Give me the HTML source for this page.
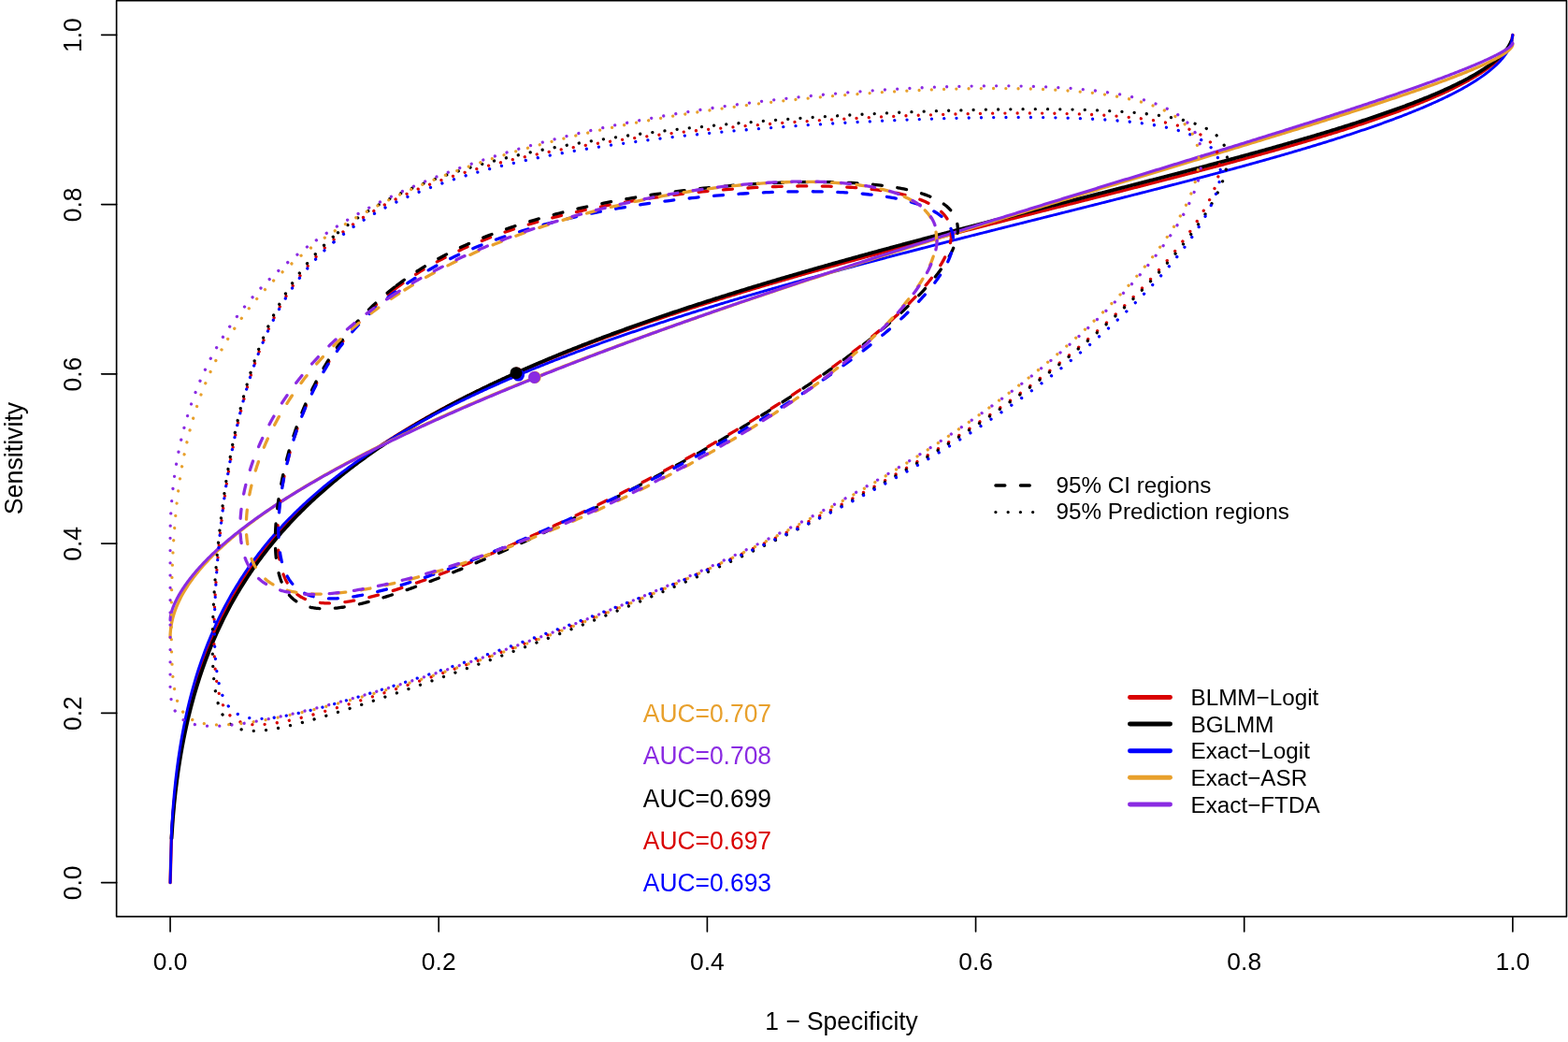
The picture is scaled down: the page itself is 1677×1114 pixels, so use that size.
<!DOCTYPE html>
<html lang="en"><head><meta charset="utf-8"><title>SROC curves</title>
<style>html,body{margin:0;padding:0;background:#fff;}body{width:1677px;height:1114px;overflow:hidden;}svg{display:block;}</style>
</head><body>
<svg width="1677" height="1114" viewBox="0 0 1677 1114" role="img" aria-label="SROC curves with 95% confidence and prediction regions">
<rect x="0" y="0" width="1677" height="1114" fill="#fff"/>
<g fill="none" stroke-linecap="round" stroke-linejoin="round">
<path d="M182.06,943.64 L183.50,893.42 L184.93,871.70 L186.37,855.28 L187.80,841.66 L189.24,829.85 L190.67,819.34 L192.11,809.82 L193.55,801.08 L194.98,792.98 L196.42,785.42 L197.85,778.32 L199.29,771.62 L200.73,765.26 L202.16,759.21 L203.60,753.44 L205.03,747.92 L206.47,742.62 L207.90,737.53 L209.34,732.62 L210.78,727.89 L212.21,723.31 L213.65,718.88 L215.08,714.59 L216.52,710.43 L217.96,706.38 L219.39,702.45 L220.83,698.63 L222.26,694.90 L223.70,691.27 L225.13,687.72 L226.57,684.26 L228.01,680.88 L229.44,677.58 L230.88,674.35 L232.31,671.18 L233.75,668.09 L235.19,665.05 L236.62,662.08 L238.06,659.16 L239.49,656.30 L240.93,653.49 L242.36,650.73 L243.80,648.02 L245.24,645.36 L246.67,642.74 L248.11,640.17 L249.54,637.64 L250.98,635.15 L252.42,632.70 L253.85,630.28 L255.29,627.91 L256.72,625.57 L258.16,623.26 L259.59,620.99 L261.03,618.75 L262.47,616.54 L263.90,614.36 L265.34,612.21 L266.77,610.09 L268.21,608.00 L269.65,605.93 L271.08,603.89 L272.52,601.88 L273.95,599.89 L275.39,597.93 L276.82,595.99 L278.26,594.07 L279.70,592.18 L281.13,590.30 L282.57,588.45 L284.00,586.62 L285.44,584.81 L286.87,583.02 L288.31,581.25 L289.75,579.50 L291.18,577.77 L292.62,576.05 L294.05,574.36 L295.49,572.68 L296.93,571.01 L298.36,569.37 L299.80,567.74 L301.23,566.13 L302.67,564.53 L304.10,562.95 L305.54,561.38 L306.98,559.83 L308.41,558.29 L309.85,556.76 L311.28,555.25 L312.72,553.76 L314.16,552.27 L315.59,550.80 L317.03,549.35 L318.46,547.90 L319.90,546.47 L321.33,545.05 L322.77,543.64 L324.21,542.24 L325.64,540.86 L327.08,539.48 L328.51,538.12 L329.95,536.77 L331.39,535.43 L332.82,534.10 L334.26,532.78 L335.69,531.47 L337.13,530.17 L338.56,528.88 L340.00,527.60 L341.44,526.33 L342.87,525.07 L344.31,523.82 L345.74,522.57 L347.18,521.34 L348.62,520.11 L350.05,518.90 L351.49,517.69 L352.92,516.49 L354.36,515.30 L355.79,514.12 L357.23,512.94 L358.67,511.78 L360.10,510.62 L361.54,509.47 L362.97,508.32 L364.41,507.19 L365.84,506.06 L367.28,504.94 L368.72,503.82 L370.15,502.72 L371.59,501.62 L373.02,500.52 L374.46,499.44 L375.90,498.36 L377.33,497.28 L378.77,496.22 L380.20,495.16 L381.64,494.11 L383.07,493.06 L384.51,492.02 L385.95,490.98 L387.38,489.95 L388.82,488.93 L390.25,487.91 L391.69,486.90 L393.13,485.90 L394.56,484.90 L396.00,483.90 L397.43,482.92 L398.87,481.93 L400.30,480.96 L401.74,479.98 L403.18,479.02 L404.61,478.06 L406.05,477.10 L407.48,476.15 L408.92,475.20 L410.36,474.26 L411.79,473.32 L413.23,472.39 L414.66,471.47 L416.10,470.54 L417.53,469.63 L418.97,468.71 L420.41,467.81 L421.84,466.90 L423.28,466.00 L424.71,465.11 L426.15,464.22 L427.59,463.33 L429.02,462.45 L430.46,461.57 L431.89,460.70 L433.33,459.83 L434.76,458.97 L436.20,458.11 L437.64,457.25 L439.07,456.40 L440.51,455.55 L441.94,454.71 L443.38,453.87 L444.82,453.03 L446.25,452.20 L447.69,451.37 L449.12,450.54 L450.56,449.72 L451.99,448.90 L453.43,448.09 L454.87,447.27 L456.30,446.47 L457.74,445.66 L459.17,444.86 L460.61,444.06 L462.04,443.27 L463.48,442.48 L464.92,441.69 L466.35,440.91 L467.79,440.13 L469.22,439.35 L470.66,438.58 L472.10,437.81 L473.53,437.04 L474.97,436.27 L476.40,435.51 L477.84,434.76 L479.27,434.00 L480.71,433.25 L482.15,432.50 L483.58,431.75 L485.02,431.01 L486.45,430.27 L487.89,429.53 L489.33,428.79 L490.76,428.06 L492.20,427.33 L493.63,426.61 L495.07,425.88 L496.50,425.16 L497.94,424.44 L499.38,423.73 L500.81,423.02 L502.25,422.31 L503.68,421.60 L505.12,420.89 L506.56,420.19 L507.99,419.49 L509.43,418.79 L510.86,418.10 L512.30,417.40 L513.73,416.71 L515.17,416.03 L516.61,415.34 L518.04,414.66 L519.48,413.98 L520.91,413.30 L522.35,412.62 L523.79,411.95 L525.22,411.28 L526.66,410.61 L528.09,409.94 L529.53,409.28 L530.96,408.62 L532.40,407.96 L533.84,407.30 L535.27,406.64 L536.71,405.99 L538.14,405.34 L539.58,404.69 L541.02,404.04 L542.45,403.40 L543.89,402.76 L545.32,402.11 L546.76,401.48 L548.19,400.84 L549.63,400.20 L551.07,399.57 L552.50,398.94 L553.94,398.31 L555.37,397.69 L556.81,397.06 L558.24,396.44 L559.68,395.82 L561.12,395.20 L562.55,394.58 L563.99,393.96 L565.42,393.35 L566.86,392.74 L568.30,392.13 L569.73,391.52 L571.17,390.91 L572.60,390.31 L574.04,389.71 L575.47,389.10 L576.91,388.51 L578.35,387.91 L579.78,387.31 L581.22,386.72 L582.65,386.13 L584.09,385.53 L585.53,384.94 L586.96,384.36 L588.40,383.77 L589.83,383.19 L591.27,382.60 L592.70,382.02 L594.14,381.44 L595.58,380.87 L597.01,380.29 L598.45,379.71 L599.88,379.14 L601.32,378.57 L602.76,378.00 L604.19,377.43 L605.63,376.86 L607.06,376.30 L608.50,375.73 L609.93,375.17 L611.37,374.61 L612.81,374.05 L614.24,373.49 L615.68,372.93 L617.11,372.38 L618.55,371.83 L619.99,371.27 L621.42,370.72 L622.86,370.17 L624.29,369.62 L625.73,369.08 L627.16,368.53 L628.60,367.99 L630.04,367.44 L631.47,366.90 L632.91,366.36 L634.34,365.82 L635.78,365.28 L637.21,364.75 L638.65,364.21 L640.09,363.68 L641.52,363.15 L642.96,362.61 L644.39,362.08 L645.83,361.55 L647.27,361.03 L648.70,360.50 L650.14,359.98 L651.57,359.45 L653.01,358.93 L654.44,358.41 L655.88,357.89 L657.32,357.37 L658.75,356.85 L660.19,356.33 L661.62,355.82 L663.06,355.30 L664.50,354.79 L665.93,354.28 L667.37,353.76 L668.80,353.25 L670.24,352.75 L671.67,352.24 L673.11,351.73 L674.55,351.23 L675.98,350.72 L677.42,350.22 L678.85,349.71 L680.29,349.21 L681.73,348.71 L683.16,348.21 L684.60,347.72 L686.03,347.22 L687.47,346.72 L688.90,346.23 L690.34,345.73 L691.78,345.24 L693.21,344.75 L694.65,344.26 L696.08,343.77 L697.52,343.28 L698.96,342.79 L700.39,342.30 L701.83,341.82 L703.26,341.33 L704.70,340.85 L706.13,340.36 L707.57,339.88 L709.01,339.40 L710.44,338.92 L711.88,338.44 L713.31,337.96 L714.75,337.48 L716.19,337.01 L717.62,336.53 L719.06,336.06 L720.49,335.58 L721.93,335.11 L723.36,334.64 L724.80,334.16 L726.24,333.69 L727.67,333.22 L729.11,332.76 L730.54,332.29 L731.98,331.82 L733.41,331.35 L734.85,330.89 L736.29,330.42 L737.72,329.96 L739.16,329.50 L740.59,329.04 L742.03,328.57 L743.47,328.11 L744.90,327.65 L746.34,327.19 L747.77,326.74 L749.21,326.28 L750.64,325.82 L752.08,325.37 L753.52,324.91 L754.95,324.46 L756.39,324.00 L757.82,323.55 L759.26,323.10 L760.70,322.65 L762.13,322.20 L763.57,321.75 L765.00,321.30 L766.44,320.85 L767.87,320.40 L769.31,319.96 L770.75,319.51 L772.18,319.07 L773.62,318.62 L775.05,318.18 L776.49,317.73 L777.93,317.29 L779.36,316.85 L780.80,316.41 L782.23,315.97 L783.67,315.53 L785.10,315.09 L786.54,314.65 L787.98,314.21 L789.41,313.78 L790.85,313.34 L792.28,312.90 L793.72,312.47 L795.16,312.03 L796.59,311.60 L798.03,311.17 L799.46,310.74 L800.90,310.30 L802.33,309.87 L803.77,309.44 L805.21,309.01 L806.64,308.58 L808.08,308.15 L809.51,307.73 L810.95,307.30 L812.38,306.87 L813.82,306.44 L815.26,306.02 L816.69,305.59 L818.13,305.17 L819.56,304.75 L821.00,304.32 L822.44,303.90 L823.87,303.48 L825.31,303.06 L826.74,302.63 L828.18,302.21 L829.61,301.79 L831.05,301.37 L832.49,300.96 L833.92,300.54 L835.36,300.12 L836.79,299.70 L838.23,299.29 L839.67,298.87 L841.10,298.45 L842.54,298.04 L843.97,297.62 L845.41,297.21 L846.84,296.80 L848.28,296.38 L849.72,295.97 L851.15,295.56 L852.59,295.15 L854.02,294.74 L855.46,294.33 L856.90,293.92 L858.33,293.51 L859.77,293.10 L861.20,292.69 L862.64,292.28 L864.07,291.88 L865.51,291.47 L866.95,291.06 L868.38,290.66 L869.82,290.25 L871.25,289.84 L872.69,289.44 L874.13,289.04 L875.56,288.63 L877.00,288.23 L878.43,287.83 L879.87,287.42 L881.30,287.02 L882.74,286.62 L884.18,286.22 L885.61,285.82 L887.05,285.42 L888.48,285.02 L889.92,284.62 L891.36,284.22 L892.79,283.82 L894.23,283.42 L895.66,283.03 L897.10,282.63 L898.53,282.23 L899.97,281.84 L901.41,281.44 L902.84,281.04 L904.28,280.65 L905.71,280.25 L907.15,279.86 L908.58,279.47 L910.02,279.07 L911.46,278.68 L912.89,278.29 L914.33,277.89 L915.76,277.50 L917.20,277.11 L918.64,276.72 L920.07,276.33 L921.51,275.94 L922.94,275.55 L924.38,275.16 L925.81,274.77 L927.25,274.38 L928.69,273.99 L930.12,273.60 L931.56,273.21 L932.99,272.82 L934.43,272.44 L935.87,272.05 L937.30,271.66 L938.74,271.28 L940.17,270.89 L941.61,270.50 L943.04,270.12 L944.48,269.73 L945.92,269.35 L947.35,268.96 L948.79,268.58 L950.22,268.20 L951.66,267.81 L953.10,267.43 L954.53,267.05 L955.97,266.66 L957.40,266.28 L958.84,265.90 L960.27,265.52 L961.71,265.14 L963.15,264.76 L964.58,264.37 L966.02,263.99 L967.45,263.61 L968.89,263.23 L970.33,262.85 L971.76,262.47 L973.20,262.10 L974.63,261.72 L976.07,261.34 L977.50,260.96 L978.94,260.58 L980.38,260.20 L981.81,259.83 L983.25,259.45 L984.68,259.07 L986.12,258.70 L987.56,258.32 L988.99,257.94 L990.43,257.57 L991.86,257.19 L993.30,256.81 L994.73,256.44 L996.17,256.06 L997.61,255.69 L999.04,255.31 L1000.48,254.94 L1001.91,254.57 L1003.35,254.19 L1004.78,253.82 L1006.22,253.45 L1007.66,253.07 L1009.09,252.70 L1010.53,252.33 L1011.96,251.95 L1013.40,251.58 L1014.84,251.21 L1016.27,250.84 L1017.71,250.46 L1019.14,250.09 L1020.58,249.72 L1022.01,249.35 L1023.45,248.98 L1024.89,248.61 L1026.32,248.24 L1027.76,247.87 L1029.19,247.50 L1030.63,247.13 L1032.07,246.76 L1033.50,246.39 L1034.94,246.02 L1036.37,245.65 L1037.81,245.28 L1039.24,244.91 L1040.68,244.54 L1042.12,244.17 L1043.55,243.80 L1044.99,243.43 L1046.42,243.07 L1047.86,242.70 L1049.30,242.33 L1050.73,241.96 L1052.17,241.59 L1053.60,241.23 L1055.04,240.86 L1056.47,240.49 L1057.91,240.12 L1059.35,239.76 L1060.78,239.39 L1062.22,239.02 L1063.65,238.66 L1065.09,238.29 L1066.53,237.92 L1067.96,237.56 L1069.40,237.19 L1070.83,236.83 L1072.27,236.46 L1073.70,236.09 L1075.14,235.73 L1076.58,235.36 L1078.01,235.00 L1079.45,234.63 L1080.88,234.27 L1082.32,233.90 L1083.75,233.54 L1085.19,233.17 L1086.63,232.81 L1088.06,232.44 L1089.50,232.08 L1090.93,231.71 L1092.37,231.35 L1093.81,230.98 L1095.24,230.62 L1096.68,230.25 L1098.11,229.89 L1099.55,229.53 L1100.98,229.16 L1102.42,228.80 L1103.86,228.43 L1105.29,228.07 L1106.73,227.71 L1108.16,227.34 L1109.60,226.98 L1111.04,226.61 L1112.47,226.25 L1113.91,225.89 L1115.34,225.52 L1116.78,225.16 L1118.21,224.80 L1119.65,224.43 L1121.09,224.07 L1122.52,223.70 L1123.96,223.34 L1125.39,222.98 L1126.83,222.61 L1128.27,222.25 L1129.70,221.89 L1131.14,221.52 L1132.57,221.16 L1134.01,220.80 L1135.44,220.43 L1136.88,220.07 L1138.32,219.71 L1139.75,219.34 L1141.19,218.98 L1142.62,218.62 L1144.06,218.25 L1145.50,217.89 L1146.93,217.53 L1148.37,217.16 L1149.80,216.80 L1151.24,216.44 L1152.67,216.07 L1154.11,215.71 L1155.55,215.35 L1156.98,214.98 L1158.42,214.62 L1159.85,214.26 L1161.29,213.89 L1162.73,213.53 L1164.16,213.16 L1165.60,212.80 L1167.03,212.44 L1168.47,212.07 L1169.90,211.71 L1171.34,211.35 L1172.78,210.98 L1174.21,210.62 L1175.65,210.25 L1177.08,209.89 L1178.52,209.52 L1179.95,209.16 L1181.39,208.80 L1182.83,208.43 L1184.26,208.07 L1185.70,207.70 L1187.13,207.34 L1188.57,206.97 L1190.01,206.61 L1191.44,206.24 L1192.88,205.88 L1194.31,205.51 L1195.75,205.15 L1197.18,204.78 L1198.62,204.41 L1200.06,204.05 L1201.49,203.68 L1202.93,203.32 L1204.36,202.95 L1205.80,202.58 L1207.24,202.22 L1208.67,201.85 L1210.11,201.48 L1211.54,201.12 L1212.98,200.75 L1214.41,200.38 L1215.85,200.02 L1217.29,199.65 L1218.72,199.28 L1220.16,198.91 L1221.59,198.55 L1223.03,198.18 L1224.47,197.81 L1225.90,197.44 L1227.34,197.07 L1228.77,196.70 L1230.21,196.33 L1231.64,195.97 L1233.08,195.60 L1234.52,195.23 L1235.95,194.86 L1237.39,194.49 L1238.82,194.12 L1240.26,193.75 L1241.70,193.38 L1243.13,193.01 L1244.57,192.63 L1246.00,192.26 L1247.44,191.89 L1248.87,191.52 L1250.31,191.15 L1251.75,190.78 L1253.18,190.40 L1254.62,190.03 L1256.05,189.66 L1257.49,189.29 L1258.93,188.91 L1260.36,188.54 L1261.80,188.16 L1263.23,187.79 L1264.67,187.42 L1266.10,187.04 L1267.54,186.67 L1268.98,186.29 L1270.41,185.91 L1271.85,185.54 L1273.28,185.16 L1274.72,184.79 L1276.15,184.41 L1277.59,184.03 L1279.03,183.66 L1280.46,183.28 L1281.90,182.90 L1283.33,182.52 L1284.77,182.14 L1286.21,181.76 L1287.64,181.38 L1289.08,181.00 L1290.51,180.62 L1291.95,180.24 L1293.38,179.86 L1294.82,179.48 L1296.26,179.10 L1297.69,178.72 L1299.13,178.34 L1300.56,177.95 L1302.00,177.57 L1303.44,177.19 L1304.87,176.80 L1306.31,176.42 L1307.74,176.03 L1309.18,175.65 L1310.61,175.26 L1312.05,174.88 L1313.49,174.49 L1314.92,174.10 L1316.36,173.72 L1317.79,173.33 L1319.23,172.94 L1320.67,172.55 L1322.10,172.16 L1323.54,171.77 L1324.97,171.38 L1326.41,170.99 L1327.84,170.60 L1329.28,170.21 L1330.72,169.82 L1332.15,169.43 L1333.59,169.03 L1335.02,168.64 L1336.46,168.25 L1337.90,167.85 L1339.33,167.46 L1340.77,167.06 L1342.20,166.66 L1343.64,166.27 L1345.07,165.87 L1346.51,165.47 L1347.95,165.07 L1349.38,164.67 L1350.82,164.27 L1352.25,163.87 L1353.69,163.47 L1355.12,163.07 L1356.56,162.67 L1358.00,162.27 L1359.43,161.86 L1360.87,161.46 L1362.30,161.05 L1363.74,160.65 L1365.18,160.24 L1366.61,159.84 L1368.05,159.43 L1369.48,159.02 L1370.92,158.61 L1372.35,158.20 L1373.79,157.79 L1375.23,157.38 L1376.66,156.97 L1378.10,156.56 L1379.53,156.14 L1380.97,155.73 L1382.41,155.31 L1383.84,154.90 L1385.28,154.48 L1386.71,154.06 L1388.15,153.65 L1389.58,153.23 L1391.02,152.81 L1392.46,152.39 L1393.89,151.97 L1395.33,151.54 L1396.76,151.12 L1398.20,150.70 L1399.64,150.27 L1401.07,149.84 L1402.51,149.42 L1403.94,148.99 L1405.38,148.56 L1406.81,148.13 L1408.25,147.70 L1409.69,147.27 L1411.12,146.84 L1412.56,146.40 L1413.99,145.97 L1415.43,145.53 L1416.87,145.09 L1418.30,144.66 L1419.74,144.22 L1421.17,143.78 L1422.61,143.33 L1424.04,142.89 L1425.48,142.45 L1426.92,142.00 L1428.35,141.56 L1429.79,141.11 L1431.22,140.66 L1432.66,140.21 L1434.10,139.76 L1435.53,139.31 L1436.97,138.86 L1438.40,138.40 L1439.84,137.94 L1441.27,137.49 L1442.71,137.03 L1444.15,136.57 L1445.58,136.11 L1447.02,135.64 L1448.45,135.18 L1449.89,134.71 L1451.32,134.24 L1452.76,133.78 L1454.20,133.30 L1455.63,132.83 L1457.07,132.36 L1458.50,131.88 L1459.94,131.41 L1461.38,130.93 L1462.81,130.45 L1464.25,129.97 L1465.68,129.48 L1467.12,129.00 L1468.55,128.51 L1469.99,128.02 L1471.43,127.53 L1472.86,127.04 L1474.30,126.54 L1475.73,126.04 L1477.17,125.55 L1478.61,125.04 L1480.04,124.54 L1481.48,124.04 L1482.91,123.53 L1484.35,123.02 L1485.78,122.51 L1487.22,122.00 L1488.66,121.48 L1490.09,120.96 L1491.53,120.44 L1492.96,119.92 L1494.40,119.39 L1495.84,118.86 L1497.27,118.33 L1498.71,117.80 L1500.14,117.26 L1501.58,116.73 L1503.01,116.18 L1504.45,115.64 L1505.89,115.09 L1507.32,114.54 L1508.76,113.99 L1510.19,113.43 L1511.63,112.87 L1513.07,112.31 L1514.50,111.75 L1515.94,111.18 L1517.37,110.61 L1518.81,110.03 L1520.24,109.45 L1521.68,108.87 L1523.12,108.28 L1524.55,107.69 L1525.99,107.10 L1527.42,106.50 L1528.86,105.89 L1530.29,105.29 L1531.73,104.68 L1533.17,104.06 L1534.60,103.44 L1536.04,102.82 L1537.47,102.19 L1538.91,101.55 L1540.35,100.91 L1541.78,100.27 L1543.22,99.62 L1544.65,98.96 L1546.09,98.30 L1547.52,97.63 L1548.96,96.96 L1550.40,96.28 L1551.83,95.59 L1553.27,94.90 L1554.70,94.20 L1556.14,93.50 L1557.58,92.78 L1559.01,92.06 L1560.45,91.33 L1561.88,90.59 L1563.32,89.85 L1564.75,89.09 L1566.19,88.33 L1567.63,87.55 L1569.06,86.77 L1570.50,85.97 L1571.93,85.17 L1573.37,84.35 L1574.81,83.52 L1576.24,82.68 L1577.68,81.82 L1579.11,80.95 L1580.55,80.07 L1581.98,79.17 L1583.42,78.25 L1584.86,77.31 L1586.29,76.36 L1587.73,75.39 L1589.16,74.39 L1590.60,73.37 L1592.04,72.33 L1593.47,71.26 L1594.91,70.16 L1596.34,69.03 L1597.78,67.86 L1599.21,66.66 L1600.65,65.41 L1602.09,64.11 L1603.52,62.75 L1604.96,61.33 L1606.39,59.84 L1607.83,58.26 L1609.27,56.57 L1610.70,54.74 L1612.14,52.74 L1613.57,50.49 L1615.01,47.86 L1616.44,44.52 L1617.88,37.32" stroke="#D90000" stroke-width="3.31"/>
<path d="M183.50,896.45 L184.93,875.43 L186.37,859.42 L187.80,846.07 L189.24,834.45 L190.67,824.08 L192.11,814.66 L193.55,806.00 L194.98,797.96 L196.42,790.45 L197.85,783.38 L199.29,776.69 L200.73,770.35 L202.16,764.31 L203.60,758.54 L205.03,753.01 L206.47,747.70 L207.90,742.59 L209.34,737.67 L210.78,732.91 L212.21,728.32 L213.65,723.87 L215.08,719.55 L216.52,715.36 L217.96,711.29 L219.39,707.33 L220.83,703.47 L222.26,699.71 L223.70,696.05 L225.13,692.47 L226.57,688.98 L228.01,685.57 L229.44,682.23 L230.88,678.96 L232.31,675.77 L233.75,672.63 L235.19,669.57 L236.62,666.56 L238.06,663.60 L239.49,660.71 L240.93,657.86 L242.36,655.07 L243.80,652.32 L245.24,649.63 L246.67,646.97 L248.11,644.37 L249.54,641.80 L250.98,639.27 L252.42,636.79 L253.85,634.34 L255.29,631.93 L256.72,629.55 L258.16,627.21 L259.59,624.91 L261.03,622.63 L262.47,620.39 L263.90,618.17 L265.34,615.99 L266.77,613.84 L268.21,611.71 L269.65,609.61 L271.08,607.54 L272.52,605.49 L273.95,603.47 L275.39,601.47 L276.82,599.50 L278.26,597.55 L279.70,595.62 L281.13,593.72 L282.57,591.84 L284.00,589.97 L285.44,588.13 L286.87,586.31 L288.31,584.51 L289.75,582.73 L291.18,580.96 L292.62,579.22 L294.05,577.49 L295.49,575.78 L296.93,574.09 L298.36,572.41 L299.80,570.75 L301.23,569.11 L302.67,567.48 L304.10,565.87 L305.54,564.27 L306.98,562.69 L308.41,561.12 L309.85,559.57 L311.28,558.03 L312.72,556.51 L314.16,554.99 L315.59,553.50 L317.03,552.01 L318.46,550.54 L319.90,549.08 L321.33,547.63 L322.77,546.19 L324.21,544.77 L325.64,543.36 L327.08,541.96 L328.51,540.57 L329.95,539.19 L331.39,537.82 L332.82,536.46 L334.26,535.12 L335.69,533.78 L337.13,532.46 L338.56,531.14 L340.00,529.84 L341.44,528.54 L342.87,527.25 L344.31,525.98 L345.74,524.71 L347.18,523.45 L348.62,522.20 L350.05,520.96 L351.49,519.73 L352.92,518.50 L354.36,517.29 L355.79,516.08 L357.23,514.88 L358.67,513.69 L360.10,512.51 L361.54,511.33 L362.97,510.17 L364.41,509.01 L365.84,507.86 L367.28,506.71 L368.72,505.58 L370.15,504.45 L371.59,503.32 L373.02,502.21 L374.46,501.10 L375.90,500.00 L377.33,498.90 L378.77,497.81 L380.20,496.73 L381.64,495.66 L383.07,494.59 L384.51,493.52 L385.95,492.47 L387.38,491.42 L388.82,490.37 L390.25,489.34 L391.69,488.30 L393.13,487.28 L394.56,486.26 L396.00,485.24 L397.43,484.23 L398.87,483.23 L400.30,482.23 L401.74,481.24 L403.18,480.25 L404.61,479.27 L406.05,478.29 L407.48,477.32 L408.92,476.36 L410.36,475.39 L411.79,474.44 L413.23,473.49 L414.66,472.54 L416.10,471.60 L417.53,470.66 L418.97,469.73 L420.41,468.80 L421.84,467.88 L423.28,466.96 L424.71,466.05 L426.15,465.14 L427.59,464.24 L429.02,463.34 L430.46,462.44 L431.89,461.55 L433.33,460.66 L434.76,459.78 L436.20,458.90 L437.64,458.03 L439.07,457.16 L440.51,456.29 L441.94,455.43 L443.38,454.57 L444.82,453.71 L446.25,452.86 L447.69,452.02 L449.12,451.17 L450.56,450.33 L451.99,449.50 L453.43,448.67 L454.87,447.84 L456.30,447.01 L457.74,446.19 L459.17,445.37 L460.61,444.56 L462.04,443.75 L463.48,442.94 L464.92,442.14 L466.35,441.34 L467.79,440.54 L469.22,439.75 L470.66,438.96 L472.10,438.17 L473.53,437.39 L474.97,436.61 L476.40,435.83 L477.84,435.05 L479.27,434.28 L480.71,433.51 L482.15,432.75 L483.58,431.99 L485.02,431.23 L486.45,430.47 L487.89,429.72 L489.33,428.97 L490.76,428.22 L492.20,427.48 L493.63,426.73 L495.07,426.00 L496.50,425.26 L497.94,424.53 L499.38,423.80 L500.81,423.07 L502.25,422.34 L503.68,421.62 L505.12,420.90 L506.56,420.18 L507.99,419.47 L509.43,418.76 L510.86,418.05 L512.30,417.34 L513.73,416.64 L515.17,415.93 L516.61,415.23 L518.04,414.54 L519.48,413.84 L520.91,413.15 L522.35,412.46 L523.79,411.77 L525.22,411.09 L526.66,410.40 L528.09,409.72 L529.53,409.05 L530.96,408.37 L532.40,407.70 L533.84,407.03 L535.27,406.36 L536.71,405.69 L538.14,405.02 L539.58,404.36 L541.02,403.70 L542.45,403.04 L543.89,402.39 L545.32,401.73 L546.76,401.08 L548.19,400.43 L549.63,399.78 L551.07,399.14 L552.50,398.49 L553.94,397.85 L555.37,397.21 L556.81,396.58 L558.24,395.94 L559.68,395.31 L561.12,394.67 L562.55,394.04 L563.99,393.42 L565.42,392.79 L566.86,392.17 L568.30,391.54 L569.73,390.92 L571.17,390.30 L572.60,389.69 L574.04,389.07 L575.47,388.46 L576.91,387.85 L578.35,387.24 L579.78,386.63 L581.22,386.02 L582.65,385.42 L584.09,384.82 L585.53,384.21 L586.96,383.61 L588.40,383.02 L589.83,382.42 L591.27,381.83 L592.70,381.23 L594.14,380.64 L595.58,380.05 L597.01,379.47 L598.45,378.88 L599.88,378.29 L601.32,377.71 L602.76,377.13 L604.19,376.55 L605.63,375.97 L607.06,375.39 L608.50,374.82 L609.93,374.25 L611.37,373.67 L612.81,373.10 L614.24,372.53 L615.68,371.97 L617.11,371.40 L618.55,370.83 L619.99,370.27 L621.42,369.71 L622.86,369.15 L624.29,368.59 L625.73,368.03 L627.16,367.47 L628.60,366.92 L630.04,366.37 L631.47,365.81 L632.91,365.26 L634.34,364.71 L635.78,364.16 L637.21,363.62 L638.65,363.07 L640.09,362.53 L641.52,361.98 L642.96,361.44 L644.39,360.90 L645.83,360.36 L647.27,359.83 L648.70,359.29 L650.14,358.75 L651.57,358.22 L653.01,357.69 L654.44,357.16 L655.88,356.62 L657.32,356.10 L658.75,355.57 L660.19,355.04 L661.62,354.52 L663.06,353.99 L664.50,353.47 L665.93,352.95 L667.37,352.42 L668.80,351.91 L670.24,351.39 L671.67,350.87 L673.11,350.35 L674.55,349.84 L675.98,349.32 L677.42,348.81 L678.85,348.30 L680.29,347.79 L681.73,347.28 L683.16,346.77 L684.60,346.26 L686.03,345.76 L687.47,345.25 L688.90,344.75 L690.34,344.24 L691.78,343.74 L693.21,343.24 L694.65,342.74 L696.08,342.24 L697.52,341.74 L698.96,341.25 L700.39,340.75 L701.83,340.25 L703.26,339.76 L704.70,339.27 L706.13,338.77 L707.57,338.28 L709.01,337.79 L710.44,337.30 L711.88,336.82 L713.31,336.33 L714.75,335.84 L716.19,335.36 L717.62,334.87 L719.06,334.39 L720.49,333.91 L721.93,333.42 L723.36,332.94 L724.80,332.46 L726.24,331.98 L727.67,331.51 L729.11,331.03 L730.54,330.55 L731.98,330.08 L733.41,329.60 L734.85,329.13 L736.29,328.66 L737.72,328.18 L739.16,327.71 L740.59,327.24 L742.03,326.77 L743.47,326.31 L744.90,325.84 L746.34,325.37 L747.77,324.90 L749.21,324.44 L750.64,323.97 L752.08,323.51 L753.52,323.05 L754.95,322.59 L756.39,322.12 L757.82,321.66 L759.26,321.20 L760.70,320.75 L762.13,320.29 L763.57,319.83 L765.00,319.37 L766.44,318.92 L767.87,318.46 L769.31,318.01 L770.75,317.55 L772.18,317.10 L773.62,316.65 L775.05,316.20 L776.49,315.75 L777.93,315.30 L779.36,314.85 L780.80,314.40 L782.23,313.95 L783.67,313.50 L785.10,313.06 L786.54,312.61 L787.98,312.17 L789.41,311.72 L790.85,311.28 L792.28,310.84 L793.72,310.39 L795.16,309.95 L796.59,309.51 L798.03,309.07 L799.46,308.63 L800.90,308.19 L802.33,307.75 L803.77,307.32 L805.21,306.88 L806.64,306.44 L808.08,306.01 L809.51,305.57 L810.95,305.14 L812.38,304.70 L813.82,304.27 L815.26,303.84 L816.69,303.41 L818.13,302.98 L819.56,302.55 L821.00,302.11 L822.44,301.69 L823.87,301.26 L825.31,300.83 L826.74,300.40 L828.18,299.97 L829.61,299.55 L831.05,299.12 L832.49,298.70 L833.92,298.27 L835.36,297.85 L836.79,297.42 L838.23,297.00 L839.67,296.58 L841.10,296.15 L842.54,295.73 L843.97,295.31 L845.41,294.89 L846.84,294.47 L848.28,294.05 L849.72,293.63 L851.15,293.22 L852.59,292.80 L854.02,292.38 L855.46,291.96 L856.90,291.55 L858.33,291.13 L859.77,290.72 L861.20,290.30 L862.64,289.89 L864.07,289.47 L865.51,289.06 L866.95,288.65 L868.38,288.24 L869.82,287.83 L871.25,287.41 L872.69,287.00 L874.13,286.59 L875.56,286.18 L877.00,285.77 L878.43,285.37 L879.87,284.96 L881.30,284.55 L882.74,284.14 L884.18,283.74 L885.61,283.33 L887.05,282.92 L888.48,282.52 L889.92,282.11 L891.36,281.71 L892.79,281.30 L894.23,280.90 L895.66,280.50 L897.10,280.09 L898.53,279.69 L899.97,279.29 L901.41,278.89 L902.84,278.49 L904.28,278.09 L905.71,277.69 L907.15,277.29 L908.58,276.89 L910.02,276.49 L911.46,276.09 L912.89,275.69 L914.33,275.29 L915.76,274.89 L917.20,274.50 L918.64,274.10 L920.07,273.70 L921.51,273.31 L922.94,272.91 L924.38,272.52 L925.81,272.12 L927.25,271.73 L928.69,271.33 L930.12,270.94 L931.56,270.55 L932.99,270.15 L934.43,269.76 L935.87,269.37 L937.30,268.98 L938.74,268.59 L940.17,268.19 L941.61,267.80 L943.04,267.41 L944.48,267.02 L945.92,266.63 L947.35,266.24 L948.79,265.85 L950.22,265.47 L951.66,265.08 L953.10,264.69 L954.53,264.30 L955.97,263.91 L957.40,263.53 L958.84,263.14 L960.27,262.75 L961.71,262.37 L963.15,261.98 L964.58,261.59 L966.02,261.21 L967.45,260.82 L968.89,260.44 L970.33,260.06 L971.76,259.67 L973.20,259.29 L974.63,258.90 L976.07,258.52 L977.50,258.14 L978.94,257.75 L980.38,257.37 L981.81,256.99 L983.25,256.61 L984.68,256.23 L986.12,255.85 L987.56,255.46 L988.99,255.08 L990.43,254.70 L991.86,254.32 L993.30,253.94 L994.73,253.56 L996.17,253.18 L997.61,252.80 L999.04,252.43 L1000.48,252.05 L1001.91,251.67 L1003.35,251.29 L1004.78,250.91 L1006.22,250.53 L1007.66,250.16 L1009.09,249.78 L1010.53,249.40 L1011.96,249.03 L1013.40,248.65 L1014.84,248.27 L1016.27,247.90 L1017.71,247.52 L1019.14,247.14 L1020.58,246.77 L1022.01,246.39 L1023.45,246.02 L1024.89,245.64 L1026.32,245.27 L1027.76,244.89 L1029.19,244.52 L1030.63,244.15 L1032.07,243.77 L1033.50,243.40 L1034.94,243.02 L1036.37,242.65 L1037.81,242.28 L1039.24,241.90 L1040.68,241.53 L1042.12,241.16 L1043.55,240.79 L1044.99,240.41 L1046.42,240.04 L1047.86,239.67 L1049.30,239.30 L1050.73,238.93 L1052.17,238.56 L1053.60,238.18 L1055.04,237.81 L1056.47,237.44 L1057.91,237.07 L1059.35,236.70 L1060.78,236.33 L1062.22,235.96 L1063.65,235.59 L1065.09,235.22 L1066.53,234.85 L1067.96,234.48 L1069.40,234.11 L1070.83,233.74 L1072.27,233.37 L1073.70,233.00 L1075.14,232.63 L1076.58,232.26 L1078.01,231.90 L1079.45,231.53 L1080.88,231.16 L1082.32,230.79 L1083.75,230.42 L1085.19,230.05 L1086.63,229.68 L1088.06,229.32 L1089.50,228.95 L1090.93,228.58 L1092.37,228.21 L1093.81,227.84 L1095.24,227.48 L1096.68,227.11 L1098.11,226.74 L1099.55,226.37 L1100.98,226.01 L1102.42,225.64 L1103.86,225.27 L1105.29,224.91 L1106.73,224.54 L1108.16,224.17 L1109.60,223.80 L1111.04,223.44 L1112.47,223.07 L1113.91,222.70 L1115.34,222.34 L1116.78,221.97 L1118.21,221.60 L1119.65,221.24 L1121.09,220.87 L1122.52,220.51 L1123.96,220.14 L1125.39,219.77 L1126.83,219.41 L1128.27,219.04 L1129.70,218.67 L1131.14,218.31 L1132.57,217.94 L1134.01,217.58 L1135.44,217.21 L1136.88,216.84 L1138.32,216.48 L1139.75,216.11 L1141.19,215.75 L1142.62,215.38 L1144.06,215.01 L1145.50,214.65 L1146.93,214.28 L1148.37,213.92 L1149.80,213.55 L1151.24,213.18 L1152.67,212.82 L1154.11,212.45 L1155.55,212.09 L1156.98,211.72 L1158.42,211.35 L1159.85,210.99 L1161.29,210.62 L1162.73,210.26 L1164.16,209.89 L1165.60,209.52 L1167.03,209.16 L1168.47,208.79 L1169.90,208.43 L1171.34,208.06 L1172.78,207.69 L1174.21,207.33 L1175.65,206.96 L1177.08,206.59 L1178.52,206.23 L1179.95,205.86 L1181.39,205.49 L1182.83,205.13 L1184.26,204.76 L1185.70,204.39 L1187.13,204.03 L1188.57,203.66 L1190.01,203.29 L1191.44,202.93 L1192.88,202.56 L1194.31,202.19 L1195.75,201.82 L1197.18,201.46 L1198.62,201.09 L1200.06,200.72 L1201.49,200.35 L1202.93,199.99 L1204.36,199.62 L1205.80,199.25 L1207.24,198.88 L1208.67,198.51 L1210.11,198.15 L1211.54,197.78 L1212.98,197.41 L1214.41,197.04 L1215.85,196.67 L1217.29,196.30 L1218.72,195.93 L1220.16,195.56 L1221.59,195.19 L1223.03,194.82 L1224.47,194.45 L1225.90,194.08 L1227.34,193.71 L1228.77,193.34 L1230.21,192.97 L1231.64,192.60 L1233.08,192.23 L1234.52,191.86 L1235.95,191.49 L1237.39,191.12 L1238.82,190.75 L1240.26,190.38 L1241.70,190.00 L1243.13,189.63 L1244.57,189.26 L1246.00,188.89 L1247.44,188.52 L1248.87,188.14 L1250.31,187.77 L1251.75,187.40 L1253.18,187.02 L1254.62,186.65 L1256.05,186.28 L1257.49,185.90 L1258.93,185.53 L1260.36,185.15 L1261.80,184.78 L1263.23,184.40 L1264.67,184.03 L1266.10,183.65 L1267.54,183.28 L1268.98,182.90 L1270.41,182.52 L1271.85,182.15 L1273.28,181.77 L1274.72,181.39 L1276.15,181.02 L1277.59,180.64 L1279.03,180.26 L1280.46,179.88 L1281.90,179.50 L1283.33,179.12 L1284.77,178.74 L1286.21,178.36 L1287.64,177.98 L1289.08,177.60 L1290.51,177.22 L1291.95,176.84 L1293.38,176.46 L1294.82,176.08 L1296.26,175.70 L1297.69,175.32 L1299.13,174.93 L1300.56,174.55 L1302.00,174.17 L1303.44,173.78 L1304.87,173.40 L1306.31,173.02 L1307.74,172.63 L1309.18,172.25 L1310.61,171.86 L1312.05,171.47 L1313.49,171.09 L1314.92,170.70 L1316.36,170.31 L1317.79,169.93 L1319.23,169.54 L1320.67,169.15 L1322.10,168.76 L1323.54,168.37 L1324.97,167.98 L1326.41,167.59 L1327.84,167.20 L1329.28,166.81 L1330.72,166.42 L1332.15,166.03 L1333.59,165.63 L1335.02,165.24 L1336.46,164.85 L1337.90,164.45 L1339.33,164.06 L1340.77,163.66 L1342.20,163.27 L1343.64,162.87 L1345.07,162.47 L1346.51,162.08 L1347.95,161.68 L1349.38,161.28 L1350.82,160.88 L1352.25,160.48 L1353.69,160.08 L1355.12,159.68 L1356.56,159.28 L1358.00,158.88 L1359.43,158.48 L1360.87,158.07 L1362.30,157.67 L1363.74,157.26 L1365.18,156.86 L1366.61,156.45 L1368.05,156.05 L1369.48,155.64 L1370.92,155.23 L1372.35,154.83 L1373.79,154.42 L1375.23,154.01 L1376.66,153.60 L1378.10,153.19 L1379.53,152.77 L1380.97,152.36 L1382.41,151.95 L1383.84,151.53 L1385.28,151.12 L1386.71,150.70 L1388.15,150.29 L1389.58,149.87 L1391.02,149.45 L1392.46,149.03 L1393.89,148.61 L1395.33,148.19 L1396.76,147.77 L1398.20,147.35 L1399.64,146.93 L1401.07,146.50 L1402.51,146.08 L1403.94,145.65 L1405.38,145.23 L1406.81,144.80 L1408.25,144.37 L1409.69,143.94 L1411.12,143.51 L1412.56,143.08 L1413.99,142.65 L1415.43,142.21 L1416.87,141.78 L1418.30,141.35 L1419.74,140.91 L1421.17,140.47 L1422.61,140.03 L1424.04,139.59 L1425.48,139.15 L1426.92,138.71 L1428.35,138.27 L1429.79,137.82 L1431.22,137.38 L1432.66,136.93 L1434.10,136.49 L1435.53,136.04 L1436.97,135.59 L1438.40,135.14 L1439.84,134.68 L1441.27,134.23 L1442.71,133.77 L1444.15,133.32 L1445.58,132.86 L1447.02,132.40 L1448.45,131.94 L1449.89,131.48 L1451.32,131.02 L1452.76,130.55 L1454.20,130.08 L1455.63,129.62 L1457.07,129.15 L1458.50,128.68 L1459.94,128.20 L1461.38,127.73 L1462.81,127.26 L1464.25,126.78 L1465.68,126.30 L1467.12,125.82 L1468.55,125.34 L1469.99,124.85 L1471.43,124.37 L1472.86,123.88 L1474.30,123.39 L1475.73,122.90 L1477.17,122.41 L1478.61,121.91 L1480.04,121.41 L1481.48,120.92 L1482.91,120.41 L1484.35,119.91 L1485.78,119.41 L1487.22,118.90 L1488.66,118.39 L1490.09,117.88 L1491.53,117.36 L1492.96,116.85 L1494.40,116.33 L1495.84,115.81 L1497.27,115.29 L1498.71,114.76 L1500.14,114.23 L1501.58,113.70 L1503.01,113.17 L1504.45,112.63 L1505.89,112.09 L1507.32,111.55 L1508.76,111.01 L1510.19,110.46 L1511.63,109.91 L1513.07,109.35 L1514.50,108.80 L1515.94,108.24 L1517.37,107.68 L1518.81,107.11 L1520.24,106.54 L1521.68,105.97 L1523.12,105.39 L1524.55,104.81 L1525.99,104.23 L1527.42,103.64 L1528.86,103.05 L1530.29,102.45 L1531.73,101.85 L1533.17,101.25 L1534.60,100.64 L1536.04,100.03 L1537.47,99.41 L1538.91,98.79 L1540.35,98.16 L1541.78,97.53 L1543.22,96.89 L1544.65,96.25 L1546.09,95.60 L1547.52,94.95 L1548.96,94.29 L1550.40,93.62 L1551.83,92.95 L1553.27,92.28 L1554.70,91.59 L1556.14,90.90 L1557.58,90.21 L1559.01,89.50 L1560.45,88.79 L1561.88,88.07 L1563.32,87.34 L1564.75,86.60 L1566.19,85.86 L1567.63,85.10 L1569.06,84.34 L1570.50,83.57 L1571.93,82.78 L1573.37,81.99 L1574.81,81.18 L1576.24,80.36 L1577.68,79.53 L1579.11,78.69 L1580.55,77.83 L1581.98,76.96 L1583.42,76.07 L1584.86,75.16 L1586.29,74.24 L1587.73,73.30 L1589.16,72.34 L1590.60,71.35 L1592.04,70.34 L1593.47,69.31 L1594.91,68.25 L1596.34,67.16 L1597.78,66.04 L1599.21,64.88 L1600.65,63.68 L1602.09,62.43 L1603.52,61.13 L1604.96,59.78 L1606.39,58.35 L1607.83,56.84 L1609.27,55.23 L1610.70,53.49 L1612.14,51.60 L1613.57,49.47 L1615.01,47.00 L1616.44,43.88" stroke="#000000" stroke-width="3.81"/>
<path d="M182.06,943.64 L183.50,888.02 L184.93,865.23 L186.37,848.23 L187.80,834.24 L189.24,822.20 L190.67,811.53 L192.11,801.90 L193.55,793.10 L194.98,784.97 L196.42,777.40 L197.85,770.30 L199.29,763.61 L200.73,757.29 L202.16,751.28 L203.60,745.56 L205.03,740.08 L206.47,734.84 L207.90,729.81 L209.34,724.97 L210.78,720.30 L212.21,715.79 L213.65,711.43 L215.08,707.22 L216.52,703.13 L217.96,699.16 L219.39,695.30 L220.83,691.55 L222.26,687.90 L223.70,684.35 L225.13,680.88 L226.57,677.50 L228.01,674.20 L229.44,670.97 L230.88,667.82 L232.31,664.73 L233.75,661.71 L235.19,658.75 L236.62,655.85 L238.06,653.01 L239.49,650.23 L240.93,647.49 L242.36,644.81 L243.80,642.18 L245.24,639.59 L246.67,637.05 L248.11,634.55 L249.54,632.09 L250.98,629.67 L252.42,627.29 L253.85,624.95 L255.29,622.65 L256.72,620.38 L258.16,618.14 L259.59,615.94 L261.03,613.77 L262.47,611.63 L263.90,609.52 L265.34,607.44 L266.77,605.38 L268.21,603.36 L269.65,601.36 L271.08,599.39 L272.52,597.44 L273.95,595.52 L275.39,593.62 L276.82,591.74 L278.26,589.89 L279.70,588.06 L281.13,586.25 L282.57,584.46 L284.00,582.69 L285.44,580.94 L286.87,579.21 L288.31,577.50 L289.75,575.81 L291.18,574.14 L292.62,572.48 L294.05,570.84 L295.49,569.22 L296.93,567.62 L298.36,566.03 L299.80,564.46 L301.23,562.90 L302.67,561.36 L304.10,559.83 L305.54,558.32 L306.98,556.82 L308.41,555.34 L309.85,553.87 L311.28,552.41 L312.72,550.97 L314.16,549.54 L315.59,548.12 L317.03,546.72 L318.46,545.33 L319.90,543.95 L321.33,542.58 L322.77,541.22 L324.21,539.87 L325.64,538.54 L327.08,537.22 L328.51,535.90 L329.95,534.60 L331.39,533.31 L332.82,532.03 L334.26,530.76 L335.69,529.49 L337.13,528.24 L338.56,527.00 L340.00,525.77 L341.44,524.54 L342.87,523.33 L344.31,522.12 L345.74,520.93 L347.18,519.74 L348.62,518.56 L350.05,517.39 L351.49,516.22 L352.92,515.07 L354.36,513.92 L355.79,512.78 L357.23,511.65 L358.67,510.53 L360.10,509.41 L361.54,508.31 L362.97,507.21 L364.41,506.11 L365.84,505.03 L367.28,503.95 L368.72,502.87 L370.15,501.81 L371.59,500.75 L373.02,499.70 L374.46,498.65 L375.90,497.61 L377.33,496.58 L378.77,495.55 L380.20,494.53 L381.64,493.52 L383.07,492.51 L384.51,491.51 L385.95,490.52 L387.38,489.53 L388.82,488.54 L390.25,487.56 L391.69,486.59 L393.13,485.62 L394.56,484.66 L396.00,483.70 L397.43,482.75 L398.87,481.81 L400.30,480.86 L401.74,479.93 L403.18,479.00 L404.61,478.07 L406.05,477.15 L407.48,476.24 L408.92,475.33 L410.36,474.42 L411.79,473.52 L413.23,472.62 L414.66,471.73 L416.10,470.84 L417.53,469.96 L418.97,469.08 L420.41,468.21 L421.84,467.34 L423.28,466.47 L424.71,465.61 L426.15,464.75 L427.59,463.90 L429.02,463.05 L430.46,462.21 L431.89,461.37 L433.33,460.53 L434.76,459.70 L436.20,458.87 L437.64,458.05 L439.07,457.23 L440.51,456.41 L441.94,455.60 L443.38,454.79 L444.82,453.98 L446.25,453.18 L447.69,452.38 L449.12,451.59 L450.56,450.79 L451.99,450.01 L453.43,449.22 L454.87,448.44 L456.30,447.66 L457.74,446.89 L459.17,446.12 L460.61,445.35 L462.04,444.59 L463.48,443.82 L464.92,443.07 L466.35,442.31 L467.79,441.56 L469.22,440.81 L470.66,440.07 L472.10,439.32 L473.53,438.58 L474.97,437.85 L476.40,437.11 L477.84,436.38 L479.27,435.66 L480.71,434.93 L482.15,434.21 L483.58,433.49 L485.02,432.77 L486.45,432.06 L487.89,431.35 L489.33,430.64 L490.76,429.94 L492.20,429.23 L493.63,428.53 L495.07,427.84 L496.50,427.14 L497.94,426.45 L499.38,425.76 L500.81,425.07 L502.25,424.39 L503.68,423.70 L505.12,423.02 L506.56,422.35 L507.99,421.67 L509.43,421.00 L510.86,420.33 L512.30,419.66 L513.73,419.00 L515.17,418.33 L516.61,417.67 L518.04,417.02 L519.48,416.36 L520.91,415.71 L522.35,415.05 L523.79,414.40 L525.22,413.76 L526.66,413.11 L528.09,412.47 L529.53,411.83 L530.96,411.19 L532.40,410.55 L533.84,409.92 L535.27,409.29 L536.71,408.66 L538.14,408.03 L539.58,407.40 L541.02,406.78 L542.45,406.16 L543.89,405.54 L545.32,404.92 L546.76,404.30 L548.19,403.69 L549.63,403.07 L551.07,402.46 L552.50,401.85 L553.94,401.25 L555.37,400.64 L556.81,400.04 L558.24,399.44 L559.68,398.84 L561.12,398.24 L562.55,397.64 L563.99,397.05 L565.42,396.46 L566.86,395.87 L568.30,395.28 L569.73,394.69 L571.17,394.11 L572.60,393.52 L574.04,392.94 L575.47,392.36 L576.91,391.78 L578.35,391.20 L579.78,390.63 L581.22,390.05 L582.65,389.48 L584.09,388.91 L585.53,388.34 L586.96,387.77 L588.40,387.21 L589.83,386.64 L591.27,386.08 L592.70,385.52 L594.14,384.96 L595.58,384.40 L597.01,383.84 L598.45,383.29 L599.88,382.73 L601.32,382.18 L602.76,381.63 L604.19,381.08 L605.63,380.53 L607.06,379.99 L608.50,379.44 L609.93,378.90 L611.37,378.35 L612.81,377.81 L614.24,377.27 L615.68,376.73 L617.11,376.20 L618.55,375.66 L619.99,375.13 L621.42,374.59 L622.86,374.06 L624.29,373.53 L625.73,373.00 L627.16,372.47 L628.60,371.95 L630.04,371.42 L631.47,370.90 L632.91,370.38 L634.34,369.85 L635.78,369.33 L637.21,368.81 L638.65,368.30 L640.09,367.78 L641.52,367.26 L642.96,366.75 L644.39,366.24 L645.83,365.72 L647.27,365.21 L648.70,364.70 L650.14,364.20 L651.57,363.69 L653.01,363.18 L654.44,362.68 L655.88,362.17 L657.32,361.67 L658.75,361.17 L660.19,360.67 L661.62,360.17 L663.06,359.67 L664.50,359.17 L665.93,358.68 L667.37,358.18 L668.80,357.69 L670.24,357.20 L671.67,356.70 L673.11,356.21 L674.55,355.72 L675.98,355.23 L677.42,354.75 L678.85,354.26 L680.29,353.77 L681.73,353.29 L683.16,352.80 L684.60,352.32 L686.03,351.84 L687.47,351.36 L688.90,350.88 L690.34,350.40 L691.78,349.92 L693.21,349.44 L694.65,348.97 L696.08,348.49 L697.52,348.02 L698.96,347.55 L700.39,347.07 L701.83,346.60 L703.26,346.13 L704.70,345.66 L706.13,345.19 L707.57,344.72 L709.01,344.26 L710.44,343.79 L711.88,343.33 L713.31,342.86 L714.75,342.40 L716.19,341.94 L717.62,341.47 L719.06,341.01 L720.49,340.55 L721.93,340.09 L723.36,339.64 L724.80,339.18 L726.24,338.72 L727.67,338.26 L729.11,337.81 L730.54,337.36 L731.98,336.90 L733.41,336.45 L734.85,336.00 L736.29,335.55 L737.72,335.10 L739.16,334.65 L740.59,334.20 L742.03,333.75 L743.47,333.30 L744.90,332.85 L746.34,332.41 L747.77,331.96 L749.21,331.52 L750.64,331.08 L752.08,330.63 L753.52,330.19 L754.95,329.75 L756.39,329.31 L757.82,328.87 L759.26,328.43 L760.70,327.99 L762.13,327.55 L763.57,327.12 L765.00,326.68 L766.44,326.24 L767.87,325.81 L769.31,325.37 L770.75,324.94 L772.18,324.51 L773.62,324.08 L775.05,323.64 L776.49,323.21 L777.93,322.78 L779.36,322.35 L780.80,321.92 L782.23,321.49 L783.67,321.07 L785.10,320.64 L786.54,320.21 L787.98,319.79 L789.41,319.36 L790.85,318.94 L792.28,318.51 L793.72,318.09 L795.16,317.67 L796.59,317.24 L798.03,316.82 L799.46,316.40 L800.90,315.98 L802.33,315.56 L803.77,315.14 L805.21,314.72 L806.64,314.31 L808.08,313.89 L809.51,313.47 L810.95,313.05 L812.38,312.64 L813.82,312.22 L815.26,311.81 L816.69,311.39 L818.13,310.98 L819.56,310.57 L821.00,310.15 L822.44,309.74 L823.87,309.33 L825.31,308.92 L826.74,308.51 L828.18,308.10 L829.61,307.69 L831.05,307.28 L832.49,306.87 L833.92,306.47 L835.36,306.06 L836.79,305.65 L838.23,305.24 L839.67,304.84 L841.10,304.43 L842.54,304.03 L843.97,303.62 L845.41,303.22 L846.84,302.82 L848.28,302.41 L849.72,302.01 L851.15,301.61 L852.59,301.21 L854.02,300.81 L855.46,300.41 L856.90,300.01 L858.33,299.61 L859.77,299.21 L861.20,298.81 L862.64,298.41 L864.07,298.01 L865.51,297.62 L866.95,297.22 L868.38,296.82 L869.82,296.43 L871.25,296.03 L872.69,295.63 L874.13,295.24 L875.56,294.85 L877.00,294.45 L878.43,294.06 L879.87,293.66 L881.30,293.27 L882.74,292.88 L884.18,292.49 L885.61,292.10 L887.05,291.71 L888.48,291.31 L889.92,290.92 L891.36,290.53 L892.79,290.14 L894.23,289.76 L895.66,289.37 L897.10,288.98 L898.53,288.59 L899.97,288.20 L901.41,287.81 L902.84,287.43 L904.28,287.04 L905.71,286.66 L907.15,286.27 L908.58,285.88 L910.02,285.50 L911.46,285.11 L912.89,284.73 L914.33,284.35 L915.76,283.96 L917.20,283.58 L918.64,283.19 L920.07,282.81 L921.51,282.43 L922.94,282.05 L924.38,281.67 L925.81,281.28 L927.25,280.90 L928.69,280.52 L930.12,280.14 L931.56,279.76 L932.99,279.38 L934.43,279.00 L935.87,278.62 L937.30,278.24 L938.74,277.87 L940.17,277.49 L941.61,277.11 L943.04,276.73 L944.48,276.35 L945.92,275.98 L947.35,275.60 L948.79,275.22 L950.22,274.85 L951.66,274.47 L953.10,274.09 L954.53,273.72 L955.97,273.34 L957.40,272.97 L958.84,272.59 L960.27,272.22 L961.71,271.85 L963.15,271.47 L964.58,271.10 L966.02,270.72 L967.45,270.35 L968.89,269.98 L970.33,269.61 L971.76,269.23 L973.20,268.86 L974.63,268.49 L976.07,268.12 L977.50,267.75 L978.94,267.37 L980.38,267.00 L981.81,266.63 L983.25,266.26 L984.68,265.89 L986.12,265.52 L987.56,265.15 L988.99,264.78 L990.43,264.41 L991.86,264.04 L993.30,263.67 L994.73,263.31 L996.17,262.94 L997.61,262.57 L999.04,262.20 L1000.48,261.83 L1001.91,261.46 L1003.35,261.10 L1004.78,260.73 L1006.22,260.36 L1007.66,259.99 L1009.09,259.63 L1010.53,259.26 L1011.96,258.89 L1013.40,258.53 L1014.84,258.16 L1016.27,257.80 L1017.71,257.43 L1019.14,257.06 L1020.58,256.70 L1022.01,256.33 L1023.45,255.97 L1024.89,255.60 L1026.32,255.24 L1027.76,254.87 L1029.19,254.51 L1030.63,254.14 L1032.07,253.78 L1033.50,253.42 L1034.94,253.05 L1036.37,252.69 L1037.81,252.32 L1039.24,251.96 L1040.68,251.60 L1042.12,251.23 L1043.55,250.87 L1044.99,250.51 L1046.42,250.14 L1047.86,249.78 L1049.30,249.42 L1050.73,249.06 L1052.17,248.69 L1053.60,248.33 L1055.04,247.97 L1056.47,247.61 L1057.91,247.24 L1059.35,246.88 L1060.78,246.52 L1062.22,246.16 L1063.65,245.80 L1065.09,245.44 L1066.53,245.07 L1067.96,244.71 L1069.40,244.35 L1070.83,243.99 L1072.27,243.63 L1073.70,243.27 L1075.14,242.91 L1076.58,242.55 L1078.01,242.19 L1079.45,241.82 L1080.88,241.46 L1082.32,241.10 L1083.75,240.74 L1085.19,240.38 L1086.63,240.02 L1088.06,239.66 L1089.50,239.30 L1090.93,238.94 L1092.37,238.58 L1093.81,238.22 L1095.24,237.86 L1096.68,237.50 L1098.11,237.14 L1099.55,236.78 L1100.98,236.42 L1102.42,236.06 L1103.86,235.70 L1105.29,235.34 L1106.73,234.98 L1108.16,234.62 L1109.60,234.26 L1111.04,233.90 L1112.47,233.54 L1113.91,233.18 L1115.34,232.82 L1116.78,232.46 L1118.21,232.10 L1119.65,231.74 L1121.09,231.38 L1122.52,231.02 L1123.96,230.66 L1125.39,230.30 L1126.83,229.94 L1128.27,229.58 L1129.70,229.22 L1131.14,228.86 L1132.57,228.50 L1134.01,228.14 L1135.44,227.78 L1136.88,227.42 L1138.32,227.06 L1139.75,226.70 L1141.19,226.34 L1142.62,225.98 L1144.06,225.62 L1145.50,225.26 L1146.93,224.90 L1148.37,224.54 L1149.80,224.18 L1151.24,223.82 L1152.67,223.46 L1154.11,223.10 L1155.55,222.74 L1156.98,222.38 L1158.42,222.01 L1159.85,221.65 L1161.29,221.29 L1162.73,220.93 L1164.16,220.57 L1165.60,220.21 L1167.03,219.85 L1168.47,219.49 L1169.90,219.12 L1171.34,218.76 L1172.78,218.40 L1174.21,218.04 L1175.65,217.68 L1177.08,217.32 L1178.52,216.95 L1179.95,216.59 L1181.39,216.23 L1182.83,215.87 L1184.26,215.50 L1185.70,215.14 L1187.13,214.78 L1188.57,214.42 L1190.01,214.05 L1191.44,213.69 L1192.88,213.33 L1194.31,212.96 L1195.75,212.60 L1197.18,212.24 L1198.62,211.87 L1200.06,211.51 L1201.49,211.14 L1202.93,210.78 L1204.36,210.41 L1205.80,210.05 L1207.24,209.68 L1208.67,209.32 L1210.11,208.95 L1211.54,208.59 L1212.98,208.22 L1214.41,207.86 L1215.85,207.49 L1217.29,207.13 L1218.72,206.76 L1220.16,206.39 L1221.59,206.03 L1223.03,205.66 L1224.47,205.29 L1225.90,204.92 L1227.34,204.56 L1228.77,204.19 L1230.21,203.82 L1231.64,203.45 L1233.08,203.08 L1234.52,202.71 L1235.95,202.35 L1237.39,201.98 L1238.82,201.61 L1240.26,201.24 L1241.70,200.87 L1243.13,200.50 L1244.57,200.13 L1246.00,199.76 L1247.44,199.38 L1248.87,199.01 L1250.31,198.64 L1251.75,198.27 L1253.18,197.90 L1254.62,197.52 L1256.05,197.15 L1257.49,196.78 L1258.93,196.41 L1260.36,196.03 L1261.80,195.66 L1263.23,195.28 L1264.67,194.91 L1266.10,194.53 L1267.54,194.16 L1268.98,193.78 L1270.41,193.41 L1271.85,193.03 L1273.28,192.65 L1274.72,192.28 L1276.15,191.90 L1277.59,191.52 L1279.03,191.14 L1280.46,190.77 L1281.90,190.39 L1283.33,190.01 L1284.77,189.63 L1286.21,189.25 L1287.64,188.87 L1289.08,188.49 L1290.51,188.11 L1291.95,187.73 L1293.38,187.34 L1294.82,186.96 L1296.26,186.58 L1297.69,186.19 L1299.13,185.81 L1300.56,185.43 L1302.00,185.04 L1303.44,184.66 L1304.87,184.27 L1306.31,183.89 L1307.74,183.50 L1309.18,183.11 L1310.61,182.73 L1312.05,182.34 L1313.49,181.95 L1314.92,181.56 L1316.36,181.17 L1317.79,180.78 L1319.23,180.39 L1320.67,180.00 L1322.10,179.61 L1323.54,179.22 L1324.97,178.83 L1326.41,178.43 L1327.84,178.04 L1329.28,177.64 L1330.72,177.25 L1332.15,176.86 L1333.59,176.46 L1335.02,176.06 L1336.46,175.67 L1337.90,175.27 L1339.33,174.87 L1340.77,174.47 L1342.20,174.07 L1343.64,173.67 L1345.07,173.27 L1346.51,172.87 L1347.95,172.47 L1349.38,172.07 L1350.82,171.66 L1352.25,171.26 L1353.69,170.85 L1355.12,170.45 L1356.56,170.04 L1358.00,169.64 L1359.43,169.23 L1360.87,168.82 L1362.30,168.41 L1363.74,168.00 L1365.18,167.59 L1366.61,167.18 L1368.05,166.77 L1369.48,166.36 L1370.92,165.94 L1372.35,165.53 L1373.79,165.11 L1375.23,164.70 L1376.66,164.28 L1378.10,163.86 L1379.53,163.45 L1380.97,163.03 L1382.41,162.61 L1383.84,162.19 L1385.28,161.76 L1386.71,161.34 L1388.15,160.92 L1389.58,160.49 L1391.02,160.07 L1392.46,159.64 L1393.89,159.21 L1395.33,158.79 L1396.76,158.36 L1398.20,157.93 L1399.64,157.49 L1401.07,157.06 L1402.51,156.63 L1403.94,156.19 L1405.38,155.76 L1406.81,155.32 L1408.25,154.88 L1409.69,154.45 L1411.12,154.01 L1412.56,153.57 L1413.99,153.12 L1415.43,152.68 L1416.87,152.24 L1418.30,151.79 L1419.74,151.34 L1421.17,150.90 L1422.61,150.45 L1424.04,150.00 L1425.48,149.54 L1426.92,149.09 L1428.35,148.64 L1429.79,148.18 L1431.22,147.72 L1432.66,147.26 L1434.10,146.80 L1435.53,146.34 L1436.97,145.88 L1438.40,145.42 L1439.84,144.95 L1441.27,144.48 L1442.71,144.02 L1444.15,143.55 L1445.58,143.07 L1447.02,142.60 L1448.45,142.13 L1449.89,141.65 L1451.32,141.17 L1452.76,140.69 L1454.20,140.21 L1455.63,139.73 L1457.07,139.24 L1458.50,138.76 L1459.94,138.27 L1461.38,137.78 L1462.81,137.29 L1464.25,136.79 L1465.68,136.30 L1467.12,135.80 L1468.55,135.30 L1469.99,134.80 L1471.43,134.29 L1472.86,133.79 L1474.30,133.28 L1475.73,132.77 L1477.17,132.26 L1478.61,131.74 L1480.04,131.23 L1481.48,130.71 L1482.91,130.19 L1484.35,129.66 L1485.78,129.14 L1487.22,128.61 L1488.66,128.08 L1490.09,127.54 L1491.53,127.01 L1492.96,126.47 L1494.40,125.93 L1495.84,125.38 L1497.27,124.83 L1498.71,124.28 L1500.14,123.73 L1501.58,123.17 L1503.01,122.62 L1504.45,122.05 L1505.89,121.49 L1507.32,120.92 L1508.76,120.35 L1510.19,119.77 L1511.63,119.19 L1513.07,118.61 L1514.50,118.03 L1515.94,117.44 L1517.37,116.84 L1518.81,116.25 L1520.24,115.65 L1521.68,115.04 L1523.12,114.43 L1524.55,113.82 L1525.99,113.20 L1527.42,112.58 L1528.86,111.95 L1530.29,111.32 L1531.73,110.69 L1533.17,110.04 L1534.60,109.40 L1536.04,108.75 L1537.47,108.09 L1538.91,107.43 L1540.35,106.76 L1541.78,106.09 L1543.22,105.41 L1544.65,104.72 L1546.09,104.03 L1547.52,103.34 L1548.96,102.63 L1550.40,101.92 L1551.83,101.20 L1553.27,100.47 L1554.70,99.74 L1556.14,99.00 L1557.58,98.25 L1559.01,97.49 L1560.45,96.72 L1561.88,95.95 L1563.32,95.16 L1564.75,94.36 L1566.19,93.56 L1567.63,92.74 L1569.06,91.91 L1570.50,91.07 L1571.93,90.22 L1573.37,89.35 L1574.81,88.48 L1576.24,87.58 L1577.68,86.68 L1579.11,85.75 L1580.55,84.81 L1581.98,83.85 L1583.42,82.88 L1584.86,81.88 L1586.29,80.86 L1587.73,79.82 L1589.16,78.76 L1590.60,77.67 L1592.04,76.55 L1593.47,75.40 L1594.91,74.22 L1596.34,73.00 L1597.78,71.74 L1599.21,70.43 L1600.65,69.08 L1602.09,67.67 L1603.52,66.20 L1604.96,64.65 L1606.39,63.02 L1607.83,61.29 L1609.27,59.43 L1610.70,57.41 L1612.14,55.19 L1613.57,52.68 L1615.01,49.72 L1616.44,45.92 L1617.88,37.32" stroke="#0000FF" stroke-width="2.90"/>
<path d="M182.06,681.49 L182.07,680.25 L182.10,679.02 L182.15,677.78 L182.22,676.54 L182.31,675.30 L182.42,674.05 L182.54,672.81 L182.69,671.56 L182.86,670.31 L183.05,669.06 L183.25,667.81 L183.48,666.56 L183.73,665.31 L183.99,664.05 L184.28,662.79 L184.59,661.53 L184.91,660.27 L185.26,659.01 L185.62,657.75 L186.01,656.48 L186.41,655.22 L186.83,653.95 L187.28,652.68 L187.74,651.41 L188.22,650.13 L188.72,648.86 L189.25,647.58 L189.79,646.31 L190.35,645.03 L190.93,643.75 L191.53,642.47 L192.15,641.19 L192.79,639.90 L193.44,638.62 L194.12,637.33 L194.82,636.04 L195.53,634.75 L196.27,633.46 L197.03,632.17 L197.80,630.88 L198.59,629.59 L199.41,628.29 L200.24,626.99 L201.09,625.70 L201.96,624.40 L202.85,623.10 L203.76,621.79 L204.69,620.49 L205.64,619.19 L206.60,617.88 L207.59,616.58 L208.59,615.27 L209.62,613.96 L210.66,612.65 L211.72,611.34 L212.80,610.03 L213.90,608.72 L215.02,607.40 L216.16,606.09 L217.31,604.77 L218.49,603.45 L219.68,602.14 L220.89,600.82 L222.12,599.50 L223.37,598.18 L224.64,596.85 L225.93,595.53 L227.23,594.21 L228.56,592.88 L229.90,591.56 L231.26,590.23 L232.64,588.90 L234.04,587.57 L235.45,586.24 L236.89,584.91 L238.34,583.58 L239.81,582.25 L241.30,580.92 L242.81,579.58 L244.33,578.25 L245.87,576.92 L247.43,575.58 L249.01,574.24 L250.61,572.91 L252.22,571.57 L253.86,570.23 L255.51,568.89 L257.18,567.55 L258.86,566.21 L260.56,564.87 L262.28,563.52 L264.02,562.18 L265.78,560.84 L267.55,559.49 L269.34,558.15 L271.15,556.80 L272.98,555.46 L274.82,554.11 L276.68,552.76 L278.56,551.41 L280.45,550.07 L282.36,548.72 L284.29,547.37 L286.23,546.02 L288.20,544.67 L290.17,543.32 L292.17,541.96 L294.18,540.61 L296.21,539.26 L298.26,537.91 L300.32,536.55 L302.40,535.20 L304.49,533.85 L306.60,532.49 L308.73,531.14 L310.87,529.78 L313.03,528.43 L315.21,527.07 L317.40,525.71 L319.61,524.36 L321.84,523.00 L324.08,521.64 L326.33,520.29 L328.60,518.93 L330.89,517.57 L333.19,516.21 L335.51,514.85 L337.85,513.49 L340.20,512.14 L342.56,510.78 L344.94,509.42 L347.34,508.06 L349.75,506.70 L352.18,505.34 L354.62,503.98 L357.07,502.62 L359.54,501.26 L362.03,499.90 L364.53,498.54 L367.05,497.18 L369.58,495.82 L372.12,494.46 L374.68,493.10 L377.26,491.74 L379.84,490.38 L382.45,489.02 L385.06,487.66 L387.69,486.30 L390.34,484.93 L393.00,483.57 L395.67,482.21 L398.36,480.85 L401.06,479.49 L403.77,478.13 L406.50,476.77 L409.24,475.41 L412.00,474.05 L414.76,472.69 L417.55,471.34 L420.34,469.98 L423.15,468.62 L425.97,467.26 L428.81,465.90 L431.65,464.54 L434.51,463.18 L437.39,461.83 L440.27,460.47 L443.17,459.11 L446.08,457.75 L449.00,456.40 L451.94,455.04 L454.89,453.68 L457.85,452.33 L460.82,450.97 L463.81,449.62 L466.80,448.26 L469.81,446.91 L472.83,445.55 L475.86,444.20 L478.91,442.85 L481.96,441.49 L485.03,440.14 L488.11,438.79 L491.20,437.44 L494.30,436.09 L497.41,434.74 L500.53,433.39 L503.67,432.04 L506.81,430.69 L509.97,429.34 L513.14,427.99 L516.31,426.65 L519.50,425.30 L522.70,423.95 L525.91,422.61 L529.13,421.26 L532.35,419.92 L535.59,418.58 L538.84,417.23 L542.10,415.89 L545.37,414.55 L548.65,413.21 L551.94,411.87 L555.24,410.53 L558.54,409.19 L561.86,407.85 L565.19,406.51 L568.52,405.18 L571.87,403.84 L575.22,402.51 L578.58,401.17 L581.95,399.84 L585.33,398.51 L588.72,397.17 L592.12,395.84 L595.53,394.51 L598.94,393.18 L602.36,391.86 L605.79,390.53 L609.23,389.20 L612.68,387.88 L616.13,386.55 L619.60,385.23 L623.07,383.91 L626.54,382.58 L630.03,381.26 L633.52,379.94 L637.02,378.62 L640.53,377.31 L644.04,375.99 L647.56,374.67 L651.09,373.36 L654.63,372.04 L658.17,370.73 L661.72,369.42 L665.27,368.11 L668.83,366.80 L672.40,365.49 L675.98,364.18 L679.56,362.88 L683.14,361.57 L686.74,360.27 L690.33,358.97 L693.94,357.67 L697.55,356.37 L701.16,355.07 L704.78,353.77 L708.41,352.47 L712.04,351.18 L715.68,349.88 L719.32,348.59 L722.97,347.30 L726.62,346.01 L730.27,344.72 L733.93,343.43 L737.60,342.15 L741.27,340.86 L744.94,339.58 L748.62,338.30 L752.30,337.02 L755.99,335.74 L759.68,334.46 L763.38,333.18 L767.07,331.91 L770.78,330.63 L774.48,329.36 L778.19,328.09 L781.90,326.82 L785.62,325.55 L789.34,324.29 L793.06,323.02 L796.78,321.76 L800.51,320.50 L804.24,319.23 L807.98,317.98 L811.71,316.72 L815.45,315.46 L819.19,314.21 L822.93,312.96 L826.68,311.71 L830.42,310.46 L834.17,309.21 L837.92,307.96 L841.67,306.72 L845.43,305.47 L849.18,304.23 L852.94,302.99 L856.70,301.76 L860.45,300.52 L864.21,299.29 L867.98,298.05 L871.74,296.82 L875.50,295.59 L879.26,294.37 L883.03,293.14 L886.79,291.92 L890.56,290.69 L894.32,289.47 L898.09,288.26 L901.85,287.04 L905.62,285.82 L909.38,284.61 L913.15,283.40 L916.91,282.19 L920.68,280.98 L924.44,279.78 L928.20,278.58 L931.96,277.37 L935.73,276.17 L939.49,274.98 L943.24,273.78 L947.00,272.59 L950.76,271.39 L954.51,270.20 L958.27,269.02 L962.02,267.83 L965.77,266.65 L969.52,265.46 L973.26,264.28 L977.01,263.11 L980.75,261.93 L984.49,260.76 L988.23,259.59 L991.96,258.42 L995.70,257.25 L999.43,256.08 L1003.16,254.92 L1006.88,253.76 L1010.60,252.60 L1014.32,251.44 L1018.04,250.29 L1021.75,249.14 L1025.46,247.99 L1029.16,246.84 L1032.87,245.69 L1036.56,244.55 L1040.26,243.41 L1043.95,242.27 L1047.64,241.13 L1051.32,239.99 L1055.00,238.86 L1058.67,237.73 L1062.34,236.60 L1066.01,235.48 L1069.67,234.35 L1073.32,233.23 L1076.97,232.11 L1080.62,231.00 L1084.26,229.88 L1087.90,228.77 L1091.53,227.66 L1095.16,226.55 L1098.78,225.45 L1102.39,224.35 L1106.00,223.25 L1109.61,222.15 L1113.20,221.05 L1116.80,219.96 L1120.38,218.87 L1123.96,217.78 L1127.54,216.70 L1131.11,215.62 L1134.67,214.54 L1138.22,213.46 L1141.77,212.38 L1145.31,211.31 L1148.85,210.24 L1152.38,209.17 L1155.90,208.11 L1159.41,207.04 L1162.92,205.98 L1166.42,204.92 L1169.91,203.87 L1173.40,202.82 L1176.87,201.77 L1180.34,200.72 L1183.81,199.67 L1187.26,198.63 L1190.71,197.59 L1194.15,196.56 L1197.58,195.52 L1201.00,194.49 L1204.41,193.46 L1207.82,192.44 L1211.22,191.41 L1214.61,190.39 L1217.99,189.37 L1221.36,188.36 L1224.72,187.35 L1228.07,186.34 L1231.42,185.33 L1234.75,184.32 L1238.08,183.32 L1241.40,182.32 L1244.70,181.33 L1248.00,180.33 L1251.29,179.34 L1254.57,178.36 L1257.84,177.37 L1261.10,176.39 L1264.35,175.41 L1267.59,174.43 L1270.81,173.46 L1274.03,172.49 L1277.24,171.52 L1280.44,170.56 L1283.63,169.59 L1286.80,168.63 L1289.97,167.68 L1293.13,166.72 L1296.27,165.77 L1299.41,164.83 L1302.53,163.88 L1305.64,162.94 L1308.74,162.00 L1311.83,161.07 L1314.91,160.13 L1317.98,159.20 L1321.03,158.28 L1324.08,157.35 L1327.11,156.43 L1330.13,155.51 L1333.14,154.60 L1336.13,153.69 L1339.12,152.78 L1342.09,151.87 L1345.05,150.97 L1348.00,150.07 L1350.94,149.17 L1353.86,148.28 L1356.77,147.39 L1359.67,146.50 L1362.55,145.62 L1365.43,144.74 L1368.29,143.86 L1371.13,142.99 L1373.97,142.11 L1376.79,141.25 L1379.60,140.38 L1382.39,139.52 L1385.18,138.66 L1387.94,137.80 L1390.70,136.95 L1393.44,136.10 L1396.17,135.25 L1398.88,134.41 L1401.58,133.57 L1404.27,132.73 L1406.94,131.90 L1409.60,131.07 L1412.25,130.24 L1414.88,129.42 L1417.49,128.60 L1420.10,127.78 L1422.68,126.97 L1425.26,126.16 L1427.82,125.35 L1430.36,124.55 L1432.89,123.74 L1435.41,122.95 L1437.91,122.15 L1440.40,121.36 L1442.87,120.57 L1445.32,119.79 L1447.76,119.01 L1450.19,118.23 L1452.60,117.46 L1455.00,116.69 L1457.38,115.92 L1459.74,115.16 L1462.09,114.39 L1464.43,113.64 L1466.75,112.88 L1469.05,112.13 L1471.34,111.39 L1473.61,110.64 L1475.86,109.90 L1478.10,109.17 L1480.33,108.43 L1482.54,107.70 L1484.73,106.98 L1486.91,106.25 L1489.07,105.53 L1491.21,104.82 L1493.34,104.10 L1495.45,103.39 L1497.54,102.69 L1499.62,101.99 L1501.68,101.29 L1503.73,100.59 L1505.76,99.90 L1507.77,99.21 L1509.77,98.53 L1511.74,97.85 L1513.71,97.17 L1515.65,96.50 L1517.58,95.83 L1519.49,95.16 L1521.38,94.50 L1523.26,93.84 L1525.12,93.18 L1526.96,92.53 L1528.79,91.88 L1530.60,91.23 L1532.39,90.59 L1534.16,89.95 L1535.92,89.32 L1537.66,88.69 L1539.38,88.06 L1541.08,87.44 L1542.76,86.82 L1544.43,86.20 L1546.08,85.59 L1547.72,84.98 L1549.33,84.37 L1550.93,83.77 L1552.51,83.17 L1554.07,82.58 L1555.61,81.99 L1557.13,81.40 L1558.64,80.82 L1560.13,80.24 L1561.60,79.66 L1563.05,79.09 L1564.49,78.52 L1565.90,77.95 L1567.30,77.39 L1568.68,76.84 L1570.04,76.28 L1571.38,75.73 L1572.71,75.19 L1574.01,74.64 L1575.30,74.10 L1576.57,73.57 L1577.82,73.04 L1579.05,72.51 L1580.26,71.99 L1581.45,71.47 L1582.63,70.95 L1583.78,70.44 L1584.92,69.93 L1586.04,69.42 L1587.14,68.92 L1588.22,68.43 L1589.28,67.93 L1590.32,67.44 L1591.35,66.96 L1592.35,66.48 L1593.34,66.00 L1594.30,65.52 L1595.25,65.05 L1596.18,64.59 L1597.09,64.12 L1597.98,63.66 L1598.85,63.21 L1599.70,62.76 L1600.53,62.31 L1601.35,61.87 L1602.14,61.43 L1602.91,60.99 L1603.67,60.56 L1604.41,60.13 L1605.12,59.71 L1605.82,59.29 L1606.50,58.87 L1607.15,58.46 L1607.79,58.05 L1608.41,57.64 L1609.01,57.24 L1609.59,56.84 L1610.15,56.45 L1610.69,56.06 L1611.22,55.68 L1611.72,55.30 L1612.20,54.92 L1612.66,54.55 L1613.11,54.18 L1613.53,53.81 L1613.93,53.45 L1614.32,53.09 L1614.68,52.74 L1615.03,52.39 L1615.35,52.04 L1615.66,51.70 L1615.95,51.36 L1616.21,51.03 L1616.46,50.70 L1616.69,50.37 L1616.89,50.05 L1617.08,49.73 L1617.25,49.42 L1617.40,49.11 L1617.52,48.80 L1617.63,48.50 L1617.72,48.20 L1617.79,47.90 L1617.84,47.61 L1617.87,47.33 L1617.88,47.05" stroke="#E8A02C" stroke-width="3.31"/>
<path d="M182.06,662.97 L182.08,662.07 L182.13,661.17 L182.22,660.26 L182.34,659.36 L182.48,658.46 L182.65,657.55 L182.84,656.65 L183.05,655.74 L183.28,654.84 L183.53,653.93 L183.80,653.02 L184.09,652.12 L184.40,651.21 L184.72,650.30 L185.05,649.39 L185.40,648.48 L185.77,647.56 L186.15,646.65 L186.54,645.74 L186.95,644.82 L187.37,643.91 L187.80,642.99 L188.24,642.08 L188.70,641.16 L189.17,640.25 L189.65,639.33 L190.14,638.41 L190.64,637.49 L191.16,636.57 L191.69,635.65 L192.22,634.73 L192.77,633.81 L193.33,632.89 L193.90,631.96 L194.48,631.04 L195.08,630.12 L195.68,629.19 L196.29,628.27 L196.92,627.34 L197.55,626.41 L198.19,625.49 L198.85,624.56 L199.51,623.63 L200.19,622.70 L200.87,621.77 L201.57,620.84 L202.27,619.91 L202.99,618.98 L203.71,618.05 L204.45,617.12 L205.19,616.18 L205.95,615.25 L206.71,614.32 L207.49,613.38 L208.27,612.45 L209.06,611.51 L209.87,610.58 L210.68,609.64 L211.50,608.70 L212.34,607.76 L213.18,606.83 L214.03,605.89 L214.89,604.95 L215.76,604.01 L216.64,603.07 L217.53,602.13 L218.43,601.19 L219.34,600.25 L220.26,599.30 L221.18,598.36 L222.12,597.42 L223.07,596.48 L224.02,595.53 L224.99,594.59 L225.96,593.64 L226.94,592.70 L227.93,591.75 L228.94,590.81 L229.95,589.86 L230.97,588.91 L232.00,587.96 L233.03,587.02 L234.08,586.07 L235.14,585.12 L236.20,584.17 L237.28,583.22 L238.36,582.27 L239.46,581.32 L240.56,580.37 L241.67,579.42 L242.79,578.47 L243.92,577.52 L245.06,576.56 L246.20,575.61 L247.36,574.66 L248.52,573.70 L249.70,572.75 L250.88,571.80 L252.07,570.84 L253.27,569.89 L254.48,568.93 L255.70,567.98 L256.92,567.02 L258.16,566.07 L259.40,565.11 L260.65,564.15 L261.92,563.19 L263.19,562.24 L264.46,561.28 L265.75,560.32 L267.05,559.36 L268.35,558.40 L269.67,557.45 L270.99,556.49 L272.32,555.53 L273.66,554.57 L275.00,553.61 L276.36,552.65 L277.72,551.69 L279.10,550.72 L280.48,549.76 L281.87,548.80 L283.26,547.84 L284.67,546.88 L286.08,545.92 L287.51,544.95 L288.94,543.99 L290.38,543.03 L291.83,542.07 L293.28,541.10 L294.75,540.14 L296.22,539.17 L297.70,538.21 L299.19,537.25 L300.69,536.28 L302.19,535.32 L303.70,534.35 L305.23,533.39 L306.75,532.42 L308.29,531.46 L309.84,530.49 L311.39,529.53 L312.95,528.56 L314.52,527.59 L316.10,526.63 L317.68,525.66 L319.28,524.69 L320.88,523.73 L322.49,522.76 L324.10,521.79 L325.73,520.83 L327.36,519.86 L329.00,518.89 L330.65,517.93 L332.30,516.96 L333.97,515.99 L335.64,515.02 L337.32,514.05 L339.00,513.09 L340.69,512.12 L342.40,511.15 L344.10,510.18 L345.82,509.21 L347.54,508.24 L349.28,507.28 L351.01,506.31 L352.76,505.34 L354.51,504.37 L356.28,503.40 L358.04,502.43 L359.82,501.46 L361.60,500.49 L363.39,499.53 L365.19,498.56 L366.99,497.59 L368.81,496.62 L370.63,495.65 L372.45,494.68 L374.29,493.71 L376.13,492.74 L377.97,491.77 L379.83,490.80 L381.69,489.83 L383.56,488.86 L385.43,487.90 L387.32,486.93 L389.21,485.96 L391.10,484.99 L393.01,484.02 L394.92,483.05 L396.83,482.08 L398.76,481.11 L400.69,480.14 L402.63,479.17 L404.57,478.20 L406.52,477.24 L408.48,476.27 L410.44,475.30 L412.41,474.33 L414.39,473.36 L416.38,472.39 L418.37,471.42 L420.36,470.46 L422.37,469.49 L424.38,468.52 L426.39,467.55 L428.42,466.58 L430.45,465.61 L432.48,464.65 L434.52,463.68 L436.57,462.71 L438.63,461.74 L440.69,460.78 L442.75,459.81 L444.83,458.84 L446.91,457.88 L448.99,456.91 L451.08,455.94 L453.18,454.98 L455.28,454.01 L457.39,453.04 L459.51,452.08 L461.63,451.11 L463.76,450.15 L465.89,449.18 L468.03,448.22 L470.18,447.25 L472.33,446.29 L474.48,445.32 L476.65,444.36 L478.81,443.39 L480.99,442.43 L483.17,441.46 L485.35,440.50 L487.54,439.54 L489.74,438.57 L491.94,437.61 L494.15,436.65 L496.36,435.68 L498.58,434.72 L500.81,433.76 L503.03,432.80 L505.27,431.84 L507.51,430.88 L509.75,429.91 L512.00,428.95 L514.26,427.99 L516.52,427.03 L518.79,426.07 L521.06,425.11 L523.34,424.15 L525.62,423.19 L527.90,422.24 L530.20,421.28 L532.49,420.32 L534.79,419.36 L537.10,418.40 L539.41,417.45 L541.73,416.49 L544.05,415.53 L546.38,414.58 L548.71,413.62 L551.04,412.66 L553.38,411.71 L555.73,410.75 L558.08,409.80 L560.43,408.84 L562.79,407.89 L565.15,406.94 L567.52,405.98 L569.89,405.03 L572.27,404.08 L574.65,403.13 L577.04,402.17 L579.43,401.22 L581.82,400.27 L584.22,399.32 L586.62,398.37 L589.03,397.42 L591.44,396.47 L593.86,395.52 L596.28,394.58 L598.70,393.63 L601.13,392.68 L603.56,391.73 L606.00,390.79 L608.44,389.84 L610.88,388.89 L613.33,387.95 L615.78,387.00 L618.23,386.06 L620.69,385.11 L623.16,384.17 L625.62,383.23 L628.09,382.28 L630.57,381.34 L633.05,380.40 L635.53,379.46 L638.01,378.52 L640.50,377.58 L642.99,376.64 L645.49,375.70 L647.99,374.76 L650.49,373.82 L653.00,372.88 L655.51,371.95 L658.02,371.01 L660.53,370.07 L663.05,369.14 L665.57,368.20 L668.10,367.27 L670.63,366.33 L673.16,365.40 L675.69,364.47 L678.23,363.53 L680.77,362.60 L683.32,361.67 L685.86,360.74 L688.41,359.81 L690.96,358.88 L693.52,357.95 L696.08,357.02 L698.64,356.09 L701.20,355.16 L703.77,354.24 L706.34,353.31 L708.91,352.39 L711.48,351.46 L714.06,350.54 L716.64,349.61 L719.22,348.69 L721.80,347.77 L724.39,346.84 L726.98,345.92 L729.57,345.00 L732.16,344.08 L734.76,343.16 L737.35,342.24 L739.95,341.33 L742.56,340.41 L745.16,339.49 L747.77,338.58 L750.38,337.66 L752.99,336.74 L755.60,335.83 L758.21,334.92 L760.83,334.00 L763.45,333.09 L766.07,332.18 L768.69,331.27 L771.31,330.36 L773.94,329.45 L776.57,328.54 L779.20,327.63 L781.83,326.73 L784.46,325.82 L787.09,324.91 L789.73,324.01 L792.36,323.10 L795.00,322.20 L797.64,321.30 L800.28,320.40 L802.92,319.49 L805.57,318.59 L808.21,317.69 L810.86,316.79 L813.50,315.90 L816.15,315.00 L818.80,314.10 L821.45,313.20 L824.10,312.31 L826.76,311.41 L829.41,310.52 L832.07,309.63 L834.72,308.74 L837.38,307.84 L840.04,306.95 L842.69,306.06 L845.35,305.17 L848.01,304.29 L850.67,303.40 L853.33,302.51 L855.99,301.63 L858.66,300.74 L861.32,299.86 L863.98,298.97 L866.65,298.09 L869.31,297.21 L871.98,296.33 L874.64,295.45 L877.31,294.57 L879.97,293.69 L882.64,292.81 L885.30,291.94 L887.97,291.06 L890.64,290.19 L893.30,289.31 L895.97,288.44 L898.64,287.57 L901.30,286.70 L903.97,285.83 L906.64,284.96 L909.30,284.09 L911.97,283.22 L914.64,282.35 L917.30,281.49 L919.97,280.62 L922.63,279.76 L925.30,278.89 L927.96,278.03 L930.63,277.17 L933.29,276.31 L935.96,275.45 L938.62,274.59 L941.28,273.74 L943.95,272.88 L946.61,272.02 L949.27,271.17 L951.93,270.31 L954.59,269.46 L957.25,268.61 L959.90,267.76 L962.56,266.91 L965.22,266.06 L967.87,265.21 L970.53,264.37 L973.18,263.52 L975.84,262.67 L978.49,261.83 L981.14,260.99 L983.79,260.15 L986.44,259.30 L989.08,258.46 L991.73,257.63 L994.37,256.79 L997.02,255.95 L999.66,255.11 L1002.30,254.28 L1004.94,253.45 L1007.58,252.61 L1010.21,251.78 L1012.85,250.95 L1015.48,250.12 L1018.11,249.29 L1020.74,248.46 L1023.37,247.64 L1026.00,246.81 L1028.63,245.99 L1031.25,245.16 L1033.87,244.34 L1036.49,243.52 L1039.11,242.70 L1041.73,241.88 L1044.34,241.06 L1046.95,240.25 L1049.56,239.43 L1052.17,238.62 L1054.78,237.80 L1057.38,236.99 L1059.99,236.18 L1062.59,235.37 L1065.18,234.56 L1067.78,233.75 L1070.37,232.94 L1072.96,232.14 L1075.55,231.33 L1078.14,230.53 L1080.72,229.73 L1083.30,228.93 L1085.88,228.13 L1088.46,227.33 L1091.03,226.53 L1093.60,225.73 L1096.17,224.94 L1098.74,224.14 L1101.30,223.35 L1103.86,222.56 L1106.42,221.77 L1108.98,220.98 L1111.53,220.19 L1114.08,219.40 L1116.62,218.62 L1119.17,217.83 L1121.71,217.05 L1124.25,216.26 L1126.78,215.48 L1129.31,214.70 L1131.84,213.92 L1134.37,213.15 L1136.89,212.37 L1139.41,211.59 L1141.92,210.82 L1144.43,210.05 L1146.94,209.28 L1149.45,208.51 L1151.95,207.74 L1154.45,206.97 L1156.95,206.20 L1159.44,205.44 L1161.93,204.67 L1164.41,203.91 L1166.89,203.15 L1169.37,202.39 L1171.85,201.63 L1174.32,200.87 L1176.78,200.11 L1179.25,199.36 L1181.71,198.60 L1184.16,197.85 L1186.61,197.10 L1189.06,196.35 L1191.50,195.60 L1193.94,194.85 L1196.38,194.11 L1198.81,193.36 L1201.24,192.62 L1203.66,191.87 L1206.08,191.13 L1208.50,190.39 L1210.91,189.65 L1213.32,188.92 L1215.72,188.18 L1218.12,187.45 L1220.51,186.71 L1222.90,185.98 L1225.29,185.25 L1227.67,184.52 L1230.05,183.79 L1232.42,183.07 L1234.79,182.34 L1237.15,181.62 L1239.51,180.89 L1241.86,180.17 L1244.21,179.45 L1246.56,178.73 L1248.90,178.02 L1251.23,177.30 L1253.56,176.59 L1255.89,175.87 L1258.21,175.16 L1260.53,174.45 L1262.84,173.74 L1265.15,173.04 L1267.45,172.33 L1269.74,171.62 L1272.04,170.92 L1274.32,170.22 L1276.60,169.52 L1278.88,168.82 L1281.15,168.12 L1283.42,167.43 L1285.68,166.73 L1287.94,166.04 L1290.19,165.34 L1292.43,164.65 L1294.67,163.96 L1296.91,163.28 L1299.13,162.59 L1301.36,161.91 L1303.58,161.22 L1305.79,160.54 L1308.00,159.86 L1310.20,159.18 L1312.40,158.50 L1314.59,157.83 L1316.77,157.15 L1318.95,156.48 L1321.13,155.81 L1323.29,155.14 L1325.46,154.47 L1327.61,153.80 L1329.76,153.13 L1331.91,152.47 L1334.05,151.81 L1336.18,151.14 L1338.31,150.48 L1340.43,149.83 L1342.55,149.17 L1344.66,148.51 L1346.76,147.86 L1348.86,147.21 L1350.95,146.56 L1353.03,145.91 L1355.11,145.26 L1357.19,144.61 L1359.25,143.97 L1361.31,143.32 L1363.37,142.68 L1365.42,142.04 L1367.46,141.40 L1369.49,140.76 L1371.52,140.13 L1373.55,139.49 L1375.56,138.86 L1377.57,138.23 L1379.58,137.60 L1381.57,136.97 L1383.56,136.35 L1385.55,135.72 L1387.53,135.10 L1389.50,134.48 L1391.46,133.86 L1393.42,133.24 L1395.37,132.62 L1397.31,132.00 L1399.25,131.39 L1401.18,130.78 L1403.11,130.17 L1405.02,129.56 L1406.93,128.95 L1408.84,128.34 L1410.73,127.74 L1412.62,127.14 L1414.51,126.54 L1416.38,125.94 L1418.25,125.34 L1420.11,124.74 L1421.97,124.15 L1423.81,123.55 L1425.65,122.96 L1427.49,122.37 L1429.31,121.78 L1431.13,121.20 L1432.95,120.61 L1434.75,120.03 L1436.55,119.45 L1438.34,118.87 L1440.12,118.29 L1441.90,117.71 L1443.66,117.14 L1445.43,116.56 L1447.18,115.99 L1448.93,115.42 L1450.66,114.85 L1452.40,114.28 L1454.12,113.72 L1455.84,113.15 L1457.54,112.59 L1459.25,112.03 L1460.94,111.47 L1462.62,110.92 L1464.30,110.36 L1465.97,109.81 L1467.64,109.26 L1469.29,108.71 L1470.94,108.16 L1472.58,107.61 L1474.21,107.06 L1475.84,106.52 L1477.45,105.98 L1479.06,105.44 L1480.66,104.90 L1482.26,104.36 L1483.84,103.83 L1485.42,103.30 L1486.99,102.76 L1488.55,102.23 L1490.10,101.71 L1491.65,101.18 L1493.19,100.66 L1494.71,100.13 L1496.24,99.61 L1497.75,99.09 L1499.25,98.57 L1500.75,98.06 L1502.24,97.54 L1503.72,97.03 L1505.19,96.52 L1506.66,96.01 L1508.11,95.51 L1509.56,95.00 L1511.00,94.50 L1512.43,93.99 L1513.86,93.49 L1515.27,93.00 L1516.68,92.50 L1518.07,92.00 L1519.46,91.51 L1520.84,91.02 L1522.22,90.53 L1523.58,90.04 L1524.94,89.56 L1526.28,89.07 L1527.62,88.59 L1528.95,88.11 L1530.27,87.63 L1531.59,87.16 L1532.89,86.68 L1534.19,86.21 L1535.48,85.74 L1536.75,85.27 L1538.02,84.80 L1539.29,84.33 L1540.54,83.87 L1541.78,83.41 L1543.02,82.95 L1544.24,82.49 L1545.46,82.03 L1546.67,81.58 L1547.87,81.12 L1549.06,80.67 L1550.24,80.22 L1551.42,79.77 L1552.58,79.33 L1553.74,78.89 L1554.88,78.44 L1556.02,78.00 L1557.15,77.57 L1558.27,77.13 L1559.38,76.69 L1560.48,76.26 L1561.58,75.83 L1562.66,75.40 L1563.74,74.98 L1564.80,74.55 L1565.86,74.13 L1566.91,73.71 L1567.94,73.29 L1568.97,72.87 L1569.99,72.45 L1571.00,72.04 L1572.01,71.63 L1573.00,71.22 L1573.98,70.81 L1574.95,70.41 L1575.92,70.00 L1576.87,69.60 L1577.82,69.20 L1578.76,68.80 L1579.68,68.41 L1580.60,68.01 L1581.51,67.62 L1582.41,67.23 L1583.30,66.84 L1584.18,66.45 L1585.05,66.07 L1585.91,65.69 L1586.76,65.31 L1587.60,64.93 L1588.44,64.55 L1589.26,64.18 L1590.07,63.81 L1590.88,63.44 L1591.67,63.07 L1592.45,62.70 L1593.23,62.34 L1593.99,61.97 L1594.75,61.61 L1595.49,61.26 L1596.23,60.90 L1596.95,60.55 L1597.67,60.19 L1598.37,59.84 L1599.07,59.49 L1599.75,59.15 L1600.43,58.81 L1601.09,58.46 L1601.75,58.12 L1602.39,57.79 L1603.02,57.45 L1603.65,57.12 L1604.26,56.79 L1604.86,56.46 L1605.46,56.13 L1606.04,55.80 L1606.61,55.48 L1607.17,55.16 L1607.72,54.84 L1608.25,54.53 L1608.78,54.21 L1609.30,53.90 L1609.80,53.59 L1610.29,53.28 L1610.77,52.98 L1611.24,52.67 L1611.70,52.37 L1612.14,52.08 L1612.57,51.78 L1612.99,51.48 L1613.40,51.19 L1613.79,50.90 L1614.17,50.62 L1614.54,50.33 L1614.89,50.05 L1615.22,49.77 L1615.54,49.49 L1615.85,49.21 L1616.14,48.94 L1616.41,48.67 L1616.66,48.40 L1616.89,48.13 L1617.10,47.87 L1617.29,47.61 L1617.46,47.35 L1617.60,47.09 L1617.72,46.84 L1617.81,46.59 L1617.86,46.34 L1617.88,46.09" stroke="#8A2BE2" stroke-width="3.14"/>
<path d="M422.81,308.70 L420.60,310.41 L418.41,312.14 L416.24,313.88 L414.10,315.63 L411.98,317.39 L409.89,319.16 L407.82,320.95 L405.78,322.74 L403.76,324.55 L401.76,326.37 L399.79,328.20 L397.84,330.05 L395.92,331.90 L394.02,333.77 L392.14,335.64 L390.29,337.53 L388.46,339.43 L386.65,341.33 L384.86,343.25 L383.10,345.18 L381.36,347.12 L379.65,349.06 L377.95,351.02 L376.28,352.98 L374.63,354.96 L373.01,356.94 L371.40,358.94 L369.82,360.94 L368.26,362.95 L366.72,364.96 L365.20,366.99 L363.70,369.02 L362.22,371.07 L360.77,373.11 L359.33,375.17 L357.92,377.23 L356.52,379.30 L355.15,381.38 L353.80,383.46 L352.46,385.54 L351.15,387.64 L349.85,389.74 L348.58,391.84 L347.32,393.95 L346.08,396.06 L344.87,398.18 L343.67,400.30 L342.49,402.43 L341.32,404.56 L340.18,406.70 L339.06,408.83 L337.95,410.97 L336.86,413.12 L335.79,415.26 L334.73,417.41 L333.70,419.56 L332.68,421.71 L331.68,423.86 L330.69,426.02 L329.72,428.17 L328.77,430.33 L327.84,432.49 L326.92,434.64 L326.01,436.80 L325.13,438.95 L324.26,441.11 L323.40,443.26 L322.57,445.41 L321.74,447.56 L320.94,449.71 L320.14,451.86 L319.37,454.01 L318.61,456.15 L317.86,458.29 L317.13,460.42 L316.41,462.56 L315.71,464.68 L315.02,466.81 L314.35,468.93 L313.69,471.05 L313.04,473.16 L312.41,475.27 L311.80,477.37 L311.19,479.46 L310.60,481.55 L310.03,483.64 L309.47,485.72 L308.92,487.79 L308.38,489.85 L307.86,491.91 L307.35,493.96 L306.85,496.00 L306.37,498.04 L305.90,500.07 L305.44,502.09 L305.00,504.10 L304.57,506.10 L304.15,508.09 L303.74,510.08 L303.35,512.05 L302.97,514.02 L302.60,515.97 L302.24,517.92 L301.89,519.86 L301.56,521.78 L301.24,523.70 L300.93,525.60 L300.63,527.49 L300.35,529.38 L300.07,531.25 L299.81,533.11 L299.56,534.95 L299.32,536.79 L299.10,538.61 L298.88,540.43 L298.68,542.23 L298.48,544.01 L298.30,545.79 L298.13,547.55 L297.98,549.30 L297.83,551.03 L297.69,552.75 L297.57,554.46 L297.46,556.16 L297.35,557.84 L297.26,559.51 L297.18,561.16 L297.12,562.80 L297.06,564.42 L297.01,566.03 L296.98,567.63 L296.96,569.21 L296.94,570.78 L296.94,572.33 L296.95,573.87 L296.97,575.39 L297.01,576.90 L297.05,578.39 L297.11,579.87 L297.17,581.33 L297.25,582.78 L297.34,584.21 L297.44,585.62 L297.55,587.02 L297.67,588.40 L297.80,589.77 L297.95,591.12 L298.10,592.46 L298.27,593.78 L298.45,595.08 L298.64,596.37 L298.84,597.64 L299.06,598.90 L299.28,600.13 L299.52,601.36 L299.77,602.56 L300.03,603.75 L300.30,604.92 L300.58,606.08 L300.88,607.22 L301.18,608.34 L301.50,609.45 L301.83,610.54 L302.18,611.61 L302.53,612.67 L302.90,613.71 L303.28,614.73 L303.67,615.73 L304.08,616.72 L304.49,617.69 L304.92,618.65 L305.37,619.59 L305.82,620.51 L306.29,621.41 L306.77,622.30 L307.26,623.17 L307.77,624.02 L308.29,624.86 L308.82,625.68 L309.37,626.48 L309.93,627.26 L310.50,628.03 L311.09,628.78 L311.69,629.51 L312.30,630.23 L312.93,630.93 L313.57,631.61 L314.23,632.28 L314.90,632.93 L315.59,633.56 L316.29,634.17 L317.00,634.77 L317.73,635.35 L318.47,635.91 L319.23,636.45 L320.01,636.98 L320.80,637.49 L321.60,637.99 L322.42,638.46 L323.26,638.92 L324.11,639.37 L324.98,639.79 L325.86,640.20 L326.76,640.59 L327.67,640.97 L328.61,641.32 L329.55,641.66 L330.52,641.99 L331.50,642.29 L332.50,642.58 L333.52,642.85 L334.55,643.11 L335.60,643.34 L336.67,643.57 L337.76,643.77 L338.86,643.95 L339.98,644.12 L341.12,644.28 L342.28,644.41 L343.46,644.53 L344.65,644.63 L345.87,644.71 L347.10,644.78 L348.36,644.83 L349.63,644.86 L350.92,644.88 L352.23,644.88 L353.56,644.86 L354.91,644.82 L356.28,644.77 L357.67,644.70 L359.08,644.61 L360.52,644.51 L361.97,644.39 L363.44,644.25 L364.93,644.10 L366.45,643.92 L367.99,643.73 L369.54,643.53 L371.12,643.30 L372.73,643.06 L374.35,642.81 L375.99,642.53 L377.66,642.24 L379.35,641.93 L381.06,641.61 L382.80,641.26 L384.55,640.90 L386.34,640.52 L388.14,640.13 L389.96,639.72 L391.81,639.29 L393.69,638.84 L395.58,638.38 L397.50,637.90 L399.45,637.41 L401.42,636.89 L403.41,636.36 L405.42,635.81 L407.46,635.25 L409.53,634.66 L411.61,634.06 L413.73,633.45 L415.87,632.81 L418.03,632.16 L420.21,631.49 L422.42,630.81 L424.66,630.11 L426.92,629.39 L429.21,628.65 L431.52,627.90 L433.85,627.13 L436.21,626.34 L438.60,625.53 L441.01,624.71 L443.45,623.87 L445.91,623.02 L448.39,622.14 L450.91,621.25 L453.44,620.35 L456.00,619.42 L458.59,618.48 L461.20,617.53 L463.84,616.55 L466.50,615.56 L469.19,614.55 L471.90,613.53 L474.63,612.48 L477.39,611.42 L480.18,610.35 L482.99,609.26 L485.82,608.15 L488.68,607.02 L491.56,605.88 L494.47,604.72 L497.40,603.54 L500.35,602.35 L503.33,601.14 L506.33,599.92 L509.35,598.68 L512.40,597.42 L515.47,596.15 L518.56,594.86 L521.68,593.55 L524.81,592.23 L527.97,590.89 L531.15,589.53 L534.36,588.16 L537.58,586.78 L540.82,585.37 L544.09,583.96 L547.37,582.52 L550.67,581.08 L554.00,579.61 L557.34,578.13 L560.71,576.64 L564.09,575.13 L567.49,573.60 L570.90,572.06 L574.34,570.51 L577.79,568.94 L581.26,567.35 L584.74,565.75 L588.25,564.14 L591.76,562.51 L595.29,560.87 L598.84,559.22 L602.40,557.55 L605.98,555.86 L609.57,554.16 L613.17,552.45 L616.78,550.73 L620.40,548.99 L624.04,547.24 L627.69,545.48 L631.35,543.70 L635.02,541.91 L638.69,540.11 L642.38,538.30 L646.07,536.47 L649.78,534.63 L653.49,532.78 L657.20,530.92 L660.93,529.05 L664.66,527.16 L668.39,525.27 L672.13,523.36 L675.87,521.45 L679.61,519.52 L683.36,517.58 L687.11,515.63 L690.87,513.68 L694.62,511.71 L698.37,509.73 L702.13,507.75 L705.88,505.75 L709.63,503.75 L713.38,501.73 L717.13,499.71 L720.87,497.68 L724.61,495.65 L728.35,493.60 L732.08,491.55 L735.81,489.49 L739.53,487.43 L743.24,485.35 L746.95,483.27 L750.65,481.19 L754.34,479.10 L758.02,477.00 L761.69,474.90 L765.35,472.79 L769.01,470.68 L772.65,468.56 L776.28,466.44 L779.89,464.31 L783.50,462.18 L787.09,460.05 L790.66,457.91 L794.22,455.77 L797.77,453.63 L801.30,451.49 L804.82,449.34 L808.32,447.19 L811.80,445.04 L815.26,442.88 L818.71,440.73 L822.14,438.58 L825.54,436.42 L828.93,434.26 L832.30,432.11 L835.65,429.95 L838.98,427.80 L842.28,425.64 L845.57,423.49 L848.83,421.34 L852.07,419.18 L855.28,417.03 L858.47,414.89 L861.64,412.74 L864.79,410.60 L867.91,408.46 L871.00,406.32 L874.07,404.19 L877.11,402.06 L880.13,399.93 L883.12,397.81 L886.08,395.69 L889.01,393.58 L891.92,391.47 L894.80,389.37 L897.65,387.27 L900.48,385.18 L903.27,383.09 L906.03,381.01 L908.77,378.94 L911.47,376.87 L914.15,374.81 L916.79,372.75 L919.41,370.71 L921.99,368.67 L924.54,366.64 L927.07,364.61 L929.55,362.60 L932.01,360.59 L934.44,358.59 L936.83,356.60 L939.19,354.61 L941.52,352.64 L943.82,350.68 L946.08,348.72 L948.31,346.78 L950.51,344.84 L952.67,342.91 L954.80,341.00 L956.89,339.09 L958.95,337.20 L960.98,335.31 L962.97,333.44 L964.93,331.58 L966.86,329.72 L968.75,327.88 L970.60,326.05 L972.42,324.24 L974.21,322.43 L975.96,320.63 L977.67,318.85 L979.35,317.08 L980.99,315.32 L982.60,313.57 L984.18,311.84 L985.71,310.11 L987.22,308.40 L988.68,306.71 L990.11,305.02 L991.51,303.35 L992.86,301.69 L994.19,300.04 L995.47,298.41 L996.72,296.79 L997.94,295.18 L999.11,293.59 L1000.25,292.01 L1001.36,290.44 L1002.43,288.88 L1003.46,287.34 L1004.46,285.82 L1005.41,284.30 L1006.34,282.80 L1007.22,281.31 L1008.07,279.84 L1008.89,278.38 L1009.66,276.94 L1010.40,275.51 L1011.10,274.09 L1011.77,272.68 L1012.40,271.29 L1012.99,269.92 L1013.55,268.55 L1014.07,267.21 L1014.55,265.87 L1014.99,264.55 L1015.40,263.24 L1015.78,261.95 L1016.11,260.67 L1016.41,259.41 L1016.67,258.16 L1016.89,256.92 L1017.08,255.70 L1017.23,254.49 L1017.35,253.29 L1017.42,252.11 L1017.46,250.94 L1017.47,249.79 L1017.43,248.65 L1017.36,247.52 L1017.26,246.41 L1017.11,245.31 L1016.93,244.23 L1016.71,243.16 L1016.46,242.10 L1016.17,241.06 L1015.84,240.03 L1015.47,239.02 L1015.07,238.01 L1014.63,237.03 L1014.15,236.05 L1013.64,235.09 L1013.09,234.14 L1012.51,233.21 L1011.88,232.29 L1011.22,231.38 L1010.53,230.49 L1009.79,229.61 L1009.02,228.74 L1008.22,227.89 L1007.37,227.05 L1006.49,226.22 L1005.58,225.40 L1004.63,224.60 L1003.64,223.81 L1002.61,223.04 L1001.55,222.28 L1000.45,221.53 L999.32,220.79 L998.14,220.07 L996.94,219.36 L995.69,218.66 L994.41,217.98 L993.10,217.30 L991.75,216.65 L990.36,216.00 L988.93,215.36 L987.47,214.74 L985.98,214.13 L984.45,213.54 L982.88,212.95 L981.28,212.38 L979.64,211.82 L977.97,211.28 L976.26,210.74 L974.52,210.22 L972.74,209.71 L970.92,209.21 L969.07,208.72 L967.19,208.25 L965.27,207.79 L963.32,207.34 L961.33,206.90 L959.31,206.48 L957.26,206.06 L955.17,205.66 L953.04,205.27 L950.89,204.89 L948.70,204.53 L946.47,204.17 L944.21,203.83 L941.92,203.50 L939.60,203.18 L937.25,202.87 L934.86,202.57 L932.44,202.29 L929.99,202.02 L927.50,201.76 L924.99,201.51 L922.44,201.27 L919.86,201.04 L917.25,200.83 L914.61,200.62 L911.94,200.43 L909.24,200.25 L906.51,200.08 L903.75,199.92 L900.97,199.78 L898.15,199.64 L895.30,199.52 L892.43,199.40 L889.52,199.30 L886.59,199.21 L883.64,199.14 L880.65,199.07 L877.64,199.01 L874.60,198.97 L871.54,198.94 L868.45,198.91 L865.33,198.90 L862.19,198.91 L859.03,198.92 L855.84,198.94 L852.63,198.98 L849.40,199.02 L846.14,199.08 L842.86,199.15 L839.56,199.23 L836.23,199.32 L832.89,199.42 L829.52,199.54 L826.14,199.66 L822.73,199.80 L819.31,199.95 L815.87,200.11 L812.40,200.28 L808.93,200.46 L805.43,200.66 L801.92,200.86 L798.39,201.08 L794.84,201.31 L791.29,201.55 L787.71,201.80 L784.12,202.06 L780.52,202.34 L776.91,202.62 L773.28,202.92 L769.64,203.23 L765.99,203.55 L762.33,203.89 L758.66,204.23 L754.98,204.59 L751.29,204.96 L747.60,205.34 L743.89,205.73 L740.18,206.13 L736.46,206.55 L732.73,206.98 L729.00,207.42 L725.27,207.87 L721.53,208.33 L717.78,208.81 L714.04,209.30 L710.29,209.80 L706.53,210.31 L702.78,210.83 L699.03,211.37 L695.27,211.92 L691.52,212.48 L687.77,213.05 L684.02,213.64 L680.27,214.24 L676.52,214.85 L672.78,215.47 L669.04,216.11 L665.31,216.76 L661.58,217.42 L657.85,218.10 L654.14,218.78 L650.42,219.48 L646.72,220.19 L643.02,220.92 L639.34,221.66 L635.66,222.41 L631.99,223.17 L628.33,223.95 L624.68,224.74 L621.04,225.54 L617.41,226.36 L613.80,227.19 L610.19,228.03 L606.60,228.89 L603.03,229.76 L599.46,230.64 L595.91,231.54 L592.38,232.45 L588.86,233.37 L585.36,234.31 L581.87,235.26 L578.40,236.22 L574.94,237.20 L571.50,238.19 L568.08,239.19 L564.68,240.21 L561.29,241.24 L557.93,242.29 L554.58,243.35 L551.25,244.42 L547.95,245.51 L544.66,246.61 L541.39,247.72 L538.14,248.85 L534.92,249.99 L531.71,251.15 L528.53,252.32 L525.36,253.50 L522.22,254.70 L519.11,255.91 L516.01,257.13 L512.94,258.37 L509.89,259.63 L506.86,260.89 L503.85,262.18 L500.87,263.47 L497.91,264.78 L494.98,266.10 L492.07,267.44 L489.18,268.79 L486.32,270.16 L483.48,271.53 L480.67,272.93 L477.88,274.33 L475.11,275.75 L472.37,277.19 L469.66,278.64 L466.97,280.10 L464.30,281.57 L461.66,283.06 L459.05,284.57 L456.45,286.08 L453.89,287.61 L451.35,289.15 L448.83,290.71 L446.34,292.28 L443.88,293.86 L441.44,295.46 L439.02,297.07 L436.63,298.69 L434.26,300.33 L431.92,301.98 L429.61,303.64 L427.32,305.31 L425.05,307.00 L422.81,308.70" stroke="#D90000" stroke-width="3.31" stroke-dasharray="9.9300 16.5500" stroke-dashoffset="0.00"/>
<path d="M357.07,256.11 L354.22,258.62 L351.42,261.17 L348.67,263.75 L345.97,266.35 L343.32,268.98 L340.71,271.65 L338.16,274.34 L335.65,277.05 L333.19,279.80 L330.77,282.57 L328.40,285.38 L326.08,288.21 L323.80,291.07 L321.56,293.95 L319.36,296.86 L317.21,299.80 L315.10,302.77 L313.02,305.76 L310.99,308.78 L309.00,311.82 L307.05,314.89 L305.13,317.99 L303.26,321.11 L301.42,324.25 L299.61,327.42 L297.84,330.61 L296.11,333.83 L294.41,337.07 L292.75,340.33 L291.12,343.61 L289.52,346.91 L287.96,350.24 L286.43,353.58 L284.93,356.95 L283.46,360.33 L282.01,363.73 L280.60,367.16 L279.22,370.60 L277.87,374.05 L276.54,377.52 L275.25,381.01 L273.98,384.52 L272.73,388.04 L271.52,391.57 L270.32,395.11 L269.16,398.67 L268.02,402.24 L266.90,405.83 L265.81,409.42 L264.74,413.02 L263.69,416.63 L262.67,420.25 L261.66,423.88 L260.68,427.51 L259.72,431.15 L258.79,434.80 L257.87,438.45 L256.97,442.10 L256.10,445.76 L255.24,449.42 L254.40,453.08 L253.58,456.74 L252.78,460.40 L252.00,464.06 L251.23,467.72 L250.48,471.38 L249.75,475.03 L249.04,478.68 L248.34,482.33 L247.66,485.97 L247.00,489.60 L246.35,493.23 L245.71,496.85 L245.10,500.46 L244.49,504.07 L243.90,507.66 L243.33,511.24 L242.77,514.81 L242.22,518.37 L241.69,521.92 L241.17,525.45 L240.67,528.97 L240.18,532.48 L239.70,535.97 L239.23,539.44 L238.77,542.90 L238.33,546.34 L237.90,549.76 L237.48,553.17 L237.08,556.55 L236.68,559.92 L236.30,563.27 L235.92,566.59 L235.56,569.90 L235.21,573.19 L234.87,576.45 L234.54,579.69 L234.22,582.91 L233.92,586.10 L233.62,589.27 L233.33,592.42 L233.05,595.54 L232.78,598.64 L232.52,601.71 L232.27,604.76 L232.03,607.78 L231.80,610.77 L231.58,613.74 L231.37,616.68 L231.17,619.60 L230.97,622.48 L230.79,625.34 L230.61,628.18 L230.45,630.98 L230.29,633.76 L230.14,636.50 L230.00,639.22 L229.86,641.91 L229.74,644.58 L229.62,647.21 L229.52,649.81 L229.42,652.39 L229.33,654.93 L229.24,657.45 L229.17,659.94 L229.10,662.40 L229.04,664.82 L228.99,667.22 L228.95,669.59 L228.92,671.93 L228.89,674.24 L228.87,676.52 L228.87,678.77 L228.86,680.99 L228.87,683.19 L228.88,685.35 L228.91,687.48 L228.94,689.59 L228.98,691.66 L229.02,693.71 L229.08,695.72 L229.14,697.71 L229.21,699.67 L229.29,701.60 L229.38,703.50 L229.47,705.37 L229.58,707.21 L229.69,709.03 L229.81,710.81 L229.94,712.57 L230.08,714.30 L230.23,716.01 L230.38,717.68 L230.54,719.33 L230.72,720.95 L230.90,722.54 L231.09,724.11 L231.29,725.64 L231.50,727.16 L231.71,728.64 L231.94,730.10 L232.18,731.53 L232.42,732.93 L232.68,734.31 L232.94,735.67 L233.21,736.99 L233.50,738.30 L233.79,739.57 L234.10,740.82 L234.41,742.05 L234.74,743.25 L235.07,744.42 L235.42,745.58 L235.78,746.70 L236.14,747.80 L236.52,748.88 L236.91,749.94 L237.32,750.97 L237.73,751.97 L238.15,752.96 L238.59,753.91 L239.04,754.85 L239.50,755.76 L239.98,756.65 L240.47,757.52 L240.97,758.36 L241.48,759.19 L242.01,759.99 L242.55,760.76 L243.10,761.52 L243.67,762.25 L244.25,762.96 L244.85,763.65 L245.46,764.32 L246.09,764.96 L246.73,765.59 L247.39,766.19 L248.06,766.77 L248.75,767.33 L249.46,767.87 L250.18,768.39 L250.92,768.89 L251.68,769.36 L252.46,769.82 L253.25,770.25 L254.06,770.67 L254.89,771.06 L255.74,771.44 L256.61,771.79 L257.50,772.12 L258.41,772.44 L259.34,772.73 L260.29,773.00 L261.26,773.26 L262.25,773.49 L263.27,773.70 L264.31,773.90 L265.37,774.07 L266.45,774.22 L267.56,774.36 L268.69,774.47 L269.85,774.57 L271.03,774.64 L272.23,774.69 L273.47,774.73 L274.73,774.75 L276.01,774.74 L277.33,774.72 L278.67,774.67 L280.04,774.61 L281.44,774.53 L282.86,774.43 L284.32,774.30 L285.81,774.16 L287.33,774.00 L288.88,773.82 L290.47,773.62 L292.08,773.40 L293.73,773.16 L295.42,772.89 L297.13,772.61 L298.89,772.31 L300.68,771.99 L302.50,771.65 L304.36,771.29 L306.26,770.90 L308.20,770.50 L310.18,770.08 L312.19,769.63 L314.25,769.17 L316.34,768.69 L318.48,768.18 L320.66,767.65 L322.88,767.10 L325.14,766.54 L327.45,765.95 L329.80,765.33 L332.20,764.70 L334.64,764.05 L337.13,763.37 L339.67,762.67 L342.25,761.95 L344.88,761.21 L347.56,760.45 L350.29,759.66 L353.07,758.85 L355.90,758.02 L358.78,757.17 L361.71,756.29 L364.70,755.39 L367.74,754.47 L370.83,753.53 L373.98,752.56 L377.18,751.57 L380.43,750.55 L383.75,749.51 L387.11,748.45 L390.54,747.36 L394.02,746.25 L397.56,745.11 L401.16,743.95 L404.81,742.76 L408.53,741.55 L412.30,740.32 L416.14,739.05 L420.03,737.77 L423.98,736.46 L428.00,735.12 L432.07,733.75 L436.21,732.36 L440.41,730.95 L444.67,729.51 L448.99,728.04 L453.37,726.54 L457.82,725.02 L462.32,723.47 L466.89,721.90 L471.52,720.29 L476.21,718.66 L480.96,717.00 L485.78,715.32 L490.65,713.60 L495.59,711.86 L500.59,710.09 L505.65,708.29 L510.76,706.47 L515.94,704.61 L521.18,702.73 L526.47,700.81 L531.83,698.87 L537.24,696.90 L542.71,694.90 L548.23,692.88 L553.81,690.82 L559.45,688.73 L565.14,686.62 L570.88,684.47 L576.68,682.30 L582.53,680.09 L588.42,677.86 L594.37,675.60 L600.36,673.30 L606.41,670.98 L612.49,668.63 L618.63,666.25 L624.80,663.84 L631.02,661.40 L637.28,658.93 L643.58,656.43 L649.92,653.90 L656.29,651.34 L662.70,648.76 L669.15,646.14 L675.62,643.49 L682.13,640.82 L688.66,638.12 L695.22,635.39 L701.81,632.63 L708.42,629.84 L715.05,627.02 L721.71,624.18 L728.38,621.31 L735.07,618.41 L741.77,615.49 L748.49,612.53 L755.22,609.55 L761.96,606.55 L768.70,603.52 L775.45,600.46 L782.21,597.38 L788.97,594.27 L795.72,591.14 L802.48,587.98 L809.23,584.80 L815.98,581.60 L822.72,578.37 L829.45,575.12 L836.17,571.85 L842.88,568.56 L849.58,565.24 L856.25,561.91 L862.91,558.55 L869.55,555.18 L876.17,551.78 L882.77,548.37 L889.34,544.94 L895.88,541.49 L902.40,538.03 L908.89,534.55 L915.34,531.05 L921.77,527.54 L928.16,524.01 L934.51,520.47 L940.83,516.92 L947.11,513.36 L953.34,509.78 L959.54,506.19 L965.70,502.60 L971.81,498.99 L977.88,495.38 L983.90,491.75 L989.88,488.12 L995.81,484.49 L1001.69,480.84 L1007.52,477.20 L1013.30,473.54 L1019.03,469.89 L1024.70,466.23 L1030.32,462.57 L1035.89,458.91 L1041.40,455.25 L1046.86,451.59 L1052.26,447.92 L1057.61,444.27 L1062.90,440.61 L1068.13,436.96 L1073.30,433.31 L1078.41,429.67 L1083.46,426.03 L1088.46,422.40 L1093.39,418.77 L1098.26,415.16 L1103.08,411.55 L1107.83,407.95 L1112.52,404.36 L1117.15,400.79 L1121.72,397.22 L1126.22,393.67 L1130.67,390.13 L1135.05,386.60 L1139.38,383.09 L1143.64,379.59 L1147.83,376.11 L1151.97,372.64 L1156.04,369.19 L1160.06,365.76 L1164.01,362.35 L1167.90,358.95 L1171.73,355.57 L1175.50,352.22 L1179.20,348.88 L1182.85,345.56 L1186.43,342.27 L1189.96,338.99 L1193.42,335.74 L1196.83,332.51 L1200.17,329.31 L1203.46,326.13 L1206.68,322.97 L1209.85,319.83 L1212.96,316.72 L1216.01,313.64 L1219.00,310.58 L1221.93,307.55 L1224.81,304.54 L1227.63,301.56 L1230.39,298.60 L1233.10,295.67 L1235.75,292.77 L1238.35,289.90 L1240.89,287.05 L1243.37,284.23 L1245.80,281.44 L1248.18,278.68 L1250.50,275.94 L1252.77,273.24 L1254.98,270.56 L1257.14,267.91 L1259.25,265.29 L1261.31,262.69 L1263.31,260.13 L1265.27,257.59 L1267.17,255.09 L1269.02,252.61 L1270.82,250.16 L1272.57,247.74 L1274.27,245.35 L1275.92,242.99 L1277.52,240.66 L1279.08,238.35 L1280.58,236.08 L1282.03,233.83 L1283.44,231.61 L1284.80,229.42 L1286.11,227.26 L1287.37,225.13 L1288.59,223.02 L1289.76,220.95 L1290.88,218.90 L1291.96,216.88 L1292.99,214.89 L1293.97,212.92 L1294.91,210.99 L1295.81,209.07 L1296.65,207.19 L1297.45,205.34 L1298.21,203.51 L1298.92,201.70 L1299.59,199.93 L1300.22,198.18 L1300.79,196.45 L1301.33,194.76 L1301.82,193.08 L1302.26,191.44 L1302.67,189.82 L1303.02,188.22 L1303.34,186.65 L1303.61,185.10 L1303.84,183.58 L1304.02,182.08 L1304.16,180.60 L1304.25,179.15 L1304.31,177.73 L1304.32,176.32 L1304.28,174.94 L1304.20,173.58 L1304.08,172.25 L1303.92,170.94 L1303.71,169.65 L1303.45,168.38 L1303.16,167.13 L1302.82,165.90 L1302.43,164.70 L1302.01,163.52 L1301.53,162.36 L1301.02,161.21 L1300.46,160.09 L1299.85,158.99 L1299.20,157.91 L1298.51,156.85 L1297.77,155.81 L1296.99,154.78 L1296.16,153.78 L1295.28,152.80 L1294.36,151.83 L1293.40,150.88 L1292.38,149.95 L1291.33,149.04 L1290.22,148.15 L1289.07,147.28 L1287.88,146.42 L1286.63,145.58 L1285.34,144.75 L1284.00,143.95 L1282.61,143.16 L1281.18,142.38 L1279.69,141.63 L1278.16,140.88 L1276.58,140.16 L1274.95,139.45 L1273.27,138.76 L1271.54,138.08 L1269.76,137.42 L1267.93,136.77 L1266.05,136.14 L1264.12,135.52 L1262.13,134.91 L1260.10,134.33 L1258.01,133.75 L1255.87,133.19 L1253.68,132.65 L1251.43,132.11 L1249.13,131.60 L1246.78,131.09 L1244.37,130.60 L1241.91,130.12 L1239.39,129.66 L1236.82,129.21 L1234.19,128.77 L1231.50,128.35 L1228.76,127.93 L1225.97,127.53 L1223.11,127.15 L1220.20,126.77 L1217.23,126.41 L1214.21,126.06 L1211.12,125.73 L1207.98,125.40 L1204.78,125.09 L1201.52,124.79 L1198.20,124.50 L1194.82,124.22 L1191.38,123.96 L1187.88,123.70 L1184.32,123.46 L1180.70,123.23 L1177.01,123.01 L1173.27,122.80 L1169.47,122.61 L1165.60,122.42 L1161.68,122.25 L1157.69,122.09 L1153.64,121.93 L1149.53,121.79 L1145.35,121.67 L1141.12,121.55 L1136.82,121.44 L1132.46,121.34 L1128.04,121.26 L1123.56,121.19 L1119.02,121.12 L1114.41,121.07 L1109.75,121.03 L1105.02,121.00 L1100.23,120.98 L1095.38,120.97 L1090.47,120.97 L1085.50,120.99 L1080.48,121.01 L1075.39,121.04 L1070.24,121.09 L1065.03,121.15 L1059.77,121.21 L1054.45,121.29 L1049.07,121.38 L1043.63,121.48 L1038.14,121.59 L1032.60,121.72 L1027.00,121.85 L1021.35,121.99 L1015.64,122.15 L1009.88,122.32 L1004.07,122.50 L998.21,122.69 L992.30,122.89 L986.35,123.10 L980.34,123.32 L974.29,123.56 L968.20,123.80 L962.06,124.06 L955.88,124.33 L949.65,124.61 L943.39,124.91 L937.09,125.21 L930.75,125.53 L924.37,125.86 L917.96,126.20 L911.52,126.56 L905.05,126.93 L898.54,127.30 L892.01,127.70 L885.45,128.10 L878.86,128.52 L872.25,128.95 L865.62,129.39 L858.97,129.85 L852.30,130.32 L845.61,130.80 L838.91,131.30 L832.19,131.81 L825.47,132.33 L818.73,132.87 L811.98,133.42 L805.23,133.98 L798.48,134.56 L791.72,135.16 L784.96,135.77 L778.21,136.39 L771.45,137.03 L764.70,137.68 L757.96,138.35 L751.23,139.04 L744.51,139.74 L737.80,140.45 L731.10,141.18 L724.42,141.93 L717.76,142.70 L711.12,143.48 L704.50,144.27 L697.90,145.09 L691.33,145.92 L684.79,146.76 L678.27,147.63 L671.78,148.51 L665.32,149.41 L658.90,150.33 L652.51,151.27 L646.16,152.22 L639.85,153.20 L633.57,154.19 L627.33,155.20 L621.14,156.23 L614.99,157.28 L608.88,158.35 L602.82,159.44 L596.81,160.55 L590.84,161.68 L584.92,162.83 L579.06,164.00 L573.24,165.19 L567.47,166.40 L561.76,167.64 L556.10,168.89 L550.50,170.17 L544.95,171.47 L539.46,172.79 L534.03,174.13 L528.65,175.50 L523.33,176.89 L518.07,178.31 L512.87,179.74 L507.72,181.20 L502.64,182.69 L497.62,184.20 L492.66,185.73 L487.76,187.28 L482.92,188.87 L478.14,190.47 L473.42,192.10 L468.77,193.76 L464.18,195.44 L459.64,197.15 L455.18,198.89 L450.77,200.65 L446.42,202.44 L442.14,204.25 L437.91,206.09 L433.75,207.96 L429.65,209.85 L425.61,211.77 L421.63,213.72 L417.72,215.70 L413.86,217.70 L410.06,219.73 L406.32,221.79 L402.64,223.88 L399.02,226.00 L395.46,228.14 L391.95,230.31 L388.50,232.51 L385.11,234.74 L381.78,237.00 L378.50,239.29 L375.28,241.60 L372.11,243.95 L368.99,246.32 L365.93,248.72 L362.93,251.16 L359.97,253.62 L357.07,256.11" stroke="#D90000" stroke-width="3.31" stroke-dasharray="0.01 13.2343" stroke-dashoffset="0.00"/>
<path d="M421.90,307.00 L419.66,308.76 L417.43,310.53 L415.24,312.31 L413.06,314.11 L410.92,315.92 L408.79,317.74 L406.70,319.57 L404.62,321.42 L402.57,323.28 L400.55,325.15 L398.55,327.03 L396.58,328.92 L394.63,330.83 L392.70,332.74 L390.80,334.67 L388.92,336.61 L387.07,338.56 L385.24,340.52 L383.43,342.49 L381.64,344.47 L379.88,346.46 L378.15,348.46 L376.43,350.48 L374.74,352.50 L373.07,354.53 L371.42,356.57 L369.80,358.62 L368.19,360.67 L366.61,362.74 L365.06,364.82 L363.52,366.90 L362.00,368.99 L360.51,371.09 L359.04,373.20 L357.59,375.31 L356.15,377.43 L354.74,379.56 L353.36,381.70 L351.99,383.84 L350.64,385.98 L349.31,388.14 L348.00,390.30 L346.71,392.46 L345.44,394.63 L344.19,396.81 L342.96,398.99 L341.75,401.17 L340.56,403.36 L339.38,405.55 L338.23,407.74 L337.09,409.94 L335.97,412.14 L334.87,414.35 L333.79,416.56 L332.73,418.76 L331.68,420.98 L330.65,423.19 L329.64,425.40 L328.64,427.62 L327.66,429.83 L326.70,432.05 L325.76,434.27 L324.83,436.49 L323.92,438.70 L323.03,440.92 L322.15,443.13 L321.29,445.35 L320.44,447.56 L319.61,449.77 L318.79,451.98 L318.00,454.19 L317.21,456.39 L316.44,458.59 L315.69,460.79 L314.95,462.99 L314.23,465.18 L313.52,467.36 L312.82,469.55 L312.14,471.73 L311.48,473.90 L310.82,476.07 L310.19,478.23 L309.56,480.39 L308.96,482.54 L308.36,484.69 L307.78,486.82 L307.21,488.96 L306.66,491.08 L306.11,493.20 L305.59,495.31 L305.07,497.42 L304.57,499.51 L304.08,501.60 L303.61,503.68 L303.14,505.75 L302.69,507.81 L302.26,509.86 L301.83,511.91 L301.42,513.94 L301.02,515.96 L300.63,517.98 L300.26,519.98 L299.89,521.97 L299.54,523.96 L299.20,525.93 L298.88,527.89 L298.56,529.84 L298.26,531.77 L297.97,533.70 L297.69,535.61 L297.42,537.52 L297.17,539.41 L296.92,541.28 L296.69,543.15 L296.47,545.00 L296.26,546.84 L296.06,548.66 L295.88,550.48 L295.70,552.28 L295.54,554.06 L295.38,555.83 L295.24,557.59 L295.11,559.34 L294.99,561.07 L294.89,562.78 L294.79,564.48 L294.71,566.17 L294.63,567.84 L294.57,569.50 L294.52,571.14 L294.48,572.77 L294.45,574.38 L294.43,575.98 L294.42,577.56 L294.43,579.12 L294.44,580.67 L294.47,582.21 L294.51,583.73 L294.55,585.23 L294.61,586.72 L294.68,588.19 L294.77,589.64 L294.86,591.08 L294.96,592.51 L295.08,593.91 L295.21,595.30 L295.34,596.68 L295.49,598.03 L295.65,599.37 L295.82,600.70 L296.01,602.00 L296.20,603.29 L296.41,604.57 L296.63,605.82 L296.86,607.06 L297.10,608.28 L297.35,609.49 L297.61,610.68 L297.89,611.85 L298.18,613.01 L298.48,614.14 L298.79,615.26 L299.11,616.37 L299.45,617.45 L299.79,618.52 L300.15,619.57 L300.52,620.61 L300.91,621.62 L301.30,622.62 L301.71,623.60 L302.13,624.57 L302.57,625.51 L303.01,626.44 L303.47,627.36 L303.94,628.25 L304.43,629.13 L304.93,629.99 L305.44,630.83 L305.96,631.66 L306.50,632.47 L307.05,633.26 L307.62,634.03 L308.19,634.78 L308.78,635.52 L309.39,636.24 L310.01,636.95 L310.64,637.63 L311.29,638.30 L311.95,638.95 L312.63,639.58 L313.32,640.20 L314.02,640.80 L314.74,641.38 L315.48,641.94 L316.23,642.49 L316.99,643.01 L317.77,643.52 L318.57,644.02 L319.38,644.49 L320.20,644.95 L321.04,645.39 L321.90,645.82 L322.78,646.22 L323.67,646.61 L324.57,646.98 L325.49,647.34 L326.43,647.67 L327.39,647.99 L328.36,648.29 L329.35,648.58 L330.36,648.84 L331.38,649.09 L332.43,649.33 L333.49,649.54 L334.56,649.74 L335.66,649.92 L336.77,650.08 L337.90,650.23 L339.05,650.35 L340.22,650.46 L341.41,650.56 L342.61,650.63 L343.84,650.69 L345.08,650.73 L346.35,650.76 L347.63,650.76 L348.94,650.75 L350.26,650.72 L351.60,650.68 L352.96,650.61 L354.35,650.53 L355.75,650.43 L357.18,650.32 L358.62,650.19 L360.09,650.04 L361.58,649.87 L363.09,649.68 L364.62,649.48 L366.17,649.26 L367.74,649.03 L369.34,648.77 L370.96,648.50 L372.60,648.21 L374.26,647.90 L375.95,647.58 L377.66,647.24 L379.39,646.88 L381.14,646.50 L382.92,646.11 L384.72,645.70 L386.54,645.27 L388.39,644.82 L390.26,644.36 L392.16,643.88 L394.08,643.38 L396.02,642.87 L397.99,642.33 L399.98,641.78 L402.00,641.21 L404.04,640.63 L406.10,640.02 L408.19,639.40 L410.31,638.77 L412.45,638.11 L414.62,637.44 L416.81,636.75 L419.02,636.04 L421.26,635.31 L423.53,634.57 L425.82,633.81 L428.14,633.03 L430.48,632.24 L432.85,631.42 L435.24,630.59 L437.66,629.75 L440.11,628.88 L442.58,628.00 L445.08,627.10 L447.60,626.18 L450.15,625.25 L452.72,624.30 L455.32,623.33 L457.95,622.34 L460.60,621.33 L463.28,620.31 L465.98,619.27 L468.71,618.22 L471.46,617.14 L474.24,616.05 L477.04,614.95 L479.87,613.82 L482.72,612.68 L485.60,611.52 L488.51,610.34 L491.44,609.15 L494.39,607.94 L497.37,606.71 L500.37,605.47 L503.40,604.21 L506.45,602.93 L509.52,601.63 L512.62,600.32 L515.74,598.99 L518.88,597.65 L522.05,596.29 L525.24,594.91 L528.45,593.51 L531.69,592.10 L534.94,590.68 L538.22,589.23 L541.52,587.77 L544.84,586.30 L548.18,584.81 L551.54,583.30 L554.93,581.77 L558.33,580.24 L561.75,578.68 L565.19,577.11 L568.65,575.52 L572.13,573.92 L575.62,572.31 L579.13,570.68 L582.66,569.03 L586.21,567.37 L589.78,565.69 L593.35,564.00 L596.95,562.30 L600.56,560.58 L604.18,558.84 L607.82,557.09 L611.47,555.33 L615.14,553.56 L618.82,551.77 L622.51,549.96 L626.21,548.15 L629.92,546.32 L633.64,544.47 L637.38,542.62 L641.12,540.75 L644.87,538.87 L648.63,536.98 L652.40,535.07 L656.18,533.15 L659.96,531.22 L663.75,529.28 L667.54,527.33 L671.34,525.37 L675.15,523.39 L678.95,521.41 L682.77,519.41 L686.58,517.41 L690.40,515.39 L694.21,513.36 L698.03,511.33 L701.85,509.28 L705.67,507.23 L709.49,505.16 L713.30,503.09 L717.12,501.01 L720.93,498.92 L724.74,496.82 L728.54,494.71 L732.34,492.60 L736.13,490.48 L739.92,488.35 L743.70,486.22 L747.48,484.08 L751.25,481.93 L755.01,479.78 L758.76,477.62 L762.50,475.45 L766.23,473.28 L769.95,471.11 L773.66,468.93 L777.36,466.74 L781.05,464.55 L784.72,462.36 L788.38,460.17 L792.03,457.97 L795.66,455.77 L799.28,453.56 L802.88,451.35 L806.46,449.14 L810.03,446.93 L813.58,444.72 L817.11,442.50 L820.63,440.29 L824.13,438.07 L827.60,435.86 L831.06,433.64 L834.50,431.42 L837.91,429.20 L841.31,426.99 L844.68,424.77 L848.03,422.56 L851.36,420.35 L854.67,418.14 L857.95,415.93 L861.21,413.72 L864.44,411.52 L867.65,409.32 L870.84,407.12 L873.99,404.93 L877.13,402.73 L880.23,400.55 L883.31,398.37 L886.37,396.19 L889.39,394.01 L892.39,391.85 L895.36,389.68 L898.30,387.53 L901.21,385.37 L904.10,383.23 L906.95,381.09 L909.77,378.96 L912.57,376.83 L915.33,374.71 L918.07,372.60 L920.77,370.49 L923.44,368.40 L926.08,366.31 L928.69,364.23 L931.27,362.15 L933.81,360.09 L936.32,358.03 L938.80,355.99 L941.25,353.95 L943.67,351.92 L946.05,349.90 L948.40,347.89 L950.71,345.90 L952.99,343.91 L955.24,341.93 L957.45,339.96 L959.63,338.00 L961.78,336.06 L963.89,334.12 L965.96,332.20 L968.00,330.28 L970.01,328.38 L971.98,326.49 L973.91,324.61 L975.81,322.75 L977.68,320.89 L979.51,319.05 L981.30,317.22 L983.06,315.40 L984.78,313.60 L986.47,311.80 L988.12,310.03 L989.73,308.26 L991.31,306.50 L992.85,304.76 L994.36,303.04 L995.83,301.32 L997.26,299.62 L998.66,297.93 L1000.02,296.26 L1001.34,294.60 L1002.63,292.95 L1003.88,291.32 L1005.09,289.70 L1006.27,288.09 L1007.41,286.50 L1008.51,284.92 L1009.58,283.36 L1010.61,281.81 L1011.60,280.27 L1012.55,278.75 L1013.47,277.24 L1014.35,275.75 L1015.20,274.27 L1016.00,272.80 L1016.77,271.35 L1017.50,269.92 L1018.20,268.50 L1018.86,267.09 L1019.48,265.69 L1020.06,264.32 L1020.61,262.95 L1021.12,261.60 L1021.59,260.27 L1022.02,258.95 L1022.42,257.64 L1022.78,256.35 L1023.10,255.07 L1023.39,253.80 L1023.64,252.56 L1023.85,251.32 L1024.02,250.10 L1024.16,248.89 L1024.26,247.70 L1024.32,246.53 L1024.34,245.36 L1024.33,244.21 L1024.28,243.08 L1024.19,241.96 L1024.06,240.85 L1023.90,239.76 L1023.70,238.68 L1023.46,237.62 L1023.19,236.57 L1022.88,235.53 L1022.53,234.51 L1022.14,233.51 L1021.72,232.51 L1021.26,231.53 L1020.76,230.57 L1020.22,229.61 L1019.65,228.68 L1019.04,227.75 L1018.39,226.84 L1017.71,225.94 L1016.98,225.06 L1016.23,224.19 L1015.43,223.33 L1014.60,222.49 L1013.73,221.66 L1012.82,220.85 L1011.87,220.04 L1010.89,219.25 L1009.87,218.48 L1008.82,217.71 L1007.73,216.96 L1006.60,216.23 L1005.43,215.50 L1004.23,214.79 L1002.99,214.10 L1001.71,213.41 L1000.40,212.74 L999.05,212.08 L997.66,211.44 L996.24,210.80 L994.78,210.18 L993.29,209.58 L991.75,208.98 L990.19,208.40 L988.58,207.83 L986.94,207.27 L985.27,206.73 L983.55,206.19 L981.81,205.67 L980.02,205.17 L978.20,204.67 L976.35,204.19 L974.46,203.72 L972.53,203.26 L970.57,202.81 L968.58,202.38 L966.54,201.95 L964.48,201.54 L962.38,201.15 L960.24,200.76 L958.07,200.39 L955.87,200.02 L953.63,199.67 L951.36,199.33 L949.06,199.01 L946.72,198.69 L944.35,198.39 L941.94,198.10 L939.50,197.82 L937.03,197.55 L934.53,197.29 L931.99,197.05 L929.43,196.81 L926.83,196.59 L924.19,196.38 L921.53,196.18 L918.84,196.00 L916.11,195.82 L913.36,195.66 L910.57,195.51 L907.76,195.36 L904.91,195.23 L902.03,195.12 L899.13,195.01 L896.20,194.91 L893.24,194.83 L890.25,194.76 L887.23,194.70 L884.18,194.65 L881.11,194.61 L878.01,194.58 L874.89,194.57 L871.74,194.56 L868.56,194.57 L865.36,194.59 L862.13,194.62 L858.88,194.66 L855.60,194.71 L852.30,194.78 L848.98,194.85 L845.64,194.94 L842.27,195.04 L838.88,195.15 L835.47,195.27 L832.04,195.40 L828.59,195.55 L825.12,195.70 L821.62,195.87 L818.11,196.05 L814.59,196.24 L811.04,196.44 L807.48,196.65 L803.90,196.88 L800.30,197.12 L796.69,197.36 L793.06,197.62 L789.42,197.90 L785.76,198.18 L782.09,198.47 L778.41,198.78 L774.72,199.10 L771.01,199.43 L767.29,199.77 L763.56,200.12 L759.82,200.49 L756.07,200.87 L752.32,201.26 L748.55,201.66 L744.78,202.07 L741.00,202.50 L737.21,202.94 L733.42,203.39 L729.62,203.85 L725.82,204.32 L722.01,204.81 L718.20,205.31 L714.39,205.82 L710.57,206.34 L706.75,206.88 L702.93,207.43 L699.12,207.99 L695.30,208.56 L691.48,209.15 L687.66,209.75 L683.85,210.36 L680.04,210.98 L676.23,211.62 L672.42,212.27 L668.62,212.93 L664.83,213.61 L661.04,214.29 L657.25,214.99 L653.47,215.71 L649.70,216.44 L645.94,217.18 L642.19,217.93 L638.44,218.70 L634.70,219.48 L630.98,220.27 L627.26,221.08 L623.56,221.90 L619.86,222.73 L616.18,223.58 L612.51,224.44 L608.86,225.31 L605.22,226.20 L601.59,227.10 L597.97,228.01 L594.37,228.94 L590.79,229.88 L587.22,230.84 L583.67,231.81 L580.14,232.79 L576.62,233.79 L573.12,234.80 L569.63,235.83 L566.17,236.87 L562.72,237.92 L559.30,238.99 L555.89,240.07 L552.50,241.17 L549.14,242.28 L545.79,243.40 L542.46,244.54 L539.16,245.69 L535.87,246.86 L532.61,248.04 L529.37,249.24 L526.15,250.45 L522.95,251.67 L519.78,252.91 L516.63,254.16 L513.50,255.43 L510.40,256.71 L507.32,258.01 L504.26,259.32 L501.23,260.64 L498.22,261.98 L495.23,263.34 L492.27,264.71 L489.34,266.09 L486.43,267.49 L483.54,268.90 L480.68,270.32 L477.84,271.76 L475.03,273.22 L472.25,274.69 L469.49,276.17 L466.75,277.67 L464.04,279.18 L461.36,280.71 L458.70,282.25 L456.07,283.80 L453.46,285.37 L450.88,286.95 L448.32,288.55 L445.79,290.16 L443.29,291.78 L440.81,293.42 L438.36,295.07 L435.93,296.73 L433.53,298.41 L431.15,300.10 L428.80,301.81 L426.48,303.52 L424.18,305.26 L421.90,307.00" stroke="#000000" stroke-width="3.31" stroke-dasharray="9.9300 16.5500" stroke-dashoffset="0.00"/>
<path d="M356.27,253.24 L353.39,255.81 L350.55,258.41 L347.77,261.05 L345.03,263.71 L342.35,266.40 L339.72,269.12 L337.13,271.88 L334.60,274.66 L332.11,277.47 L329.67,280.31 L327.27,283.18 L324.92,286.08 L322.61,289.01 L320.35,291.97 L318.14,294.95 L315.96,297.97 L313.83,301.01 L311.74,304.08 L309.69,307.18 L307.68,310.30 L305.71,313.45 L303.78,316.63 L301.89,319.83 L300.04,323.06 L298.22,326.31 L296.44,329.59 L294.69,332.90 L292.99,336.23 L291.31,339.58 L289.67,342.95 L288.06,346.35 L286.49,349.77 L284.95,353.21 L283.44,356.67 L281.96,360.15 L280.51,363.65 L279.10,367.17 L277.71,370.71 L276.35,374.27 L275.02,377.84 L273.72,381.43 L272.44,385.04 L271.19,388.66 L269.97,392.30 L268.78,395.95 L267.61,399.61 L266.46,403.28 L265.34,406.97 L264.25,410.67 L263.17,414.38 L262.13,418.09 L261.10,421.82 L260.10,425.55 L259.11,429.29 L258.15,433.04 L257.22,436.79 L256.30,440.55 L255.40,444.31 L254.52,448.07 L253.66,451.84 L252.83,455.60 L252.01,459.37 L251.20,463.14 L250.42,466.90 L249.66,470.67 L248.91,474.43 L248.18,478.19 L247.47,481.94 L246.77,485.69 L246.09,489.43 L245.43,493.16 L244.78,496.89 L244.14,500.61 L243.53,504.31 L242.92,508.01 L242.34,511.70 L241.76,515.38 L241.20,519.04 L240.66,522.70 L240.13,526.33 L239.61,529.96 L239.10,533.57 L238.61,537.16 L238.13,540.74 L237.67,544.29 L237.21,547.84 L236.77,551.36 L236.34,554.86 L235.93,558.35 L235.52,561.81 L235.12,565.26 L234.74,568.68 L234.37,572.08 L234.01,575.46 L233.66,578.81 L233.32,582.14 L232.99,585.45 L232.67,588.74 L232.36,591.99 L232.06,595.23 L231.77,598.44 L231.50,601.62 L231.23,604.78 L230.97,607.90 L230.72,611.01 L230.48,614.08 L230.25,617.13 L230.02,620.15 L229.81,623.14 L229.61,626.10 L229.41,629.04 L229.23,631.94 L229.05,634.82 L228.88,637.66 L228.72,640.48 L228.57,643.26 L228.43,646.02 L228.29,648.75 L228.16,651.44 L228.05,654.11 L227.94,656.75 L227.84,659.35 L227.74,661.93 L227.66,664.47 L227.58,666.99 L227.51,669.47 L227.45,671.92 L227.40,674.34 L227.35,676.73 L227.31,679.09 L227.28,681.42 L227.26,683.72 L227.25,685.99 L227.24,688.23 L227.24,690.43 L227.25,692.61 L227.27,694.76 L227.30,696.87 L227.33,698.96 L227.37,701.01 L227.42,703.04 L227.48,705.03 L227.55,707.00 L227.62,708.93 L227.70,710.84 L227.79,712.72 L227.89,714.56 L228.00,716.38 L228.11,718.17 L228.23,719.93 L228.36,721.66 L228.50,723.37 L228.65,725.04 L228.81,726.69 L228.97,728.30 L229.14,729.90 L229.33,731.46 L229.52,732.99 L229.72,734.50 L229.93,735.98 L230.14,737.43 L230.37,738.86 L230.61,740.26 L230.85,741.63 L231.11,742.98 L231.37,744.30 L231.65,745.59 L231.93,746.86 L232.22,748.10 L232.53,749.32 L232.84,750.51 L233.17,751.68 L233.50,752.82 L233.85,753.94 L234.20,755.03 L234.57,756.10 L234.95,757.14 L235.34,758.16 L235.74,759.16 L236.15,760.13 L236.57,761.08 L237.01,762.01 L237.46,762.91 L237.92,763.79 L238.39,764.64 L238.88,765.48 L239.38,766.29 L239.89,767.07 L240.41,767.84 L240.95,768.58 L241.51,769.30 L242.07,770.00 L242.65,770.68 L243.25,771.33 L243.86,771.97 L244.49,772.58 L245.13,773.17 L245.78,773.74 L246.46,774.29 L247.15,774.82 L247.85,775.32 L248.57,775.81 L249.31,776.27 L250.07,776.72 L250.84,777.14 L251.64,777.54 L252.45,777.93 L253.28,778.29 L254.13,778.63 L255.00,778.95 L255.88,779.26 L256.79,779.54 L257.72,779.80 L258.67,780.04 L259.64,780.26 L260.64,780.47 L261.65,780.65 L262.69,780.81 L263.75,780.95 L264.84,781.08 L265.95,781.18 L267.08,781.26 L268.24,781.33 L269.42,781.37 L270.63,781.40 L271.87,781.40 L273.13,781.39 L274.42,781.36 L275.74,781.30 L277.08,781.23 L278.46,781.14 L279.86,781.02 L281.30,780.89 L282.76,780.74 L284.26,780.57 L285.78,780.38 L287.34,780.16 L288.93,779.93 L290.56,779.68 L292.22,779.41 L293.91,779.12 L295.64,778.81 L297.40,778.48 L299.20,778.13 L301.04,777.76 L302.91,777.36 L304.83,776.95 L306.78,776.52 L308.77,776.06 L310.80,775.59 L312.87,775.09 L314.98,774.58 L317.14,774.04 L319.34,773.48 L321.58,772.90 L323.86,772.30 L326.19,771.68 L328.57,771.04 L330.99,770.37 L333.45,769.69 L335.97,768.98 L338.53,768.25 L341.14,767.49 L343.80,766.72 L346.51,765.92 L349.27,765.10 L352.09,764.25 L354.95,763.39 L357.87,762.50 L360.83,761.59 L363.86,760.65 L366.94,759.69 L370.07,758.71 L373.26,757.70 L376.50,756.67 L379.80,755.62 L383.16,754.54 L386.57,753.43 L390.05,752.30 L393.58,751.15 L397.17,749.97 L400.82,748.77 L404.53,747.54 L408.30,746.29 L412.14,745.00 L416.03,743.70 L419.98,742.37 L424.00,741.01 L428.08,739.62 L432.22,738.21 L436.43,736.77 L440.70,735.31 L445.03,733.81 L449.42,732.29 L453.88,730.75 L458.40,729.17 L462.98,727.57 L467.63,725.94 L472.34,724.28 L477.12,722.59 L481.96,720.88 L486.86,719.13 L491.82,717.36 L496.85,715.56 L501.94,713.72 L507.09,711.86 L512.30,709.97 L517.58,708.05 L522.91,706.10 L528.31,704.13 L533.76,702.12 L539.28,700.08 L544.85,698.01 L550.48,695.91 L556.17,693.78 L561.91,691.62 L567.71,689.43 L573.57,687.21 L579.47,684.96 L585.43,682.68 L591.45,680.36 L597.51,678.02 L603.62,675.65 L609.78,673.24 L615.98,670.80 L622.23,668.34 L628.53,665.84 L634.87,663.31 L641.25,660.76 L647.67,658.17 L654.13,655.55 L660.62,652.90 L667.15,650.22 L673.72,647.51 L680.31,644.77 L686.94,642.00 L693.60,639.20 L700.28,636.37 L706.99,633.51 L713.72,630.62 L720.48,627.70 L727.25,624.75 L734.04,621.78 L740.85,618.77 L747.68,615.74 L754.51,612.68 L761.36,609.59 L768.21,606.48 L775.07,603.34 L781.94,600.17 L788.81,596.97 L795.68,593.75 L802.55,590.51 L809.41,587.24 L816.27,583.94 L823.13,580.63 L829.97,577.28 L836.81,573.92 L843.63,570.53 L850.44,567.12 L857.23,563.69 L864.01,560.23 L870.76,556.76 L877.49,553.27 L884.20,549.75 L890.89,546.22 L897.55,542.67 L904.18,539.10 L910.78,535.52 L917.34,531.92 L923.88,528.30 L930.38,524.67 L936.84,521.03 L943.27,517.37 L949.66,513.70 L956.01,510.02 L962.31,506.33 L968.57,502.62 L974.79,498.91 L980.96,495.19 L987.09,491.46 L993.17,487.72 L999.20,483.97 L1005.17,480.22 L1011.10,476.47 L1016.98,472.71 L1022.80,468.95 L1028.57,465.18 L1034.28,461.42 L1039.94,457.65 L1045.55,453.88 L1051.09,450.12 L1056.58,446.35 L1062.01,442.59 L1067.38,438.83 L1072.70,435.08 L1077.95,431.33 L1083.14,427.58 L1088.27,423.85 L1093.35,420.12 L1098.35,416.40 L1103.30,412.68 L1108.19,408.98 L1113.01,405.29 L1117.77,401.60 L1122.47,397.93 L1127.11,394.28 L1131.68,390.63 L1136.19,387.00 L1140.64,383.39 L1145.02,379.79 L1149.34,376.21 L1153.60,372.64 L1157.79,369.09 L1161.92,365.56 L1165.99,362.05 L1170.00,358.56 L1173.94,355.08 L1177.82,351.63 L1181.64,348.20 L1185.39,344.79 L1189.08,341.41 L1192.72,338.04 L1196.29,334.70 L1199.80,331.39 L1203.24,328.09 L1206.63,324.83 L1209.96,321.58 L1213.22,318.36 L1216.43,315.17 L1219.58,312.01 L1222.67,308.87 L1225.69,305.76 L1228.66,302.67 L1231.58,299.62 L1234.43,296.59 L1237.23,293.59 L1239.97,290.61 L1242.65,287.67 L1245.28,284.75 L1247.85,281.87 L1250.36,279.01 L1252.82,276.18 L1255.23,273.38 L1257.58,270.62 L1259.87,267.88 L1262.11,265.17 L1264.30,262.49 L1266.44,259.84 L1268.52,257.22 L1270.55,254.63 L1272.53,252.08 L1274.45,249.55 L1276.33,247.05 L1278.15,244.58 L1279.93,242.15 L1281.65,239.74 L1283.32,237.36 L1284.95,235.02 L1286.52,232.70 L1288.05,230.41 L1289.52,228.15 L1290.95,225.93 L1292.33,223.73 L1293.67,221.56 L1294.95,219.42 L1296.19,217.31 L1297.38,215.23 L1298.52,213.18 L1299.62,211.16 L1300.67,209.17 L1301.68,207.20 L1302.63,205.27 L1303.55,203.36 L1304.42,201.48 L1305.24,199.62 L1306.02,197.80 L1306.75,196.00 L1307.44,194.23 L1308.08,192.49 L1308.68,190.77 L1309.24,189.08 L1309.75,187.41 L1310.22,185.78 L1310.64,184.16 L1311.02,182.58 L1311.36,181.02 L1311.65,179.48 L1311.90,177.97 L1312.10,176.48 L1312.26,175.02 L1312.38,173.58 L1312.46,172.17 L1312.49,170.78 L1312.48,169.41 L1312.42,168.07 L1312.32,166.75 L1312.18,165.45 L1312.00,164.17 L1311.77,162.92 L1311.49,161.69 L1311.18,160.48 L1310.82,159.29 L1310.42,158.12 L1309.97,156.98 L1309.48,155.85 L1308.94,154.75 L1308.36,153.66 L1307.74,152.60 L1307.07,151.55 L1306.36,150.53 L1305.60,149.52 L1304.80,148.54 L1303.95,147.57 L1303.06,146.62 L1302.12,145.69 L1301.14,144.78 L1300.11,143.89 L1299.03,143.01 L1297.91,142.15 L1296.74,141.31 L1295.52,140.49 L1294.26,139.68 L1292.95,138.89 L1291.59,138.12 L1290.18,137.36 L1288.73,136.62 L1287.22,135.90 L1285.67,135.19 L1284.07,134.50 L1282.42,133.82 L1280.72,133.16 L1278.97,132.51 L1277.17,131.88 L1275.32,131.27 L1273.41,130.66 L1271.46,130.08 L1269.45,129.50 L1267.39,128.95 L1265.28,128.40 L1263.12,127.87 L1260.90,127.35 L1258.63,126.85 L1256.31,126.36 L1253.93,125.88 L1251.49,125.42 L1249.00,124.97 L1246.46,124.53 L1243.86,124.11 L1241.20,123.70 L1238.49,123.30 L1235.72,122.91 L1232.89,122.54 L1230.00,122.18 L1227.06,121.83 L1224.06,121.49 L1220.99,121.17 L1217.87,120.85 L1214.70,120.55 L1211.46,120.26 L1208.16,119.99 L1204.80,119.72 L1201.38,119.47 L1197.90,119.22 L1194.35,118.99 L1190.75,118.77 L1187.09,118.56 L1183.36,118.36 L1179.57,118.18 L1175.72,118.00 L1171.80,117.84 L1167.83,117.68 L1163.79,117.54 L1159.69,117.41 L1155.52,117.29 L1151.29,117.18 L1147.00,117.08 L1142.65,116.99 L1138.23,116.91 L1133.75,116.84 L1129.20,116.79 L1124.60,116.74 L1119.93,116.71 L1115.19,116.68 L1110.40,116.67 L1105.54,116.67 L1100.62,116.68 L1095.64,116.69 L1090.60,116.72 L1085.49,116.76 L1080.33,116.81 L1075.10,116.87 L1069.82,116.95 L1064.47,117.03 L1059.07,117.12 L1053.61,117.23 L1048.09,117.34 L1042.51,117.47 L1036.88,117.60 L1031.19,117.75 L1025.44,117.91 L1019.64,118.08 L1013.79,118.26 L1007.89,118.45 L1001.93,118.66 L995.93,118.87 L989.87,119.10 L983.77,119.33 L977.62,119.58 L971.42,119.84 L965.18,120.11 L958.89,120.39 L952.56,120.69 L946.19,121.00 L939.78,121.31 L933.34,121.65 L926.85,121.99 L920.33,122.34 L913.78,122.71 L907.19,123.09 L900.58,123.48 L893.93,123.88 L887.26,124.30 L880.56,124.73 L873.84,125.17 L867.09,125.63 L860.33,126.10 L853.54,126.58 L846.74,127.08 L839.93,127.59 L833.10,128.11 L826.26,128.65 L819.40,129.20 L812.55,129.76 L805.68,130.34 L798.81,130.94 L791.94,131.55 L785.08,132.17 L778.21,132.81 L771.34,133.46 L764.49,134.13 L757.64,134.81 L750.80,135.51 L743.97,136.23 L737.15,136.96 L730.35,137.71 L723.57,138.47 L716.81,139.25 L710.06,140.05 L703.34,140.86 L696.65,141.69 L689.98,142.54 L683.34,143.41 L676.73,144.29 L670.15,145.19 L663.60,146.11 L657.09,147.05 L650.61,148.01 L644.18,148.99 L637.78,149.98 L631.42,150.99 L625.10,152.03 L618.83,153.08 L612.61,154.15 L606.42,155.25 L600.29,156.36 L594.21,157.50 L588.17,158.65 L582.19,159.83 L576.26,161.03 L570.38,162.25 L564.56,163.49 L558.79,164.75 L553.07,166.04 L547.42,167.35 L541.82,168.68 L536.28,170.03 L530.79,171.41 L525.37,172.81 L520.01,174.24 L514.71,175.68 L509.46,177.16 L504.28,178.66 L499.17,180.18 L494.11,181.73 L489.12,183.30 L484.19,184.90 L479.32,186.52 L474.52,188.17 L469.78,189.85 L465.10,191.55 L460.49,193.28 L455.94,195.03 L451.45,196.82 L447.03,198.63 L442.67,200.47 L438.37,202.33 L434.14,204.23 L429.97,206.15 L425.86,208.10 L421.81,210.07 L417.83,212.08 L413.91,214.12 L410.05,216.18 L406.25,218.27 L402.51,220.40 L398.83,222.55 L395.21,224.73 L391.65,226.94 L388.15,229.18 L384.71,231.45 L381.33,233.75 L378.00,236.08 L374.73,238.44 L371.52,240.83 L368.36,243.26 L365.26,245.71 L362.21,248.19 L359.21,250.70 L356.27,253.24" stroke="#000000" stroke-width="3.31" stroke-dasharray="0.01 13.2306" stroke-dashoffset="0.00"/>
<path d="M422.81,311.97 L420.60,313.64 L418.42,315.32 L416.26,317.01 L414.12,318.71 L412.01,320.43 L409.93,322.15 L407.87,323.89 L405.83,325.64 L403.82,327.40 L401.83,329.17 L399.86,330.95 L397.92,332.74 L396.00,334.55 L394.11,336.36 L392.24,338.18 L390.39,340.02 L388.57,341.86 L386.77,343.72 L384.99,345.58 L383.24,347.45 L381.50,349.34 L379.80,351.23 L378.11,353.13 L376.44,355.04 L374.80,356.96 L373.18,358.88 L371.58,360.82 L370.01,362.76 L368.45,364.71 L366.92,366.67 L365.40,368.64 L363.91,370.61 L362.44,372.60 L360.99,374.58 L359.56,376.58 L358.16,378.58 L356.77,380.59 L355.40,382.60 L354.05,384.62 L352.72,386.65 L351.42,388.68 L350.13,390.72 L348.86,392.76 L347.61,394.81 L346.38,396.86 L345.17,398.91 L343.97,400.97 L342.80,403.04 L341.64,405.10 L340.50,407.17 L339.39,409.25 L338.28,411.32 L337.20,413.40 L336.13,415.48 L335.09,417.57 L334.06,419.65 L333.04,421.74 L332.05,423.83 L331.07,425.92 L330.10,428.01 L329.16,430.10 L328.23,432.19 L327.32,434.28 L326.42,436.38 L325.54,438.47 L324.68,440.56 L323.83,442.65 L322.99,444.74 L322.18,446.82 L321.38,448.91 L320.59,450.99 L319.82,453.07 L319.06,455.15 L318.32,457.23 L317.60,459.30 L316.88,461.37 L316.19,463.44 L315.50,465.50 L314.84,467.56 L314.18,469.62 L313.54,471.67 L312.92,473.71 L312.31,475.76 L311.71,477.79 L311.13,479.82 L310.56,481.85 L310.00,483.87 L309.46,485.88 L308.93,487.88 L308.41,489.88 L307.91,491.88 L307.42,493.86 L306.94,495.84 L306.48,497.81 L306.02,499.78 L305.59,501.73 L305.16,503.68 L304.75,505.62 L304.35,507.55 L303.96,509.47 L303.58,511.38 L303.22,513.28 L302.87,515.18 L302.53,517.06 L302.20,518.94 L301.88,520.80 L301.58,522.66 L301.29,524.50 L301.01,526.33 L300.74,528.16 L300.49,529.97 L300.24,531.77 L300.01,533.56 L299.79,535.33 L299.58,537.10 L299.38,538.85 L299.20,540.60 L299.02,542.33 L298.86,544.05 L298.71,545.75 L298.57,547.44 L298.44,549.13 L298.32,550.79 L298.21,552.45 L298.12,554.09 L298.04,555.72 L297.96,557.33 L297.90,558.93 L297.85,560.52 L297.81,562.10 L297.79,563.66 L297.77,565.20 L297.77,566.74 L297.77,568.25 L297.79,569.76 L297.82,571.25 L297.86,572.72 L297.91,574.18 L297.97,575.63 L298.05,577.06 L298.13,578.48 L298.23,579.88 L298.33,581.26 L298.45,582.63 L298.58,583.99 L298.73,585.33 L298.88,586.66 L299.04,587.97 L299.22,589.26 L299.41,590.54 L299.61,591.80 L299.82,593.05 L300.04,594.28 L300.27,595.50 L300.52,596.70 L300.77,597.88 L301.04,599.05 L301.32,600.21 L301.62,601.34 L301.92,602.46 L302.24,603.57 L302.57,604.66 L302.91,605.73 L303.26,606.78 L303.63,607.82 L304.01,608.85 L304.40,609.86 L304.80,610.85 L305.21,611.82 L305.64,612.78 L306.08,613.72 L306.53,614.65 L307.00,615.55 L307.48,616.45 L307.97,617.32 L308.48,618.18 L308.99,619.03 L309.52,619.85 L310.07,620.66 L310.63,621.46 L311.20,622.23 L311.79,622.99 L312.38,623.74 L313.00,624.46 L313.62,625.17 L314.27,625.87 L314.92,626.54 L315.59,627.20 L316.27,627.85 L316.97,628.47 L317.69,629.08 L318.41,629.68 L319.16,630.25 L319.91,630.81 L320.69,631.36 L321.48,631.88 L322.28,632.39 L323.10,632.89 L323.93,633.37 L324.78,633.83 L325.65,634.27 L326.53,634.70 L327.43,635.11 L328.35,635.50 L329.28,635.88 L330.22,636.23 L331.19,636.58 L332.17,636.90 L333.17,637.21 L334.19,637.51 L335.22,637.78 L336.27,638.04 L337.34,638.29 L338.42,638.51 L339.53,638.72 L340.65,638.92 L341.79,639.09 L342.95,639.25 L344.12,639.39 L345.32,639.52 L346.53,639.63 L347.77,639.72 L349.02,639.80 L350.29,639.86 L351.58,639.90 L352.89,639.93 L354.22,639.94 L355.57,639.93 L356.94,639.91 L358.33,639.86 L359.74,639.81 L361.18,639.73 L362.63,639.64 L364.10,639.54 L365.59,639.41 L367.11,639.27 L368.65,639.11 L370.20,638.94 L371.78,638.75 L373.39,638.54 L375.01,638.32 L376.65,638.08 L378.32,637.82 L380.01,637.54 L381.72,637.25 L383.46,636.94 L385.22,636.62 L387.00,636.28 L388.80,635.92 L390.63,635.55 L392.48,635.16 L394.35,634.75 L396.25,634.32 L398.17,633.88 L400.11,633.42 L402.08,632.95 L404.07,632.46 L406.09,631.95 L408.13,631.43 L410.19,630.88 L412.28,630.33 L414.39,629.75 L416.53,629.16 L418.69,628.55 L420.88,627.93 L423.09,627.29 L425.33,626.63 L427.59,625.95 L429.88,625.26 L432.19,624.55 L434.52,623.83 L436.88,623.09 L439.27,622.33 L441.68,621.55 L444.12,620.76 L446.58,619.96 L449.07,619.13 L451.58,618.29 L454.12,617.43 L456.68,616.56 L459.27,615.67 L461.88,614.76 L464.52,613.84 L467.18,612.90 L469.87,611.94 L472.58,610.97 L475.32,609.98 L478.08,608.98 L480.86,607.95 L483.67,606.92 L486.51,605.86 L489.37,604.79 L492.25,603.71 L495.16,602.60 L498.09,601.48 L501.05,600.35 L504.02,599.20 L507.03,598.03 L510.05,596.85 L513.10,595.65 L516.17,594.44 L519.26,593.21 L522.38,591.96 L525.52,590.70 L528.68,589.42 L531.86,588.13 L535.06,586.82 L538.29,585.50 L541.53,584.16 L544.80,582.81 L548.09,581.44 L551.39,580.05 L554.72,578.65 L558.07,577.24 L561.43,575.81 L564.81,574.37 L568.21,572.91 L571.63,571.43 L575.07,569.95 L578.53,568.44 L582.00,566.93 L585.49,565.40 L588.99,563.85 L592.51,562.29 L596.04,560.72 L599.59,559.14 L603.16,557.54 L606.73,555.92 L610.32,554.30 L613.93,552.66 L617.54,551.00 L621.17,549.34 L624.81,547.66 L628.46,545.97 L632.13,544.26 L635.80,542.55 L639.48,540.82 L643.17,539.08 L646.87,537.32 L650.57,535.56 L654.28,533.78 L658.01,531.99 L661.73,530.20 L665.46,528.39 L669.20,526.56 L672.94,524.73 L676.69,522.89 L680.44,521.04 L684.19,519.17 L687.95,517.30 L691.70,515.42 L695.46,513.53 L699.22,511.62 L702.98,509.71 L706.73,507.79 L710.49,505.86 L714.24,503.92 L718.00,501.98 L721.75,500.02 L725.49,498.06 L729.23,496.09 L732.97,494.11 L736.70,492.13 L740.43,490.14 L744.15,488.14 L747.86,486.13 L751.56,484.12 L755.26,482.10 L758.94,480.08 L762.62,478.05 L766.29,476.01 L769.95,473.97 L773.59,471.93 L777.23,469.88 L780.85,467.82 L784.46,465.76 L788.06,463.70 L791.64,461.64 L795.21,459.57 L798.76,457.49 L802.30,455.42 L805.82,453.34 L809.32,451.26 L812.81,449.17 L816.28,447.09 L819.74,445.00 L823.17,442.91 L826.58,440.82 L829.98,438.73 L833.36,436.64 L836.71,434.55 L840.05,432.46 L843.36,430.37 L846.65,428.27 L849.92,426.18 L853.16,424.09 L856.39,422.00 L859.59,419.92 L862.76,417.83 L865.91,415.75 L869.04,413.67 L872.14,411.59 L875.22,409.51 L878.27,407.44 L881.29,405.36 L884.29,403.30 L887.26,401.23 L890.20,399.17 L893.12,397.12 L896.01,395.07 L898.87,393.02 L901.70,390.98 L904.50,388.94 L907.27,386.91 L910.01,384.88 L912.73,382.86 L915.41,380.84 L918.07,378.83 L920.69,376.83 L923.28,374.84 L925.84,372.85 L928.37,370.86 L930.87,368.89 L933.34,366.92 L935.77,364.96 L938.17,363.01 L940.54,361.06 L942.88,359.13 L945.19,357.20 L947.46,355.28 L949.70,353.37 L951.90,351.47 L954.07,349.57 L956.21,347.69 L958.32,345.82 L960.39,343.95 L962.43,342.10 L964.43,340.25 L966.40,338.42 L968.33,336.59 L970.23,334.78 L972.09,332.97 L973.92,331.18 L975.72,329.39 L977.48,327.62 L979.20,325.86 L980.89,324.11 L982.55,322.37 L984.17,320.64 L985.75,318.93 L987.30,317.22 L988.81,315.53 L990.29,313.85 L991.73,312.18 L993.13,310.52 L994.50,308.88 L995.83,307.25 L997.13,305.63 L998.39,304.02 L999.61,302.42 L1000.80,300.84 L1001.95,299.27 L1003.07,297.71 L1004.15,296.16 L1005.19,294.63 L1006.20,293.11 L1007.17,291.60 L1008.10,290.11 L1009.00,288.63 L1009.86,287.16 L1010.69,285.71 L1011.47,284.26 L1012.23,282.84 L1012.94,281.42 L1013.62,280.02 L1014.26,278.63 L1014.86,277.26 L1015.43,275.89 L1015.96,274.54 L1016.46,273.21 L1016.91,271.89 L1017.34,270.58 L1017.72,269.28 L1018.07,268.00 L1018.38,266.73 L1018.65,265.48 L1018.89,264.24 L1019.09,263.01 L1019.25,261.80 L1019.38,260.60 L1019.47,259.41 L1019.52,258.24 L1019.54,257.08 L1019.52,255.93 L1019.46,254.80 L1019.36,253.68 L1019.23,252.57 L1019.07,251.48 L1018.86,250.40 L1018.62,249.33 L1018.34,248.28 L1018.03,247.24 L1017.67,246.22 L1017.28,245.20 L1016.86,244.20 L1016.40,243.22 L1015.90,242.25 L1015.36,241.29 L1014.79,240.34 L1014.18,239.41 L1013.53,238.49 L1012.85,237.58 L1012.13,236.69 L1011.38,235.81 L1010.58,234.94 L1009.76,234.09 L1008.89,233.25 L1007.99,232.42 L1007.05,231.60 L1006.07,230.80 L1005.06,230.01 L1004.02,229.23 L1002.93,228.47 L1001.81,227.72 L1000.65,226.98 L999.46,226.26 L998.23,225.54 L996.97,224.84 L995.67,224.15 L994.33,223.48 L992.95,222.82 L991.55,222.17 L990.10,221.53 L988.62,220.90 L987.10,220.29 L985.55,219.69 L983.96,219.10 L982.34,218.53 L980.68,217.96 L978.99,217.41 L977.26,216.87 L975.49,216.34 L973.69,215.83 L971.86,215.33 L969.99,214.83 L968.09,214.36 L966.15,213.89 L964.18,213.43 L962.17,212.99 L960.13,212.56 L958.05,212.14 L955.94,211.73 L953.80,211.34 L951.62,210.95 L949.41,210.58 L947.17,210.22 L944.90,209.87 L942.59,209.53 L940.24,209.21 L937.87,208.89 L935.46,208.59 L933.03,208.30 L930.55,208.02 L928.05,207.75 L925.52,207.50 L922.95,207.25 L920.36,207.02 L917.73,206.80 L915.07,206.59 L912.39,206.39 L909.67,206.20 L906.92,206.03 L904.15,205.86 L901.34,205.71 L898.51,205.57 L895.64,205.43 L892.75,205.32 L889.83,205.21 L886.89,205.11 L883.91,205.03 L880.91,204.95 L877.88,204.89 L874.83,204.84 L871.75,204.80 L868.65,204.77 L865.52,204.75 L862.36,204.74 L859.18,204.75 L855.98,204.76 L852.75,204.79 L849.51,204.83 L846.23,204.88 L842.94,204.94 L839.62,205.02 L836.29,205.10 L832.93,205.19 L829.55,205.30 L826.15,205.42 L822.74,205.55 L819.30,205.69 L815.84,205.84 L812.37,206.00 L808.88,206.18 L805.37,206.36 L801.85,206.56 L798.31,206.77 L794.76,206.99 L791.19,207.22 L787.60,207.47 L784.00,207.72 L780.39,207.99 L776.77,208.26 L773.13,208.55 L769.49,208.85 L765.83,209.17 L762.16,209.49 L758.48,209.83 L754.79,210.17 L751.09,210.53 L747.39,210.90 L743.67,211.29 L739.95,211.68 L736.23,212.09 L732.50,212.51 L728.76,212.93 L725.02,213.38 L721.27,213.83 L717.52,214.30 L713.77,214.77 L710.01,215.26 L706.26,215.76 L702.50,216.28 L698.74,216.80 L694.98,217.34 L691.23,217.89 L687.47,218.45 L683.72,219.03 L679.96,219.61 L676.21,220.21 L672.47,220.83 L668.73,221.45 L664.99,222.09 L661.26,222.73 L657.53,223.40 L653.81,224.07 L650.10,224.75 L646.40,225.45 L642.70,226.17 L639.01,226.89 L635.33,227.63 L631.66,228.38 L628.00,229.14 L624.35,229.91 L620.71,230.70 L617.09,231.50 L613.47,232.31 L609.87,233.14 L606.28,233.98 L602.70,234.83 L599.14,235.70 L595.59,236.58 L592.06,237.47 L588.54,238.37 L585.04,239.29 L581.56,240.22 L578.09,241.17 L574.64,242.12 L571.20,243.09 L567.78,244.08 L564.38,245.08 L561.00,246.09 L557.64,247.11 L554.30,248.15 L550.97,249.20 L547.67,250.26 L544.39,251.34 L541.12,252.43 L537.88,253.54 L534.66,254.65 L531.46,255.79 L528.28,256.93 L525.12,258.09 L521.98,259.26 L518.87,260.45 L515.78,261.64 L512.71,262.86 L509.67,264.08 L506.64,265.32 L503.65,266.57 L500.67,267.84 L497.72,269.12 L494.79,270.41 L491.89,271.72 L489.00,273.04 L486.15,274.37 L483.32,275.72 L480.51,277.08 L477.73,278.46 L474.97,279.84 L472.23,281.24 L469.53,282.66 L466.84,284.08 L464.18,285.52 L461.55,286.98 L458.94,288.44 L456.35,289.92 L453.80,291.41 L451.26,292.92 L448.75,294.44 L446.27,295.97 L443.81,297.51 L441.38,299.07 L438.97,300.64 L436.58,302.22 L434.23,303.81 L431.89,305.42 L429.59,307.04 L427.30,308.67 L425.04,310.32 L422.81,311.97" stroke="#0000FF" stroke-width="3.31" stroke-dasharray="9.9300 16.5500" stroke-dashoffset="0.00"/>
<path d="M356.77,258.99 L353.93,261.45 L351.15,263.94 L348.41,266.46 L345.73,269.01 L343.09,271.58 L340.50,274.19 L337.96,276.82 L335.47,279.47 L333.02,282.15 L330.62,284.86 L328.26,287.60 L325.94,290.36 L323.68,293.15 L321.45,295.97 L319.27,298.81 L317.12,301.68 L315.02,304.57 L312.96,307.48 L310.94,310.43 L308.96,313.39 L307.02,316.38 L305.11,319.40 L303.25,322.44 L301.42,325.50 L299.62,328.58 L297.86,331.69 L296.14,334.82 L294.45,337.97 L292.80,341.14 L291.18,344.34 L289.59,347.55 L288.03,350.79 L286.51,354.04 L285.01,357.31 L283.55,360.60 L282.12,363.91 L280.72,367.24 L279.34,370.58 L278.00,373.94 L276.68,377.32 L275.39,380.71 L274.12,384.11 L272.89,387.53 L271.68,390.97 L270.49,394.41 L269.33,397.87 L268.20,401.34 L267.08,404.82 L266.00,408.31 L264.93,411.81 L263.89,415.32 L262.87,418.84 L261.88,422.36 L260.90,425.89 L259.95,429.43 L259.01,432.97 L258.10,436.52 L257.21,440.07 L256.34,443.63 L255.48,447.18 L254.65,450.74 L253.84,454.30 L253.04,457.86 L252.26,461.42 L251.50,464.98 L250.76,468.54 L250.03,472.10 L249.32,475.65 L248.63,479.20 L247.95,482.74 L247.29,486.28 L246.65,489.81 L246.02,493.33 L245.40,496.85 L244.80,500.36 L244.22,503.86 L243.65,507.35 L243.09,510.83 L242.55,514.30 L242.02,517.76 L241.51,521.21 L241.00,524.64 L240.51,528.06 L240.04,531.47 L239.57,534.86 L239.12,538.24 L238.68,541.60 L238.26,544.94 L237.84,548.27 L237.44,551.58 L237.05,554.87 L236.67,558.14 L236.30,561.40 L235.94,564.63 L235.59,567.85 L235.26,571.04 L234.93,574.22 L234.61,577.37 L234.31,580.50 L234.01,583.61 L233.73,586.69 L233.45,589.76 L233.19,592.79 L232.93,595.81 L232.69,598.80 L232.45,601.77 L232.23,604.71 L232.01,607.63 L231.80,610.52 L231.60,613.39 L231.41,616.23 L231.23,619.04 L231.06,621.83 L230.89,624.60 L230.74,627.33 L230.59,630.04 L230.46,632.72 L230.33,635.37 L230.21,638.00 L230.09,640.60 L229.99,643.17 L229.90,645.72 L229.81,648.23 L229.73,650.72 L229.66,653.18 L229.60,655.61 L229.54,658.01 L229.50,660.39 L229.46,662.73 L229.43,665.05 L229.41,667.34 L229.40,669.60 L229.39,671.83 L229.40,674.04 L229.41,676.21 L229.43,678.36 L229.46,680.48 L229.49,682.57 L229.54,684.63 L229.59,686.67 L229.65,688.67 L229.72,690.65 L229.79,692.60 L229.88,694.52 L229.97,696.42 L230.07,698.28 L230.18,700.12 L230.30,701.93 L230.43,703.72 L230.56,705.47 L230.71,707.20 L230.86,708.90 L231.02,710.57 L231.19,712.22 L231.37,713.84 L231.56,715.43 L231.76,717.00 L231.97,718.54 L232.18,720.05 L232.41,721.54 L232.64,723.00 L232.88,724.44 L233.14,725.85 L233.40,727.23 L233.67,728.59 L233.96,729.92 L234.25,731.23 L234.55,732.52 L234.87,733.77 L235.19,735.01 L235.52,736.21 L235.87,737.40 L236.23,738.56 L236.59,739.69 L236.97,740.80 L237.36,741.89 L237.76,742.95 L238.17,743.99 L238.60,745.01 L239.03,746.00 L239.48,746.97 L239.94,747.92 L240.42,748.84 L240.90,749.74 L241.40,750.62 L241.92,751.48 L242.44,752.31 L242.98,753.12 L243.53,753.91 L244.10,754.67 L244.68,755.42 L245.28,756.14 L245.89,756.84 L246.52,757.52 L247.16,758.18 L247.82,758.81 L248.49,759.43 L249.18,760.02 L249.89,760.59 L250.61,761.15 L251.35,761.68 L252.11,762.19 L252.88,762.67 L253.67,763.14 L254.49,763.59 L255.32,764.02 L256.16,764.42 L257.03,764.81 L257.92,765.18 L258.83,765.52 L259.76,765.85 L260.71,766.15 L261.68,766.44 L262.67,766.70 L263.68,766.95 L264.72,767.17 L265.78,767.38 L266.86,767.56 L267.97,767.73 L269.10,767.88 L270.26,768.00 L271.44,768.11 L272.64,768.19 L273.87,768.26 L275.13,768.31 L276.42,768.34 L277.73,768.34 L279.07,768.33 L280.44,768.30 L281.83,768.25 L283.26,768.18 L284.72,768.09 L286.21,767.98 L287.72,767.85 L289.27,767.70 L290.86,767.53 L292.47,767.34 L294.12,767.13 L295.80,766.90 L297.52,766.65 L299.27,766.38 L301.05,766.09 L302.88,765.78 L304.74,765.45 L306.63,765.10 L308.57,764.73 L310.54,764.34 L312.55,763.93 L314.60,763.50 L316.70,763.05 L318.83,762.58 L321.01,762.08 L323.22,761.57 L325.49,761.04 L327.79,760.48 L330.14,759.90 L332.53,759.31 L334.97,758.69 L337.46,758.05 L339.99,757.39 L342.57,756.70 L345.19,756.00 L347.87,755.27 L350.59,754.52 L353.37,753.75 L356.19,752.96 L359.07,752.14 L362.00,751.31 L364.98,750.45 L368.01,749.56 L371.10,748.66 L374.24,747.73 L377.43,746.78 L380.68,745.81 L383.99,744.81 L387.35,743.79 L390.77,742.74 L394.25,741.67 L397.78,740.58 L401.37,739.47 L405.02,738.33 L408.73,737.16 L412.49,735.97 L416.32,734.76 L420.21,733.52 L424.15,732.26 L428.16,730.97 L432.23,729.66 L436.36,728.32 L440.55,726.96 L444.80,725.57 L449.11,724.15 L453.48,722.71 L457.92,721.25 L462.42,719.75 L466.98,718.23 L471.60,716.69 L476.28,715.12 L481.02,713.52 L485.83,711.89 L490.69,710.24 L495.62,708.56 L500.61,706.85 L505.66,705.12 L510.76,703.36 L515.93,701.57 L521.16,699.75 L526.45,697.91 L531.79,696.04 L537.19,694.14 L542.65,692.21 L548.17,690.26 L553.74,688.27 L559.36,686.26 L565.04,684.22 L570.77,682.15 L576.56,680.06 L582.40,677.93 L588.28,675.78 L594.22,673.60 L600.21,671.39 L606.24,669.15 L612.32,666.88 L618.44,664.59 L624.61,662.26 L630.82,659.91 L637.07,657.53 L643.36,655.12 L649.69,652.69 L656.05,650.22 L662.45,647.73 L668.89,645.21 L675.35,642.66 L681.85,640.08 L688.38,637.48 L694.93,634.84 L701.51,632.18 L708.11,629.50 L714.74,626.78 L721.38,624.04 L728.05,621.27 L734.73,618.48 L741.43,615.66 L748.14,612.81 L754.86,609.94 L761.59,607.05 L768.34,604.12 L775.08,601.18 L781.83,598.20 L788.59,595.21 L795.34,592.19 L802.09,589.14 L808.84,586.07 L815.58,582.98 L822.32,579.87 L829.05,576.74 L835.77,573.58 L842.47,570.40 L849.17,567.20 L855.84,563.98 L862.50,560.75 L869.14,557.49 L875.76,554.21 L882.35,550.91 L888.92,547.60 L895.47,544.27 L901.99,540.92 L908.47,537.56 L914.93,534.18 L921.36,530.78 L927.75,527.38 L934.10,523.95 L940.42,520.52 L946.70,517.07 L952.95,513.61 L959.15,510.13 L965.31,506.65 L971.43,503.16 L977.50,499.66 L983.53,496.14 L989.51,492.63 L995.44,489.10 L1001.33,485.57 L1007.16,482.03 L1012.95,478.48 L1018.68,474.93 L1024.36,471.38 L1029.99,467.83 L1035.56,464.27 L1041.08,460.71 L1046.55,457.15 L1051.96,453.59 L1057.31,450.03 L1062.61,446.47 L1067.84,442.91 L1073.02,439.36 L1078.14,435.81 L1083.21,432.26 L1088.21,428.72 L1093.15,425.18 L1098.03,421.65 L1102.86,418.13 L1107.62,414.61 L1112.32,411.11 L1116.96,407.61 L1121.54,404.12 L1126.05,400.64 L1130.51,397.17 L1134.90,393.72 L1139.23,390.27 L1143.50,386.84 L1147.71,383.43 L1151.86,380.03 L1155.95,376.64 L1159.97,373.26 L1163.93,369.91 L1167.83,366.57 L1171.67,363.25 L1175.45,359.94 L1179.17,356.65 L1182.83,353.38 L1186.42,350.13 L1189.96,346.90 L1193.43,343.69 L1196.85,340.51 L1200.21,337.34 L1203.50,334.19 L1206.74,331.07 L1209.92,327.96 L1213.04,324.88 L1216.10,321.83 L1219.11,318.79 L1222.05,315.78 L1224.94,312.80 L1227.78,309.83 L1230.55,306.90 L1233.27,303.98 L1235.93,301.10 L1238.54,298.24 L1241.09,295.40 L1243.59,292.59 L1246.03,289.81 L1248.42,287.05 L1250.76,284.32 L1253.04,281.61 L1255.26,278.94 L1257.44,276.29 L1259.56,273.66 L1261.63,271.07 L1263.65,268.50 L1265.61,265.95 L1267.53,263.44 L1269.39,260.95 L1271.21,258.49 L1272.97,256.06 L1274.68,253.66 L1276.35,251.28 L1277.96,248.93 L1279.53,246.61 L1281.04,244.32 L1282.51,242.05 L1283.93,239.82 L1285.30,237.61 L1286.63,235.42 L1287.91,233.27 L1289.14,231.14 L1290.32,229.04 L1291.46,226.96 L1292.55,224.92 L1293.59,222.90 L1294.59,220.90 L1295.55,218.94 L1296.45,217.00 L1297.31,215.08 L1298.13,213.20 L1298.90,211.34 L1299.63,209.50 L1300.31,207.69 L1300.95,205.91 L1301.55,204.15 L1302.10,202.42 L1302.60,200.72 L1303.06,199.03 L1303.48,197.38 L1303.86,195.74 L1304.19,194.14 L1304.47,192.55 L1304.72,191.00 L1304.92,189.46 L1305.07,187.95 L1305.18,186.46 L1305.25,185.00 L1305.28,183.56 L1305.26,182.14 L1305.20,180.74 L1305.10,179.37 L1304.95,178.02 L1304.76,176.69 L1304.52,175.38 L1304.25,174.10 L1303.93,172.83 L1303.56,171.59 L1303.15,170.37 L1302.70,169.17 L1302.20,167.99 L1301.66,166.83 L1301.08,165.69 L1300.45,164.57 L1299.77,163.47 L1299.05,162.40 L1298.29,161.34 L1297.48,160.29 L1296.63,159.27 L1295.73,158.27 L1294.79,157.29 L1293.80,156.32 L1292.76,155.37 L1291.68,154.44 L1290.55,153.53 L1289.38,152.64 L1288.16,151.76 L1286.89,150.90 L1285.58,150.06 L1284.21,149.24 L1282.80,148.43 L1281.34,147.64 L1279.84,146.86 L1278.28,146.10 L1276.68,145.36 L1275.02,144.63 L1273.32,143.92 L1271.56,143.23 L1269.76,142.55 L1267.91,141.88 L1266.00,141.23 L1264.05,140.60 L1262.04,139.98 L1259.98,139.37 L1257.87,138.78 L1255.70,138.20 L1253.49,137.64 L1251.22,137.09 L1248.89,136.56 L1246.52,136.04 L1244.09,135.53 L1241.60,135.04 L1239.06,134.56 L1236.46,134.10 L1233.81,133.64 L1231.10,133.20 L1228.34,132.78 L1225.52,132.36 L1222.64,131.96 L1219.70,131.57 L1216.71,131.20 L1213.66,130.84 L1210.55,130.49 L1207.39,130.15 L1204.16,129.82 L1200.87,129.51 L1197.53,129.21 L1194.13,128.92 L1190.66,128.64 L1187.14,128.38 L1183.55,128.12 L1179.91,127.88 L1176.20,127.65 L1172.44,127.43 L1168.61,127.23 L1164.72,127.03 L1160.77,126.85 L1156.76,126.68 L1152.69,126.51 L1148.55,126.36 L1144.35,126.23 L1140.10,126.10 L1135.78,125.98 L1131.40,125.88 L1126.95,125.79 L1122.45,125.70 L1117.88,125.63 L1113.25,125.57 L1108.57,125.52 L1103.82,125.49 L1099.01,125.46 L1094.14,125.44 L1089.21,125.44 L1084.22,125.45 L1079.17,125.46 L1074.06,125.49 L1068.89,125.53 L1063.66,125.58 L1058.38,125.65 L1053.04,125.72 L1047.64,125.80 L1042.19,125.90 L1036.68,126.01 L1031.11,126.12 L1025.50,126.25 L1019.83,126.39 L1014.10,126.55 L1008.33,126.71 L1002.50,126.88 L996.63,127.07 L990.70,127.27 L984.73,127.48 L978.71,127.70 L972.65,127.93 L966.54,128.17 L960.39,128.43 L954.20,128.70 L947.96,128.98 L941.69,129.27 L935.38,129.57 L929.03,129.89 L922.64,130.22 L916.22,130.56 L909.77,130.91 L903.29,131.27 L896.78,131.65 L890.24,132.04 L883.67,132.45 L877.08,132.86 L870.47,133.29 L863.84,133.73 L857.18,134.19 L850.51,134.66 L843.82,135.14 L837.12,135.63 L830.40,136.14 L823.67,136.67 L816.94,137.20 L810.20,137.75 L803.45,138.32 L796.70,138.90 L789.94,139.49 L783.19,140.10 L776.44,140.72 L769.69,141.36 L762.95,142.01 L756.21,142.68 L749.49,143.36 L742.78,144.06 L736.08,144.78 L729.39,145.51 L722.72,146.25 L716.07,147.02 L709.44,147.79 L702.83,148.59 L696.25,149.40 L689.69,150.23 L683.16,151.07 L676.66,151.94 L670.18,152.82 L663.74,153.71 L657.33,154.63 L650.96,155.56 L644.63,156.51 L638.33,157.48 L632.07,158.47 L625.85,159.48 L619.68,160.50 L613.54,161.55 L607.46,162.61 L601.42,163.69 L595.42,164.80 L589.47,165.92 L583.58,167.06 L577.73,168.23 L571.93,169.41 L566.19,170.61 L560.50,171.84 L554.86,173.09 L549.28,174.35 L543.75,175.64 L538.28,176.95 L532.87,178.29 L527.52,179.64 L522.22,181.02 L516.98,182.42 L511.80,183.84 L506.68,185.29 L501.62,186.76 L496.62,188.25 L491.68,189.77 L486.80,191.31 L481.98,192.87 L477.23,194.46 L472.53,196.07 L467.90,197.71 L463.33,199.37 L458.82,201.06 L454.37,202.77 L449.98,204.50 L445.66,206.27 L441.40,208.06 L437.19,209.87 L433.05,211.71 L428.97,213.58 L424.95,215.47 L420.99,217.39 L417.10,219.33 L413.26,221.30 L409.48,223.30 L405.76,225.33 L402.10,227.38 L398.50,229.46 L394.95,231.56 L391.46,233.70 L388.03,235.86 L384.66,238.05 L381.34,240.26 L378.08,242.51 L374.88,244.78 L371.73,247.08 L368.63,249.40 L365.58,251.76 L362.59,254.14 L359.66,256.55 L356.77,258.99" stroke="#0000FF" stroke-width="3.31" stroke-dasharray="0.01 13.2324" stroke-dashoffset="0.00"/>
<path d="M426.68,313.92 L424.02,315.65 L421.40,317.40 L418.79,319.15 L416.20,320.92 L413.64,322.69 L411.10,324.47 L408.58,326.27 L406.08,328.07 L403.61,329.87 L401.16,331.69 L398.73,333.52 L396.32,335.35 L393.94,337.19 L391.58,339.04 L389.24,340.90 L386.93,342.76 L384.64,344.63 L382.37,346.51 L380.13,348.39 L377.90,350.29 L375.71,352.19 L373.53,354.09 L371.38,356.00 L369.25,357.92 L367.15,359.85 L365.07,361.78 L363.01,363.71 L360.97,365.65 L358.96,367.60 L356.97,369.55 L355.01,371.51 L353.07,373.47 L351.15,375.43 L349.25,377.41 L347.38,379.38 L345.53,381.36 L343.71,383.34 L341.91,385.33 L340.13,387.32 L338.37,389.31 L336.64,391.31 L334.93,393.31 L333.24,395.31 L331.58,397.31 L329.93,399.32 L328.32,401.33 L326.72,403.34 L325.15,405.35 L323.59,407.37 L322.07,409.38 L320.56,411.40 L319.07,413.42 L317.61,415.43 L316.17,417.45 L314.75,419.47 L313.36,421.49 L311.98,423.51 L310.63,425.53 L309.30,427.55 L307.99,429.57 L306.70,431.59 L305.43,433.61 L304.19,435.62 L302.96,437.64 L301.76,439.65 L300.57,441.66 L299.41,443.67 L298.27,445.68 L297.15,447.68 L296.05,449.68 L294.97,451.68 L293.91,453.68 L292.87,455.67 L291.85,457.66 L290.85,459.65 L289.86,461.63 L288.90,463.61 L287.96,465.59 L287.04,467.56 L286.14,469.52 L285.25,471.48 L284.39,473.44 L283.54,475.39 L282.71,477.34 L281.91,479.28 L281.12,481.21 L280.35,483.14 L279.59,485.06 L278.86,486.98 L278.14,488.89 L277.44,490.80 L276.76,492.69 L276.10,494.58 L275.46,496.47 L274.83,498.34 L274.22,500.21 L273.63,502.07 L273.05,503.93 L272.50,505.77 L271.96,507.61 L271.43,509.44 L270.93,511.26 L270.44,513.07 L269.97,514.87 L269.51,516.67 L269.07,518.45 L268.65,520.23 L268.25,522.00 L267.86,523.75 L267.48,525.50 L267.13,527.24 L266.79,528.97 L266.46,530.69 L266.16,532.39 L265.87,534.09 L265.59,535.78 L265.33,537.45 L265.09,539.12 L264.86,540.77 L264.65,542.41 L264.45,544.04 L264.27,545.66 L264.11,547.27 L263.96,548.87 L263.83,550.45 L263.71,552.03 L263.61,553.59 L263.52,555.14 L263.45,556.67 L263.40,558.20 L263.36,559.71 L263.33,561.21 L263.33,562.70 L263.33,564.17 L263.36,565.63 L263.40,567.08 L263.45,568.51 L263.52,569.93 L263.61,571.34 L263.71,572.74 L263.82,574.12 L263.96,575.48 L264.10,576.84 L264.27,578.18 L264.45,579.50 L264.64,580.81 L264.85,582.11 L265.08,583.39 L265.32,584.66 L265.58,585.92 L265.86,587.16 L266.15,588.38 L266.46,589.59 L266.78,590.79 L267.12,591.97 L267.47,593.14 L267.85,594.29 L268.24,595.43 L268.64,596.55 L269.06,597.66 L269.50,598.75 L269.95,599.83 L270.43,600.89 L270.91,601.93 L271.42,602.96 L271.94,603.98 L272.48,604.98 L273.04,605.96 L273.61,606.93 L274.20,607.88 L274.81,608.82 L275.44,609.74 L276.08,610.64 L276.75,611.53 L277.43,612.41 L278.12,613.26 L278.84,614.11 L279.57,614.93 L280.32,615.74 L281.10,616.53 L281.88,617.31 L282.69,618.07 L283.52,618.82 L284.36,619.54 L285.23,620.26 L286.11,620.95 L287.01,621.63 L287.94,622.29 L288.88,622.94 L289.84,623.57 L290.82,624.18 L291.82,624.78 L292.84,625.36 L293.88,625.92 L294.94,626.47 L296.02,627.00 L297.12,627.51 L298.24,628.01 L299.38,628.49 L300.54,628.96 L301.73,629.40 L302.93,629.83 L304.15,630.25 L305.40,630.64 L306.67,631.02 L307.95,631.39 L309.26,631.73 L310.59,632.06 L311.95,632.38 L313.32,632.67 L314.72,632.95 L316.13,633.21 L317.57,633.46 L319.03,633.69 L320.52,633.90 L322.02,634.09 L323.55,634.27 L325.10,634.43 L326.68,634.58 L328.27,634.70 L329.89,634.81 L331.53,634.91 L333.20,634.98 L334.88,635.04 L336.59,635.08 L338.32,635.11 L340.08,635.12 L341.86,635.11 L343.66,635.08 L345.48,635.04 L347.33,634.98 L349.20,634.90 L351.10,634.81 L353.01,634.70 L354.96,634.57 L356.92,634.43 L358.91,634.27 L360.92,634.09 L362.95,633.89 L365.01,633.68 L367.09,633.45 L369.19,633.21 L371.32,632.94 L373.47,632.66 L375.65,632.37 L377.84,632.05 L380.07,631.72 L382.31,631.38 L384.58,631.01 L386.87,630.63 L389.18,630.24 L391.52,629.82 L393.88,629.39 L396.26,628.94 L398.66,628.48 L401.09,628.00 L403.54,627.50 L406.02,626.99 L408.51,626.46 L411.03,625.91 L413.57,625.34 L416.13,624.76 L418.72,624.17 L421.32,623.55 L423.95,622.92 L426.60,622.28 L429.28,621.61 L431.97,620.93 L434.68,620.24 L437.42,619.52 L440.18,618.80 L442.96,618.05 L445.75,617.29 L448.57,616.51 L451.41,615.72 L454.27,614.91 L457.15,614.08 L460.05,613.24 L462.97,612.38 L465.91,611.51 L468.87,610.62 L471.84,609.71 L474.84,608.79 L477.85,607.86 L480.88,606.90 L483.93,605.93 L487.00,604.95 L490.09,603.95 L493.19,602.93 L496.31,601.90 L499.45,600.86 L502.60,599.80 L505.77,598.72 L508.95,597.63 L512.15,596.52 L515.37,595.40 L518.60,594.26 L521.85,593.11 L525.11,591.94 L528.38,590.76 L531.67,589.56 L534.97,588.35 L538.29,587.12 L541.62,585.88 L544.96,584.63 L548.31,583.36 L551.68,582.08 L555.05,580.78 L558.44,579.47 L561.84,578.14 L565.25,576.80 L568.67,575.45 L572.10,574.08 L575.54,572.70 L578.98,571.30 L582.44,569.90 L585.90,568.47 L589.38,567.04 L592.86,565.59 L596.35,564.13 L599.84,562.66 L603.34,561.17 L606.85,559.67 L610.36,558.16 L613.88,556.63 L617.41,555.10 L620.93,553.55 L624.47,551.99 L628.00,550.41 L631.54,548.83 L635.08,547.23 L638.63,545.62 L642.18,544.00 L645.72,542.37 L649.28,540.73 L652.83,539.07 L656.38,537.41 L659.93,535.73 L663.48,534.04 L667.03,532.35 L670.58,530.64 L674.13,528.92 L677.68,527.19 L681.22,525.46 L684.76,523.71 L688.30,521.95 L691.84,520.18 L695.37,518.41 L698.90,516.62 L702.42,514.83 L705.93,513.02 L709.45,511.21 L712.95,509.39 L716.45,507.56 L719.94,505.72 L723.43,503.88 L726.91,502.02 L730.37,500.16 L733.84,498.29 L737.29,496.42 L740.73,494.53 L744.17,492.64 L747.59,490.74 L751.00,488.84 L754.41,486.93 L757.80,485.01 L761.18,483.09 L764.55,481.16 L767.91,479.22 L771.25,477.28 L774.58,475.34 L777.90,473.39 L781.20,471.43 L784.49,469.47 L787.77,467.50 L791.03,465.53 L794.28,463.56 L797.51,461.58 L800.72,459.60 L803.92,457.61 L807.10,455.62 L810.27,453.63 L813.41,451.63 L816.54,449.63 L819.66,447.63 L822.75,445.62 L825.83,443.62 L828.88,441.61 L831.92,439.60 L834.94,437.58 L837.94,435.57 L840.92,433.55 L843.88,431.54 L846.82,429.52 L849.73,427.50 L852.63,425.48 L855.50,423.46 L858.36,421.44 L861.19,419.42 L863.99,417.40 L866.78,415.38 L869.54,413.36 L872.28,411.34 L875.00,409.33 L877.69,407.31 L880.36,405.30 L883.00,403.28 L885.62,401.27 L888.22,399.26 L890.79,397.26 L893.34,395.25 L895.86,393.25 L898.35,391.25 L900.82,389.26 L903.26,387.26 L905.68,385.27 L908.07,383.29 L910.43,381.31 L912.77,379.33 L915.08,377.35 L917.36,375.38 L919.61,373.42 L921.84,371.45 L924.04,369.50 L926.21,367.55 L928.36,365.60 L930.47,363.66 L932.56,361.72 L934.62,359.79 L936.65,357.87 L938.65,355.95 L940.62,354.04 L942.56,352.14 L944.47,350.24 L946.35,348.34 L948.21,346.46 L950.03,344.58 L951.82,342.71 L953.59,340.85 L955.32,338.99 L957.02,337.14 L958.69,335.30 L960.33,333.47 L961.95,331.64 L963.53,329.83 L965.07,328.02 L966.59,326.22 L968.08,324.43 L969.53,322.64 L970.96,320.87 L972.35,319.11 L973.71,317.35 L975.04,315.61 L976.34,313.87 L977.60,312.14 L978.84,310.43 L980.04,308.72 L981.21,307.02 L982.35,305.34 L983.45,303.66 L984.53,301.99 L985.57,300.34 L986.58,298.69 L987.55,297.06 L988.49,295.43 L989.41,293.82 L990.28,292.22 L991.13,290.63 L991.94,289.05 L992.72,287.48 L993.47,285.92 L994.18,284.38 L994.86,282.84 L995.51,281.32 L996.13,279.81 L996.71,278.31 L997.26,276.82 L997.78,275.35 L998.26,273.89 L998.71,272.44 L999.13,271.00 L999.51,269.57 L999.86,268.16 L1000.18,266.76 L1000.46,265.37 L1000.71,263.99 L1000.93,262.63 L1001.11,261.28 L1001.26,259.94 L1001.38,258.61 L1001.46,257.30 L1001.51,256.00 L1001.53,254.71 L1001.51,253.44 L1001.47,252.18 L1001.38,250.93 L1001.27,249.70 L1001.12,248.48 L1000.93,247.27 L1000.72,246.07 L1000.47,244.89 L1000.18,243.72 L999.87,242.57 L999.52,241.43 L999.14,240.30 L998.72,239.18 L998.27,238.08 L997.79,236.99 L997.27,235.92 L996.73,234.86 L996.14,233.81 L995.53,232.78 L994.88,231.76 L994.20,230.75 L993.49,229.76 L992.74,228.78 L991.96,227.82 L991.15,226.87 L990.31,225.93 L989.43,225.01 L988.52,224.10 L987.58,223.20 L986.60,222.32 L985.59,221.45 L984.55,220.59 L983.48,219.75 L982.38,218.93 L981.24,218.11 L980.07,217.31 L978.87,216.53 L977.64,215.75 L976.37,215.00 L975.08,214.25 L973.75,213.52 L972.39,212.80 L971.00,212.10 L969.57,211.41 L968.12,210.74 L966.63,210.07 L965.12,209.43 L963.57,208.79 L961.99,208.17 L960.38,207.56 L958.74,206.97 L957.07,206.39 L955.37,205.83 L953.63,205.28 L951.87,204.74 L950.08,204.21 L948.26,203.70 L946.40,203.21 L944.52,202.72 L942.61,202.25 L940.67,201.80 L938.70,201.36 L936.70,200.93 L934.67,200.51 L932.61,200.11 L930.53,199.73 L928.41,199.35 L926.27,198.99 L924.10,198.65 L921.90,198.31 L919.67,198.00 L917.42,197.69 L915.14,197.40 L912.83,197.12 L910.49,196.86 L908.13,196.61 L905.74,196.37 L903.33,196.15 L900.88,195.94 L898.42,195.74 L895.92,195.56 L893.40,195.39 L890.86,195.23 L888.29,195.09 L885.69,194.96 L883.07,194.85 L880.43,194.74 L877.76,194.66 L875.07,194.58 L872.36,194.52 L869.62,194.47 L866.85,194.44 L864.07,194.42 L861.26,194.41 L858.43,194.42 L855.58,194.44 L852.71,194.48 L849.81,194.52 L846.89,194.58 L843.96,194.66 L841.00,194.75 L838.02,194.85 L835.02,194.96 L832.00,195.09 L828.97,195.24 L825.91,195.39 L822.83,195.56 L819.74,195.74 L816.63,195.94 L813.50,196.15 L810.35,196.38 L807.19,196.61 L804.00,196.86 L800.81,197.13 L797.59,197.41 L794.36,197.70 L791.12,198.00 L787.86,198.32 L784.58,198.66 L781.29,199.00 L777.99,199.36 L774.67,199.74 L771.34,200.12 L768.00,200.53 L764.64,200.94 L761.27,201.37 L757.89,201.81 L754.50,202.27 L751.10,202.74 L747.68,203.22 L744.26,203.72 L740.82,204.23 L737.38,204.75 L733.93,205.29 L730.47,205.84 L727.00,206.41 L723.52,206.99 L720.04,207.58 L716.54,208.19 L713.05,208.81 L709.54,209.44 L706.03,210.09 L702.51,210.75 L698.99,211.43 L695.46,212.12 L691.93,212.82 L688.40,213.54 L684.86,214.27 L681.32,215.02 L677.77,215.77 L674.23,216.55 L670.68,217.33 L667.13,218.13 L663.58,218.95 L660.03,219.78 L656.47,220.62 L652.92,221.47 L649.37,222.34 L645.82,223.22 L642.27,224.12 L638.72,225.03 L635.18,225.96 L631.64,226.89 L628.10,227.84 L624.56,228.81 L621.03,229.79 L617.50,230.78 L613.98,231.79 L610.46,232.81 L606.94,233.84 L603.44,234.89 L599.94,235.95 L596.44,237.02 L592.95,238.11 L589.47,239.21 L586.00,240.33 L582.53,241.46 L579.08,242.60 L575.63,243.75 L572.19,244.92 L568.76,246.10 L565.34,247.30 L561.93,248.51 L558.53,249.73 L555.14,250.96 L551.77,252.21 L548.40,253.47 L545.05,254.75 L541.71,256.04 L538.38,257.34 L535.06,258.65 L531.76,259.97 L528.47,261.31 L525.20,262.66 L521.93,264.03 L518.69,265.40 L515.46,266.79 L512.24,268.20 L509.04,269.61 L505.85,271.04 L502.68,272.48 L499.53,273.93 L496.39,275.39 L493.27,276.86 L490.17,278.35 L487.09,279.85 L484.02,281.36 L480.97,282.88 L477.93,284.42 L474.92,285.96 L471.92,287.52 L468.95,289.09 L465.99,290.67 L463.05,292.26 L460.13,293.86 L457.23,295.48 L454.35,297.10 L451.49,298.74 L448.65,300.38 L445.83,302.04 L443.03,303.70 L440.25,305.38 L437.49,307.07 L434.76,308.77 L432.04,310.47 L429.35,312.19 L426.68,313.92" stroke="#E8A02C" stroke-width="3.31" stroke-dasharray="9.9402 16.5670" stroke-dashoffset="0.00"/>
<path d="M342.26,257.78 L338.53,260.50 L334.86,263.25 L331.23,266.01 L327.66,268.79 L324.15,271.60 L320.69,274.42 L317.28,277.27 L313.92,280.14 L310.62,283.02 L307.36,285.93 L304.17,288.85 L301.02,291.79 L297.93,294.75 L294.89,297.73 L291.90,300.73 L288.96,303.75 L286.08,306.78 L283.25,309.83 L280.46,312.89 L277.74,315.98 L275.06,319.07 L272.43,322.19 L269.85,325.32 L267.33,328.46 L264.85,331.62 L262.42,334.79 L260.04,337.98 L257.72,341.18 L255.43,344.40 L253.20,347.62 L251.02,350.86 L248.88,354.11 L246.79,357.37 L244.75,360.64 L242.75,363.93 L240.80,367.22 L238.89,370.53 L237.03,373.84 L235.21,377.16 L233.44,380.49 L231.71,383.83 L230.02,387.18 L228.38,390.53 L226.77,393.89 L225.21,397.26 L223.69,400.63 L222.21,404.01 L220.76,407.39 L219.36,410.78 L218.00,414.17 L216.67,417.56 L215.38,420.96 L214.13,424.36 L212.91,427.77 L211.73,431.17 L210.58,434.58 L209.47,437.99 L208.39,441.39 L207.34,444.80 L206.33,448.21 L205.35,451.61 L204.40,455.02 L203.48,458.42 L202.59,461.82 L201.73,465.22 L200.90,468.61 L200.10,472.00 L199.32,475.39 L198.57,478.77 L197.85,482.15 L197.16,485.52 L196.49,488.89 L195.84,492.24 L195.22,495.60 L194.62,498.94 L194.04,502.28 L193.49,505.61 L192.96,508.93 L192.45,512.24 L191.96,515.54 L191.49,518.83 L191.04,522.11 L190.60,525.38 L190.19,528.64 L189.80,531.89 L189.42,535.13 L189.05,538.35 L188.71,541.56 L188.38,544.76 L188.06,547.95 L187.76,551.12 L187.48,554.27 L187.20,557.42 L186.95,560.54 L186.70,563.66 L186.46,566.75 L186.24,569.83 L186.03,572.90 L185.83,575.95 L185.64,578.98 L185.46,581.99 L185.29,584.99 L185.13,587.97 L184.98,590.93 L184.84,593.87 L184.71,596.79 L184.58,599.69 L184.46,602.58 L184.35,605.44 L184.24,608.29 L184.15,611.11 L184.05,613.92 L183.97,616.70 L183.89,619.46 L183.82,622.21 L183.75,624.93 L183.68,627.63 L183.63,630.30 L183.57,632.96 L183.52,635.59 L183.48,638.20 L183.44,640.79 L183.40,643.36 L183.37,645.90 L183.34,648.42 L183.31,650.92 L183.29,653.39 L183.27,655.84 L183.26,658.27 L183.25,660.67 L183.24,663.05 L183.23,665.40 L183.23,667.73 L183.23,670.04 L183.24,672.32 L183.25,674.57 L183.26,676.80 L183.27,679.01 L183.29,681.19 L183.31,683.35 L183.34,685.48 L183.37,687.59 L183.40,689.67 L183.44,691.73 L183.48,693.76 L183.52,695.77 L183.57,697.75 L183.62,699.70 L183.68,701.63 L183.75,703.54 L183.81,705.42 L183.89,707.27 L183.97,709.10 L184.05,710.90 L184.14,712.68 L184.24,714.43 L184.34,716.15 L184.46,717.85 L184.57,719.53 L184.70,721.18 L184.83,722.80 L184.98,724.40 L185.13,725.97 L185.29,727.51 L185.46,729.03 L185.63,730.53 L185.82,732.00 L186.02,733.44 L186.23,734.86 L186.46,736.25 L186.69,737.62 L186.94,738.96 L187.19,740.28 L187.47,741.57 L187.75,742.84 L188.05,744.08 L188.37,745.29 L188.70,746.48 L189.04,747.65 L189.40,748.79 L189.78,749.90 L190.18,750.99 L190.59,752.06 L191.02,753.10 L191.47,754.12 L191.94,755.11 L192.43,756.07 L192.94,757.02 L193.47,757.93 L194.02,758.82 L194.60,759.69 L195.20,760.54 L195.82,761.35 L196.46,762.15 L197.13,762.92 L197.83,763.67 L198.55,764.39 L199.29,765.08 L200.07,765.76 L200.87,766.41 L201.70,767.03 L202.56,767.63 L203.45,768.21 L204.36,768.76 L205.31,769.29 L206.29,769.80 L207.31,770.28 L208.35,770.74 L209.43,771.17 L210.54,771.58 L211.68,771.97 L212.86,772.34 L214.08,772.67 L215.33,772.99 L216.62,773.28 L217.95,773.55 L219.31,773.80 L220.71,774.02 L222.15,774.22 L223.63,774.39 L225.15,774.55 L226.71,774.67 L228.32,774.78 L229.96,774.86 L231.64,774.92 L233.37,774.95 L235.15,774.96 L236.96,774.95 L238.82,774.92 L240.73,774.86 L242.68,774.78 L244.67,774.67 L246.71,774.54 L248.80,774.39 L250.94,774.21 L253.12,774.01 L255.35,773.79 L257.63,773.54 L259.95,773.27 L262.33,772.98 L264.76,772.66 L267.23,772.32 L269.76,771.96 L272.33,771.57 L274.96,771.16 L277.63,770.72 L280.36,770.26 L283.14,769.78 L285.97,769.27 L288.85,768.74 L291.79,768.19 L294.77,767.61 L297.81,767.01 L300.90,766.38 L304.05,765.73 L307.24,765.06 L310.49,764.36 L313.79,763.64 L317.15,762.89 L320.56,762.12 L324.02,761.32 L327.53,760.50 L331.10,759.66 L334.72,758.79 L338.39,757.90 L342.12,756.98 L345.89,756.04 L349.72,755.07 L353.61,754.08 L357.54,753.06 L361.53,752.02 L365.57,750.95 L369.66,749.86 L373.80,748.75 L378.00,747.60 L382.24,746.44 L386.54,745.25 L390.88,744.03 L395.28,742.79 L399.72,741.52 L404.22,740.23 L408.76,738.91 L413.35,737.57 L417.99,736.20 L422.68,734.81 L427.42,733.39 L432.20,731.94 L437.02,730.47 L441.90,728.98 L446.82,727.45 L451.78,725.91 L456.78,724.34 L461.83,722.74 L466.93,721.11 L472.06,719.46 L477.24,717.79 L482.45,716.09 L487.71,714.36 L493.00,712.61 L498.34,710.83 L503.71,709.03 L509.12,707.20 L514.56,705.35 L520.04,703.47 L525.56,701.56 L531.11,699.63 L536.69,697.67 L542.31,695.69 L547.95,693.68 L553.63,691.65 L559.33,689.59 L565.07,687.51 L570.83,685.40 L576.62,683.27 L582.44,681.11 L588.28,678.93 L594.15,676.72 L600.03,674.49 L605.95,672.23 L611.88,669.95 L617.83,667.64 L623.80,665.31 L629.79,662.96 L635.80,660.58 L641.83,658.17 L647.87,655.75 L653.92,653.30 L659.99,650.82 L666.07,648.33 L672.16,645.81 L678.26,643.26 L684.37,640.70 L690.49,638.11 L696.62,635.49 L702.75,632.86 L708.89,630.20 L715.03,627.53 L721.17,624.83 L727.32,622.10 L733.47,619.36 L739.62,616.60 L745.77,613.81 L751.91,611.01 L758.05,608.18 L764.19,605.34 L770.32,602.47 L776.45,599.58 L782.57,596.68 L788.68,593.76 L794.79,590.81 L800.88,587.85 L806.96,584.87 L813.03,581.88 L819.09,578.86 L825.13,575.83 L831.16,572.78 L837.17,569.72 L843.17,566.64 L849.15,563.54 L855.10,560.43 L861.04,557.30 L866.96,554.15 L872.86,551.00 L878.74,547.83 L884.59,544.64 L890.42,541.44 L896.23,538.23 L902.00,535.00 L907.76,531.77 L913.48,528.52 L919.18,525.26 L924.85,521.99 L930.49,518.71 L936.10,515.41 L941.68,512.11 L947.23,508.80 L952.74,505.48 L958.22,502.15 L963.67,498.81 L969.08,495.47 L974.46,492.12 L979.80,488.76 L985.11,485.39 L990.38,482.02 L995.61,478.64 L1000.80,475.26 L1005.96,471.88 L1011.07,468.49 L1016.15,465.09 L1021.18,461.69 L1026.18,458.29 L1031.13,454.89 L1036.04,451.49 L1040.91,448.08 L1045.73,444.67 L1050.52,441.26 L1055.26,437.86 L1059.95,434.45 L1064.60,431.04 L1069.21,427.64 L1073.77,424.23 L1078.28,420.83 L1082.75,417.44 L1087.17,414.04 L1091.55,410.65 L1095.88,407.26 L1100.16,403.88 L1104.39,400.50 L1108.58,397.13 L1112.72,393.76 L1116.81,390.40 L1120.85,387.05 L1124.84,383.70 L1128.79,380.37 L1132.68,377.03 L1136.53,373.71 L1140.32,370.40 L1144.07,367.10 L1147.77,363.80 L1151.42,360.52 L1155.01,357.25 L1158.56,353.99 L1162.06,350.74 L1165.50,347.50 L1168.90,344.27 L1172.25,341.06 L1175.54,337.86 L1178.79,334.67 L1181.98,331.50 L1185.12,328.34 L1188.22,325.20 L1191.26,322.07 L1194.25,318.96 L1197.19,315.86 L1200.08,312.78 L1202.91,309.71 L1205.70,306.66 L1208.44,303.63 L1211.12,300.62 L1213.76,297.62 L1216.34,294.64 L1218.88,291.68 L1221.36,288.74 L1223.79,285.82 L1226.17,282.91 L1228.50,280.03 L1230.78,277.16 L1233.01,274.32 L1235.19,271.49 L1237.32,268.69 L1239.40,265.90 L1241.43,263.14 L1243.41,260.40 L1245.33,257.68 L1247.21,254.98 L1249.04,252.30 L1250.82,249.65 L1252.55,247.02 L1254.23,244.41 L1255.86,241.82 L1257.43,239.25 L1258.96,236.71 L1260.45,234.19 L1261.88,231.70 L1263.26,229.22 L1264.59,226.78 L1265.87,224.35 L1267.11,221.95 L1268.29,219.57 L1269.43,217.22 L1270.52,214.89 L1271.56,212.58 L1272.55,210.30 L1273.49,208.04 L1274.38,205.81 L1275.23,203.60 L1276.02,201.41 L1276.77,199.25 L1277.47,197.12 L1278.12,195.01 L1278.72,192.92 L1279.27,190.86 L1279.78,188.82 L1280.24,186.81 L1280.65,184.82 L1281.01,182.86 L1281.32,180.92 L1281.59,179.01 L1281.80,177.12 L1281.97,175.25 L1282.09,173.41 L1282.17,171.59 L1282.19,169.80 L1282.17,168.04 L1282.10,166.29 L1281.98,164.57 L1281.81,162.88 L1281.60,161.21 L1281.33,159.56 L1281.02,157.94 L1280.66,156.34 L1280.25,154.77 L1279.80,153.22 L1279.29,151.69 L1278.74,150.19 L1278.14,148.71 L1277.49,147.25 L1276.80,145.82 L1276.05,144.41 L1275.26,143.02 L1274.41,141.66 L1273.52,140.31 L1272.58,139.00 L1271.60,137.70 L1270.56,136.42 L1269.47,135.17 L1268.34,133.94 L1267.15,132.73 L1265.92,131.55 L1264.64,130.38 L1263.31,129.24 L1261.93,128.12 L1260.50,127.02 L1259.02,125.94 L1257.49,124.88 L1255.92,123.84 L1254.29,122.83 L1252.61,121.83 L1250.89,120.86 L1249.11,119.90 L1247.28,118.96 L1245.41,118.05 L1243.48,117.15 L1241.50,116.28 L1239.48,115.42 L1237.40,114.58 L1235.27,113.77 L1233.10,112.97 L1230.87,112.19 L1228.59,111.42 L1226.26,110.68 L1223.88,109.96 L1221.45,109.25 L1218.97,108.56 L1216.44,107.89 L1213.86,107.24 L1211.22,106.61 L1208.54,105.99 L1205.81,105.39 L1203.02,104.81 L1200.18,104.24 L1197.30,103.69 L1194.36,103.16 L1191.37,102.65 L1188.33,102.15 L1185.24,101.67 L1182.10,101.21 L1178.91,100.76 L1175.67,100.33 L1172.37,99.91 L1169.03,99.51 L1165.63,99.13 L1162.19,98.76 L1158.69,98.41 L1155.15,98.07 L1151.55,97.75 L1147.91,97.45 L1144.21,97.16 L1140.47,96.88 L1136.67,96.63 L1132.83,96.38 L1128.94,96.15 L1124.99,95.94 L1121.00,95.74 L1116.96,95.56 L1112.87,95.39 L1108.74,95.23 L1104.55,95.09 L1100.32,94.97 L1096.04,94.86 L1091.71,94.77 L1087.34,94.69 L1082.92,94.62 L1078.45,94.57 L1073.94,94.53 L1069.38,94.51 L1064.78,94.50 L1060.13,94.51 L1055.43,94.53 L1050.70,94.57 L1045.92,94.62 L1041.09,94.69 L1036.23,94.77 L1031.32,94.86 L1026.36,94.97 L1021.37,95.10 L1016.34,95.24 L1011.26,95.39 L1006.15,95.56 L1001.00,95.75 L995.81,95.95 L990.58,96.16 L985.31,96.39 L980.00,96.63 L974.66,96.89 L969.29,97.17 L963.87,97.46 L958.43,97.77 L952.95,98.09 L947.43,98.42 L941.89,98.78 L936.31,99.14 L930.70,99.53 L925.06,99.93 L919.40,100.34 L913.70,100.78 L907.97,101.22 L902.22,101.69 L896.44,102.17 L890.64,102.67 L884.81,103.18 L878.96,103.72 L873.09,104.26 L867.19,104.83 L861.27,105.41 L855.33,106.01 L849.37,106.63 L843.39,107.26 L837.40,107.92 L831.39,108.59 L825.36,109.28 L819.32,109.98 L813.26,110.71 L807.19,111.45 L801.11,112.22 L795.02,113.00 L788.91,113.80 L782.80,114.61 L776.68,115.45 L770.56,116.31 L764.42,117.19 L758.29,118.08 L752.14,119.00 L746.00,119.94 L739.85,120.89 L733.70,121.87 L727.55,122.87 L721.41,123.88 L715.26,124.92 L709.12,125.98 L702.98,127.06 L696.85,128.16 L690.72,129.28 L684.60,130.43 L678.49,131.59 L672.39,132.78 L666.30,133.99 L660.22,135.22 L654.15,136.47 L648.09,137.75 L642.05,139.04 L636.03,140.36 L630.02,141.71 L624.03,143.07 L618.06,144.46 L612.10,145.87 L606.17,147.31 L600.26,148.76 L594.37,150.25 L588.50,151.75 L582.66,153.28 L576.84,154.83 L571.05,156.40 L565.29,158.00 L559.55,159.63 L553.84,161.27 L548.17,162.94 L542.52,164.64 L536.90,166.36 L531.32,168.10 L525.77,169.87 L520.25,171.66 L514.77,173.48 L509.32,175.32 L503.91,177.19 L498.54,179.08 L493.20,180.99 L487.91,182.93 L482.65,184.90 L477.43,186.89 L472.25,188.90 L467.12,190.94 L462.03,193.00 L456.97,195.09 L451.97,197.20 L447.00,199.34 L442.08,201.50 L437.21,203.68 L432.38,205.89 L427.60,208.13 L422.86,210.38 L418.17,212.67 L413.53,214.97 L408.94,217.31 L404.39,219.66 L399.89,222.04 L395.45,224.44 L391.05,226.87 L386.70,229.32 L382.40,231.79 L378.16,234.29 L373.96,236.81 L369.82,239.35 L365.72,241.92 L361.68,244.51 L357.69,247.12 L353.76,249.75 L349.87,252.41 L346.04,255.08 L342.26,257.78" stroke="#E8A02C" stroke-width="3.31" stroke-dasharray="0.01 13.2400" stroke-dashoffset="1.00"/>
<path d="M421.86,314.52 L419.18,316.26 L416.53,318.01 L413.89,319.77 L411.28,321.54 L408.69,323.32 L406.13,325.10 L403.58,326.90 L401.06,328.70 L398.56,330.51 L396.09,332.33 L393.64,334.16 L391.21,336.00 L388.80,337.84 L386.42,339.70 L384.06,341.55 L381.72,343.42 L379.41,345.29 L377.12,347.18 L374.85,349.06 L372.61,350.96 L370.39,352.86 L368.19,354.76 L366.02,356.68 L363.87,358.60 L361.74,360.52 L359.64,362.45 L357.56,364.39 L355.51,366.33 L353.47,368.28 L351.47,370.23 L349.48,372.19 L347.52,374.15 L345.59,376.12 L343.67,378.09 L341.78,380.06 L339.91,382.04 L338.07,384.02 L336.25,386.01 L334.45,387.99 L332.68,389.99 L330.93,391.98 L329.20,393.98 L327.50,395.98 L325.82,397.98 L324.16,399.99 L322.53,402.00 L320.92,404.01 L319.33,406.02 L317.76,408.03 L316.22,410.04 L314.69,412.06 L313.20,414.07 L311.72,416.09 L310.26,418.11 L308.83,420.12 L307.42,422.14 L306.03,424.16 L304.67,426.17 L303.32,428.19 L302.00,430.21 L300.70,432.22 L299.42,434.24 L298.16,436.25 L296.92,438.26 L295.71,440.27 L294.51,442.28 L293.34,444.28 L292.19,446.29 L291.06,448.29 L289.94,450.28 L288.85,452.28 L287.78,454.27 L286.73,456.26 L285.70,458.25 L284.69,460.23 L283.70,462.21 L282.73,464.18 L281.78,466.16 L280.85,468.12 L279.94,470.08 L279.04,472.04 L278.17,473.99 L277.32,475.94 L276.48,477.88 L275.67,479.82 L274.87,481.75 L274.09,483.67 L273.33,485.59 L272.59,487.51 L271.87,489.41 L271.16,491.31 L270.47,493.21 L269.81,495.09 L269.16,496.97 L268.52,498.84 L267.91,500.71 L267.31,502.56 L266.73,504.41 L266.17,506.26 L265.62,508.09 L265.09,509.91 L264.58,511.73 L264.09,513.54 L263.61,515.34 L263.15,517.13 L262.71,518.91 L262.29,520.68 L261.88,522.45 L261.48,524.20 L261.11,525.94 L260.75,527.68 L260.40,529.40 L260.08,531.11 L259.77,532.82 L259.47,534.51 L259.19,536.19 L258.93,537.87 L258.69,539.53 L258.46,541.18 L258.24,542.82 L258.05,544.44 L257.86,546.06 L257.70,547.67 L257.55,549.26 L257.41,550.84 L257.29,552.41 L257.19,553.97 L257.10,555.52 L257.03,557.05 L256.98,558.57 L256.94,560.08 L256.91,561.58 L256.90,563.06 L256.91,564.53 L256.93,565.99 L256.97,567.43 L257.03,568.87 L257.10,570.28 L257.18,571.69 L257.28,573.08 L257.40,574.46 L257.54,575.83 L257.68,577.18 L257.85,578.51 L258.03,579.84 L258.23,581.15 L258.44,582.44 L258.67,583.72 L258.91,584.99 L259.17,586.24 L259.45,587.48 L259.74,588.71 L260.05,589.92 L260.38,591.11 L260.72,592.29 L261.08,593.46 L261.45,594.61 L261.84,595.74 L262.25,596.86 L262.68,597.97 L263.12,599.06 L263.57,600.13 L264.05,601.19 L264.54,602.24 L265.05,603.27 L265.58,604.28 L266.12,605.28 L266.68,606.26 L267.26,607.23 L267.86,608.18 L268.47,609.12 L269.10,610.04 L269.75,610.94 L270.42,611.83 L271.10,612.70 L271.81,613.56 L272.53,614.40 L273.27,615.22 L274.03,616.03 L274.80,616.82 L275.60,617.60 L276.41,618.36 L277.25,619.10 L278.10,619.83 L278.97,620.54 L279.86,621.24 L280.77,621.92 L281.70,622.58 L282.65,623.22 L283.62,623.85 L284.61,624.47 L285.62,625.06 L286.65,625.64 L287.69,626.21 L288.76,626.75 L289.85,627.28 L290.96,627.80 L292.09,628.29 L293.24,628.77 L294.42,629.24 L295.61,629.68 L296.82,630.11 L298.06,630.53 L299.31,630.92 L300.59,631.30 L301.89,631.67 L303.21,632.01 L304.55,632.34 L305.92,632.65 L307.31,632.95 L308.71,633.23 L310.14,633.49 L311.60,633.73 L313.07,633.96 L314.57,634.17 L316.09,634.37 L317.63,634.55 L319.19,634.71 L320.78,634.85 L322.39,634.98 L324.03,635.08 L325.68,635.18 L327.36,635.25 L329.06,635.31 L330.79,635.35 L332.53,635.38 L334.31,635.39 L336.10,635.38 L337.92,635.35 L339.76,635.31 L341.62,635.25 L343.51,635.17 L345.42,635.08 L347.36,634.97 L349.32,634.84 L351.30,634.69 L353.31,634.53 L355.34,634.35 L357.39,634.16 L359.47,633.94 L361.57,633.71 L363.69,633.47 L365.84,633.21 L368.01,632.93 L370.20,632.63 L372.42,632.31 L374.66,631.98 L376.93,631.64 L379.21,631.27 L381.53,630.89 L383.86,630.49 L386.22,630.08 L388.60,629.65 L391.01,629.20 L393.43,628.73 L395.88,628.25 L398.36,627.75 L400.85,627.24 L403.37,626.71 L405.91,626.16 L408.48,625.60 L411.07,625.01 L413.68,624.42 L416.31,623.80 L418.96,623.17 L421.64,622.52 L424.33,621.86 L427.05,621.18 L429.79,620.48 L432.55,619.77 L435.34,619.04 L438.14,618.30 L440.97,617.54 L443.81,616.76 L446.68,615.96 L449.57,615.16 L452.47,614.33 L455.40,613.49 L458.35,612.63 L461.31,611.76 L464.30,610.87 L467.30,609.96 L470.33,609.04 L473.37,608.10 L476.43,607.15 L479.51,606.18 L482.61,605.20 L485.72,604.20 L488.85,603.18 L492.00,602.15 L495.17,601.11 L498.35,600.04 L501.55,598.97 L504.77,597.88 L508.00,596.77 L511.24,595.65 L514.51,594.51 L517.78,593.36 L521.07,592.19 L524.38,591.01 L527.70,589.82 L531.03,588.60 L534.38,587.38 L537.74,586.14 L541.11,584.89 L544.50,583.62 L547.90,582.34 L551.31,581.04 L554.73,579.73 L558.16,578.40 L561.60,577.06 L565.05,575.71 L568.51,574.35 L571.99,572.97 L575.47,571.57 L578.96,570.17 L582.45,568.75 L585.96,567.31 L589.48,565.87 L593.00,564.41 L596.53,562.94 L600.06,561.45 L603.60,559.95 L607.15,558.44 L610.70,556.92 L614.26,555.39 L617.82,553.84 L621.39,552.28 L624.96,550.71 L628.53,549.13 L632.11,547.53 L635.69,545.93 L639.27,544.31 L642.85,542.68 L646.44,541.04 L650.02,539.39 L653.61,537.73 L657.20,536.05 L660.78,534.37 L664.37,532.68 L667.95,530.97 L671.53,529.26 L675.12,527.53 L678.69,525.80 L682.27,524.05 L685.84,522.30 L689.41,520.53 L692.98,518.76 L696.54,516.98 L700.10,515.19 L703.65,513.39 L707.19,511.58 L710.73,509.76 L714.27,507.94 L717.79,506.10 L721.31,504.26 L724.82,502.41 L728.33,500.55 L731.82,498.69 L735.31,496.81 L738.79,494.93 L742.25,493.05 L745.71,491.15 L749.16,489.25 L752.59,487.35 L756.02,485.43 L759.43,483.51 L762.84,481.59 L766.23,479.66 L769.60,477.72 L772.97,475.78 L776.32,473.83 L779.65,471.88 L782.98,469.92 L786.28,467.96 L789.58,465.99 L792.86,464.02 L796.12,462.05 L799.36,460.07 L802.59,458.08 L805.81,456.10 L809.00,454.11 L812.18,452.11 L815.34,450.12 L818.49,448.12 L821.61,446.12 L824.72,444.11 L827.81,442.11 L830.88,440.10 L833.92,438.09 L836.95,436.08 L839.96,434.07 L842.95,432.05 L845.92,430.04 L848.86,428.02 L851.79,426.01 L854.69,423.99 L857.57,421.97 L860.43,419.95 L863.27,417.94 L866.08,415.92 L868.87,413.90 L871.64,411.89 L874.38,409.87 L877.10,407.86 L879.80,405.85 L882.47,403.84 L885.11,401.83 L887.73,399.82 L890.33,397.82 L892.90,395.81 L895.45,393.81 L897.97,391.82 L900.46,389.82 L902.93,387.83 L905.37,385.84 L907.78,383.85 L910.17,381.87 L912.53,379.90 L914.86,377.92 L917.17,375.95 L919.45,373.99 L921.70,372.02 L923.92,370.07 L926.11,368.12 L928.28,366.17 L930.41,364.23 L932.52,362.29 L934.60,360.36 L936.65,358.44 L938.67,356.52 L940.66,354.61 L942.63,352.70 L944.56,350.80 L946.46,348.91 L948.33,347.02 L950.17,345.14 L951.99,343.26 L953.77,341.40 L955.52,339.54 L957.24,337.69 L958.93,335.85 L960.58,334.01 L962.21,332.18 L963.81,330.36 L965.37,328.55 L966.91,326.75 L968.41,324.95 L969.88,323.17 L971.32,321.39 L972.73,319.62 L974.10,317.86 L975.44,316.12 L976.76,314.37 L978.03,312.64 L979.28,310.92 L980.50,309.21 L981.68,307.51 L982.83,305.82 L983.95,304.14 L985.03,302.46 L986.08,300.80 L987.10,299.15 L988.09,297.51 L989.04,295.88 L989.96,294.26 L990.85,292.66 L991.70,291.06 L992.53,289.47 L993.32,287.90 L994.07,286.33 L994.79,284.78 L995.48,283.24 L996.14,281.71 L996.76,280.19 L997.35,278.69 L997.90,277.19 L998.43,275.71 L998.92,274.24 L999.37,272.78 L999.79,271.34 L1000.18,269.90 L1000.54,268.48 L1000.86,267.07 L1001.14,265.68 L1001.40,264.29 L1001.62,262.92 L1001.80,261.56 L1001.96,260.21 L1002.08,258.88 L1002.16,257.56 L1002.21,256.25 L1002.23,254.96 L1002.22,253.67 L1002.17,252.40 L1002.09,251.15 L1001.97,249.90 L1001.82,248.67 L1001.64,247.46 L1001.42,246.25 L1001.17,245.06 L1000.88,243.89 L1000.56,242.72 L1000.21,241.57 L999.83,240.43 L999.41,239.31 L998.95,238.20 L998.47,237.10 L997.95,236.02 L997.40,234.95 L996.81,233.90 L996.19,232.85 L995.54,231.82 L994.85,230.81 L994.13,229.81 L993.38,228.82 L992.59,227.85 L991.77,226.89 L990.92,225.94 L990.04,225.01 L989.12,224.09 L988.17,223.18 L987.18,222.29 L986.17,221.42 L985.12,220.55 L984.04,219.70 L982.92,218.87 L981.78,218.04 L980.60,217.24 L979.38,216.44 L978.14,215.66 L976.86,214.89 L975.55,214.14 L974.21,213.40 L972.84,212.68 L971.44,211.97 L970.00,211.27 L968.53,210.59 L967.03,209.92 L965.50,209.26 L963.94,208.62 L962.35,207.99 L960.72,207.38 L959.07,206.78 L957.38,206.19 L955.66,205.62 L953.91,205.06 L952.13,204.52 L950.33,203.99 L948.49,203.47 L946.62,202.97 L944.72,202.48 L942.79,202.01 L940.83,201.55 L938.84,201.10 L936.82,200.67 L934.77,200.25 L932.70,199.84 L930.59,199.45 L928.46,199.07 L926.29,198.71 L924.10,198.36 L921.88,198.02 L919.64,197.70 L917.36,197.39 L915.06,197.09 L912.73,196.81 L910.37,196.54 L907.98,196.29 L905.57,196.05 L903.13,195.82 L900.67,195.61 L898.18,195.41 L895.66,195.23 L893.12,195.06 L890.55,194.90 L887.95,194.75 L885.33,194.62 L882.69,194.51 L880.02,194.41 L877.33,194.32 L874.61,194.24 L871.87,194.18 L869.10,194.13 L866.31,194.10 L863.50,194.08 L860.67,194.07 L857.81,194.08 L854.93,194.10 L852.03,194.14 L849.11,194.19 L846.16,194.25 L843.20,194.32 L840.21,194.41 L837.20,194.52 L834.18,194.63 L831.13,194.77 L828.06,194.91 L824.98,195.07 L821.87,195.24 L818.75,195.43 L815.61,195.63 L812.45,195.84 L809.27,196.07 L806.07,196.31 L802.86,196.56 L799.63,196.83 L796.39,197.12 L793.13,197.41 L789.85,197.72 L786.56,198.05 L783.25,198.38 L779.93,198.74 L776.60,199.10 L773.25,199.48 L769.88,199.87 L766.51,200.28 L763.12,200.70 L759.72,201.14 L756.31,201.58 L752.88,202.05 L749.44,202.52 L746.00,203.01 L742.54,203.52 L739.07,204.03 L735.60,204.57 L732.11,205.11 L728.62,205.67 L725.12,206.24 L721.60,206.83 L718.09,207.43 L714.56,208.05 L711.03,208.67 L707.49,209.32 L703.94,209.97 L700.39,210.64 L696.84,211.33 L693.28,212.03 L689.71,212.74 L686.14,213.46 L682.57,214.20 L678.99,214.96 L675.41,215.73 L671.83,216.51 L668.25,217.30 L664.67,218.11 L661.08,218.94 L657.49,219.77 L653.91,220.62 L650.32,221.49 L646.74,222.37 L643.15,223.26 L639.57,224.16 L635.99,225.08 L632.41,226.02 L628.83,226.97 L625.26,227.93 L621.69,228.90 L618.12,229.89 L614.56,230.89 L611.00,231.91 L607.45,232.94 L603.90,233.98 L600.36,235.04 L596.82,236.11 L593.29,237.19 L589.77,238.29 L586.25,239.40 L582.75,240.53 L579.25,241.67 L575.76,242.82 L572.28,243.98 L568.80,245.16 L565.34,246.35 L561.89,247.56 L558.44,248.78 L555.01,250.01 L551.59,251.25 L548.18,252.51 L544.78,253.78 L541.40,255.06 L538.02,256.36 L534.66,257.67 L531.31,258.99 L527.98,260.33 L524.66,261.67 L521.35,263.03 L518.06,264.41 L514.78,265.79 L511.52,267.19 L508.27,268.60 L505.03,270.02 L501.82,271.46 L498.62,272.91 L495.43,274.36 L492.27,275.84 L489.11,277.32 L485.98,278.81 L482.86,280.32 L479.77,281.84 L476.69,283.37 L473.62,284.91 L470.58,286.46 L467.55,288.03 L464.55,289.60 L461.56,291.19 L458.59,292.79 L455.64,294.40 L452.72,296.02 L449.81,297.65 L446.92,299.29 L444.05,300.94 L441.20,302.60 L438.38,304.28 L435.57,305.96 L432.79,307.65 L430.02,309.35 L427.28,311.07 L424.56,312.79 L421.86,314.52" stroke="#8A2BE2" stroke-width="3.31" stroke-dasharray="9.9257 16.5429" stroke-dashoffset="0.00"/>
<path d="M335.46,258.85 L331.70,261.59 L327.99,264.35 L324.34,267.14 L320.74,269.94 L317.19,272.77 L313.70,275.62 L310.26,278.48 L306.88,281.37 L303.54,284.27 L300.27,287.19 L297.04,290.13 L293.87,293.09 L290.76,296.07 L287.69,299.06 L284.68,302.08 L281.73,305.11 L278.82,308.15 L275.97,311.21 L273.17,314.29 L270.42,317.39 L267.73,320.50 L265.08,323.62 L262.49,326.76 L259.95,329.92 L257.46,333.09 L255.02,336.27 L252.63,339.46 L250.29,342.67 L248.00,345.89 L245.76,349.12 L243.56,352.37 L241.42,355.62 L239.32,358.89 L237.27,362.17 L235.27,365.46 L233.31,368.75 L231.40,372.06 L229.54,375.38 L227.72,378.70 L225.94,382.03 L224.21,385.37 L222.53,388.72 L220.88,392.07 L219.28,395.43 L217.72,398.80 L216.21,402.17 L214.73,405.55 L213.30,408.93 L211.90,412.32 L210.55,415.70 L209.23,419.10 L207.95,422.49 L206.71,425.89 L205.51,429.29 L204.34,432.69 L203.21,436.09 L202.12,439.50 L201.06,442.90 L200.03,446.30 L199.04,449.70 L198.09,453.10 L197.16,456.50 L196.27,459.90 L195.41,463.29 L194.58,466.69 L193.78,470.07 L193.02,473.46 L192.28,476.84 L191.57,480.21 L190.89,483.58 L190.24,486.95 L189.62,490.30 L189.02,493.65 L188.45,497.00 L187.91,500.34 L187.39,503.67 L186.90,506.99 L186.44,510.30 L186.00,513.60 L185.58,516.90 L185.19,520.18 L184.83,523.45 L184.48,526.72 L184.16,529.97 L183.87,533.21 L183.59,536.44 L183.34,539.65 L183.12,542.86 L182.91,546.05 L182.73,549.22 L182.57,552.39 L182.43,555.54 L182.31,558.67 L182.22,561.79 L182.14,564.90 L182.09,567.99 L182.07,571.06 L182.06,574.12 L182.06,577.16 L182.06,580.19 L182.06,583.19 L182.06,586.18 L182.06,589.16 L182.06,592.11 L182.06,595.05 L182.06,597.96 L182.06,600.86 L182.06,603.74 L182.06,606.60 L182.06,609.44 L182.06,612.26 L182.06,615.06 L182.06,617.84 L182.06,620.60 L182.06,623.34 L182.06,626.06 L182.06,628.75 L182.06,631.43 L182.06,634.08 L182.06,636.71 L182.06,639.32 L182.06,641.90 L182.06,644.47 L182.06,647.01 L182.06,649.53 L182.06,652.02 L182.06,654.49 L182.06,656.94 L182.06,659.37 L182.06,661.77 L182.06,664.15 L182.06,666.50 L182.06,668.83 L182.06,671.14 L182.06,673.42 L182.06,675.68 L182.06,677.91 L182.06,680.12 L182.06,682.30 L182.06,684.46 L182.06,686.59 L182.06,688.70 L182.06,690.79 L182.06,692.84 L182.06,694.88 L182.06,696.89 L182.06,698.87 L182.06,700.83 L182.06,702.76 L182.06,704.67 L182.06,706.55 L182.06,708.41 L182.06,710.24 L182.06,712.05 L182.06,713.83 L182.06,715.58 L182.06,717.31 L182.06,719.01 L182.06,720.69 L182.06,722.35 L182.06,723.97 L182.06,725.57 L182.06,727.15 L182.06,728.70 L182.06,730.23 L182.06,731.73 L182.06,733.20 L182.06,734.65 L182.06,736.07 L182.08,737.47 L182.13,738.84 L182.19,740.19 L182.28,741.51 L182.39,742.81 L182.52,744.08 L182.67,745.32 L182.85,746.54 L183.05,747.74 L183.27,748.91 L183.51,750.05 L183.78,751.17 L184.06,752.27 L184.38,753.34 L184.71,754.38 L185.07,755.40 L185.45,756.40 L185.86,757.37 L186.29,758.32 L186.75,759.24 L187.23,760.13 L187.74,761.00 L188.27,761.85 L188.83,762.67 L189.42,763.47 L190.04,764.24 L190.68,764.99 L191.35,765.72 L192.05,766.42 L192.77,767.09 L193.53,767.75 L194.32,768.37 L195.14,768.98 L195.99,769.56 L196.87,770.11 L197.78,770.64 L198.73,771.15 L199.71,771.63 L200.72,772.09 L201.77,772.53 L202.85,772.94 L203.97,773.33 L205.12,773.69 L206.32,774.03 L207.54,774.34 L208.81,774.64 L210.11,774.91 L211.46,775.15 L212.84,775.37 L214.26,775.57 L215.72,775.74 L217.23,775.89 L218.77,776.02 L220.36,776.12 L221.99,776.20 L223.66,776.25 L225.38,776.29 L227.14,776.29 L228.94,776.28 L230.79,776.24 L232.69,776.18 L234.63,776.09 L236.61,775.98 L238.65,775.85 L240.73,775.69 L242.86,775.51 L245.04,775.30 L247.26,775.07 L249.54,774.82 L251.86,774.54 L254.24,774.24 L256.66,773.92 L259.13,773.57 L261.66,773.20 L264.24,772.81 L266.86,772.39 L269.54,771.95 L272.27,771.48 L275.05,770.99 L277.89,770.47 L280.78,769.93 L283.72,769.37 L286.71,768.78 L289.76,768.17 L292.86,767.54 L296.01,766.88 L299.21,766.19 L302.47,765.49 L305.79,764.75 L309.15,764.00 L312.57,763.21 L316.05,762.41 L319.58,761.58 L323.16,760.72 L326.80,759.84 L330.49,758.94 L334.23,758.01 L338.02,757.06 L341.87,756.08 L345.78,755.07 L349.73,754.05 L353.74,752.99 L357.80,751.92 L361.92,750.81 L366.09,749.68 L370.30,748.53 L374.58,747.35 L378.90,746.15 L383.27,744.92 L387.69,743.67 L392.17,742.39 L396.69,741.08 L401.27,739.75 L405.89,738.40 L410.56,737.02 L415.28,735.61 L420.05,734.18 L424.87,732.72 L429.73,731.24 L434.64,729.73 L439.59,728.20 L444.59,726.64 L449.64,725.06 L454.73,723.45 L459.86,721.81 L465.03,720.15 L470.25,718.46 L475.51,716.75 L480.81,715.01 L486.15,713.25 L491.53,711.46 L496.94,709.65 L502.40,707.81 L507.89,705.94 L513.42,704.05 L518.98,702.14 L524.58,700.20 L530.21,698.23 L535.88,696.24 L541.58,694.22 L547.30,692.18 L553.06,690.11 L558.85,688.02 L564.67,685.90 L570.51,683.76 L576.38,681.59 L582.28,679.40 L588.20,677.19 L594.15,674.94 L600.12,672.68 L606.11,670.39 L612.12,668.08 L618.15,665.74 L624.20,663.38 L630.27,660.99 L636.36,658.58 L642.46,656.15 L648.57,653.69 L654.70,651.21 L660.85,648.71 L667.00,646.19 L673.17,643.64 L679.34,641.07 L685.53,638.47 L691.72,635.86 L697.92,633.22 L704.12,630.56 L710.33,627.88 L716.54,625.17 L722.75,622.45 L728.97,619.71 L735.19,616.94 L741.40,614.15 L747.61,611.35 L753.83,608.52 L760.03,605.67 L766.23,602.81 L772.43,599.92 L778.62,597.02 L784.80,594.09 L790.98,591.15 L797.14,588.19 L803.29,585.21 L809.43,582.22 L815.56,579.20 L821.67,576.17 L827.77,573.13 L833.85,570.06 L839.92,566.99 L845.97,563.89 L852.00,560.78 L858.01,557.66 L864.00,554.52 L869.97,551.36 L875.92,548.19 L881.84,545.01 L887.74,541.82 L893.62,538.61 L899.47,535.39 L905.29,532.16 L911.09,528.91 L916.86,525.66 L922.60,522.39 L928.31,519.11 L933.99,515.83 L939.64,512.53 L945.26,509.22 L950.84,505.91 L956.39,502.58 L961.91,499.25 L967.39,495.91 L972.84,492.57 L978.25,489.21 L983.62,485.85 L988.96,482.49 L994.26,479.12 L999.52,475.74 L1004.74,472.36 L1009.93,468.97 L1015.07,465.58 L1020.17,462.19 L1025.23,458.80 L1030.25,455.40 L1035.22,452.00 L1040.16,448.60 L1045.05,445.20 L1049.89,441.79 L1054.70,438.39 L1059.45,434.99 L1064.17,431.59 L1068.84,428.19 L1073.46,424.79 L1078.03,421.39 L1082.56,417.99 L1087.05,414.60 L1091.48,411.21 L1095.87,407.83 L1100.21,404.45 L1104.51,401.08 L1108.75,397.71 L1112.95,394.34 L1117.09,390.98 L1121.19,387.63 L1125.24,384.29 L1129.24,380.95 L1133.19,377.62 L1137.09,374.30 L1140.94,370.98 L1144.74,367.68 L1148.49,364.39 L1152.19,361.10 L1155.84,357.83 L1159.44,354.56 L1162.99,351.31 L1166.48,348.07 L1169.93,344.84 L1173.32,341.63 L1176.67,338.42 L1179.96,335.23 L1183.20,332.05 L1186.39,328.89 L1189.53,325.74 L1192.62,322.61 L1195.65,319.49 L1198.64,316.38 L1201.57,313.29 L1204.45,310.22 L1207.28,307.16 L1210.06,304.12 L1212.78,301.10 L1215.46,298.09 L1218.08,295.10 L1220.65,292.13 L1223.18,289.17 L1225.65,286.24 L1228.06,283.32 L1230.43,280.43 L1232.75,277.55 L1235.01,274.69 L1237.23,271.85 L1239.39,269.03 L1241.50,266.23 L1243.56,263.45 L1245.57,260.69 L1247.53,257.96 L1249.44,255.24 L1251.30,252.55 L1253.11,249.87 L1254.87,247.22 L1256.57,244.59 L1258.23,241.99 L1259.84,239.40 L1261.39,236.84 L1262.90,234.30 L1264.36,231.78 L1265.76,229.29 L1267.12,226.81 L1268.42,224.37 L1269.68,221.94 L1270.89,219.54 L1272.05,217.16 L1273.16,214.81 L1274.21,212.48 L1275.22,210.17 L1276.19,207.88 L1277.10,205.63 L1277.96,203.39 L1278.77,201.18 L1279.53,198.99 L1280.25,196.83 L1280.92,194.69 L1281.53,192.57 L1282.10,190.48 L1282.62,188.42 L1283.09,186.38 L1283.51,184.36 L1283.88,182.37 L1284.21,180.40 L1284.48,178.45 L1284.71,176.53 L1284.89,174.64 L1285.02,172.77 L1285.10,170.92 L1285.13,169.10 L1285.11,167.30 L1285.05,165.52 L1284.94,163.77 L1284.77,162.05 L1284.56,160.35 L1284.30,158.67 L1283.99,157.01 L1283.64,155.38 L1283.23,153.78 L1282.78,152.19 L1282.27,150.64 L1281.72,149.10 L1281.12,147.59 L1280.47,146.10 L1279.77,144.63 L1279.02,143.19 L1278.23,141.77 L1277.38,140.37 L1276.49,139.00 L1275.54,137.65 L1274.55,136.32 L1273.51,135.01 L1272.41,133.73 L1271.27,132.47 L1270.08,131.23 L1268.84,130.01 L1267.55,128.82 L1266.21,127.64 L1264.82,126.49 L1263.38,125.36 L1261.89,124.25 L1260.35,123.16 L1258.76,122.10 L1257.12,121.05 L1255.43,120.02 L1253.68,119.02 L1251.89,118.04 L1250.05,117.07 L1248.16,116.13 L1246.22,115.20 L1244.22,114.30 L1242.18,113.42 L1240.08,112.55 L1237.94,111.71 L1235.74,110.88 L1233.49,110.08 L1231.19,109.29 L1228.84,108.53 L1226.44,107.78 L1223.98,107.05 L1221.48,106.34 L1218.92,105.64 L1216.32,104.97 L1213.66,104.31 L1210.95,103.67 L1208.19,103.05 L1205.37,102.45 L1202.51,101.87 L1199.59,101.30 L1196.63,100.75 L1193.61,100.22 L1190.54,99.70 L1187.42,99.21 L1184.24,98.72 L1181.02,98.26 L1177.74,97.81 L1174.42,97.38 L1171.04,96.97 L1167.61,96.57 L1164.13,96.19 L1160.60,95.83 L1157.02,95.48 L1153.38,95.15 L1149.70,94.83 L1145.97,94.53 L1142.18,94.25 L1138.35,93.98 L1134.47,93.73 L1130.53,93.49 L1126.55,93.27 L1122.51,93.07 L1118.43,92.88 L1114.30,92.70 L1110.12,92.54 L1105.89,92.40 L1101.61,92.27 L1097.29,92.16 L1092.91,92.06 L1088.49,91.98 L1084.03,91.92 L1079.51,91.86 L1074.95,91.83 L1070.34,91.81 L1065.69,91.80 L1060.99,91.81 L1056.25,91.84 L1051.46,91.88 L1046.63,91.94 L1041.75,92.01 L1036.83,92.09 L1031.87,92.20 L1026.86,92.31 L1021.82,92.45 L1016.73,92.59 L1011.60,92.76 L1006.43,92.94 L1001.22,93.13 L995.97,93.34 L990.69,93.57 L985.36,93.81 L980.00,94.07 L974.60,94.34 L969.16,94.63 L963.69,94.93 L958.19,95.25 L952.65,95.59 L947.07,95.94 L941.47,96.31 L935.83,96.70 L930.16,97.10 L924.46,97.52 L918.73,97.96 L912.97,98.41 L907.18,98.88 L901.37,99.37 L895.52,99.87 L889.66,100.39 L883.76,100.93 L877.85,101.48 L871.91,102.06 L865.95,102.65 L859.96,103.25 L853.96,103.88 L847.93,104.52 L841.89,105.19 L835.83,105.87 L829.75,106.56 L823.66,107.28 L817.55,108.02 L811.42,108.77 L805.29,109.55 L799.14,110.34 L792.98,111.15 L786.81,111.98 L780.63,112.83 L774.44,113.70 L768.25,114.59 L762.05,115.50 L755.84,116.43 L749.63,117.38 L743.42,118.35 L737.21,119.34 L730.99,120.35 L724.77,121.39 L718.56,122.44 L712.35,123.51 L706.14,124.61 L699.93,125.72 L693.73,126.86 L687.54,128.02 L681.35,129.20 L675.17,130.40 L669.00,131.63 L662.84,132.88 L656.70,134.14 L650.56,135.44 L644.44,136.75 L638.34,138.08 L632.25,139.44 L626.17,140.82 L620.12,142.23 L614.08,143.66 L608.06,145.11 L602.06,146.58 L596.09,148.08 L590.13,149.60 L584.20,151.14 L578.30,152.71 L572.42,154.30 L566.56,155.91 L560.74,157.55 L554.94,159.21 L549.17,160.90 L543.43,162.61 L537.73,164.34 L532.05,166.10 L526.41,167.88 L520.80,169.69 L515.22,171.52 L509.68,173.37 L504.18,175.25 L498.71,177.16 L493.28,179.08 L487.89,181.04 L482.54,183.01 L477.23,185.01 L471.95,187.04 L466.72,189.09 L461.54,191.16 L456.39,193.26 L451.29,195.38 L446.23,197.53 L441.21,199.70 L436.24,201.89 L431.32,204.11 L426.44,206.36 L421.61,208.62 L416.83,210.92 L412.09,213.23 L407.40,215.57 L402.76,217.93 L398.17,220.32 L393.63,222.73 L389.14,225.16 L384.70,227.62 L380.31,230.09 L375.97,232.60 L371.69,235.12 L367.45,237.67 L363.27,240.24 L359.14,242.83 L355.06,245.45 L351.03,248.08 L347.06,250.74 L343.14,253.42 L339.27,256.12 L335.46,258.85" stroke="#8A2BE2" stroke-width="3.31" stroke-dasharray="0.01 13.2400" stroke-dashoffset="4.50"/>
<circle cx="552.63" cy="399.06" r="6.50" fill="#D90000" stroke="none"/>
<circle cx="554.51" cy="401.10" r="6.50" fill="#0000FF" stroke="none"/>
<circle cx="552.02" cy="398.68" r="6.50" fill="#000000" stroke="none"/>
<circle cx="572.14" cy="403.31" r="6.50" fill="#E8A02C" stroke="none"/>
<circle cx="571.50" cy="403.40" r="6.50" fill="#8A2BE2" stroke="none"/>
</g>
<g fill="none" stroke="#000" stroke-width="1.66" stroke-linecap="round" stroke-linejoin="round">
<rect x="124.62" y="0.75" width="1550.83" height="979.15"/>
<line x1="182.06" y1="979.90" x2="182.06" y2="995.90"/>
<line x1="124.62" y1="943.64" x2="108.62" y2="943.64"/>
<line x1="469.22" y1="979.90" x2="469.22" y2="995.90"/>
<line x1="124.62" y1="762.38" x2="108.62" y2="762.38"/>
<line x1="756.39" y1="979.90" x2="756.39" y2="995.90"/>
<line x1="124.62" y1="581.11" x2="108.62" y2="581.11"/>
<line x1="1043.55" y1="979.90" x2="1043.55" y2="995.90"/>
<line x1="124.62" y1="399.85" x2="108.62" y2="399.85"/>
<line x1="1330.72" y1="979.90" x2="1330.72" y2="995.90"/>
<line x1="124.62" y1="218.58" x2="108.62" y2="218.58"/>
<line x1="1617.88" y1="979.90" x2="1617.88" y2="995.90"/>
<line x1="124.62" y1="37.32" x2="108.62" y2="37.32"/>
</g>
<g font-family="'Liberation Sans', Arial, Helvetica, sans-serif" font-size="26.40" fill="#000">
<text transform="translate(182.06,1037.00) scale(1.0000,1.0100)" text-anchor="middle">0.0</text>
<text transform="translate(87.00,943.94) scale(1.0500,1.0000) rotate(-90)" text-anchor="middle">0.0</text>
<text transform="translate(469.22,1037.00) scale(1.0000,1.0100)" text-anchor="middle">0.2</text>
<text transform="translate(87.00,762.68) scale(1.0500,1.0000) rotate(-90)" text-anchor="middle">0.2</text>
<text transform="translate(756.39,1037.00) scale(1.0000,1.0100)" text-anchor="middle">0.4</text>
<text transform="translate(87.00,581.41) scale(1.0500,1.0000) rotate(-90)" text-anchor="middle">0.4</text>
<text transform="translate(1043.55,1037.00) scale(1.0000,1.0100)" text-anchor="middle">0.6</text>
<text transform="translate(87.00,400.15) scale(1.0500,1.0000) rotate(-90)" text-anchor="middle">0.6</text>
<text transform="translate(1330.72,1037.00) scale(1.0000,1.0100)" text-anchor="middle">0.8</text>
<text transform="translate(87.00,218.88) scale(1.0500,1.0000) rotate(-90)" text-anchor="middle">0.8</text>
<text transform="translate(1617.88,1037.00) scale(1.0000,1.0100)" text-anchor="middle">1.0</text>
<text transform="translate(87.00,37.62) scale(1.0500,1.0000) rotate(-90)" text-anchor="middle">1.0</text>
<text transform="translate(900.00,1100.60) scale(1.0000,1.0400)" text-anchor="middle">1 − Specificity</text>
<text transform="translate(23.60,490.00) scale(1.0800,1.0140) rotate(-90)" text-anchor="middle">Sensitivity</text>
<text transform="translate(756.39,771.88) scale(1.0000,1.0450)" text-anchor="middle" fill="#E8A02C">AUC=0.707</text>
<text transform="translate(756.39,817.19) scale(1.0000,1.0450)" text-anchor="middle" fill="#8A2BE2">AUC=0.708</text>
<text transform="translate(756.39,862.51) scale(1.0000,1.0450)" text-anchor="middle" fill="#000000">AUC=0.699</text>
<text transform="translate(756.39,907.82) scale(1.0000,1.0450)" text-anchor="middle" fill="#D90000">AUC=0.697</text>
<text transform="translate(756.39,953.14) scale(1.0000,1.0450)" text-anchor="middle" fill="#0000FF">AUC=0.693</text>
</g>
<g font-family="'Liberation Sans', Arial, Helvetica, sans-serif" font-size="24.25" fill="#000">
<line x1="1064.90" y1="519.00" x2="1110.00" y2="519.00" stroke="#000" stroke-width="3.31" stroke-linecap="round" stroke-dasharray="9.93 16.55"/>
<text x="1129.50" y="526.80" text-anchor="start">95% CI regions</text>
<line x1="1064.90" y1="547.60" x2="1110.00" y2="547.60" stroke="#000" stroke-width="3.31" stroke-linecap="round" stroke-dasharray="0.01 13.24"/>
<text x="1129.50" y="555.40" text-anchor="start">95% Prediction regions</text>
<line x1="1208.50" y1="745.50" x2="1251.50" y2="745.50" stroke="#D90000" stroke-width="4.96" stroke-linecap="round"/>
<text x="1273.50" y="754.10" text-anchor="start">BLMM−Logit</text>
<line x1="1208.50" y1="774.10" x2="1251.50" y2="774.10" stroke="#000000" stroke-width="4.96" stroke-linecap="round"/>
<text x="1273.50" y="782.70" text-anchor="start">BGLMM</text>
<line x1="1208.50" y1="802.70" x2="1251.50" y2="802.70" stroke="#0000FF" stroke-width="4.96" stroke-linecap="round"/>
<text x="1273.50" y="811.30" text-anchor="start">Exact−Logit</text>
<line x1="1208.50" y1="831.30" x2="1251.50" y2="831.30" stroke="#E8A02C" stroke-width="4.96" stroke-linecap="round"/>
<text x="1273.50" y="839.90" text-anchor="start">Exact−ASR</text>
<line x1="1208.50" y1="859.90" x2="1251.50" y2="859.90" stroke="#8A2BE2" stroke-width="4.96" stroke-linecap="round"/>
<text x="1273.50" y="868.50" text-anchor="start">Exact−FTDA</text>
</g>
</svg>
</body></html>
